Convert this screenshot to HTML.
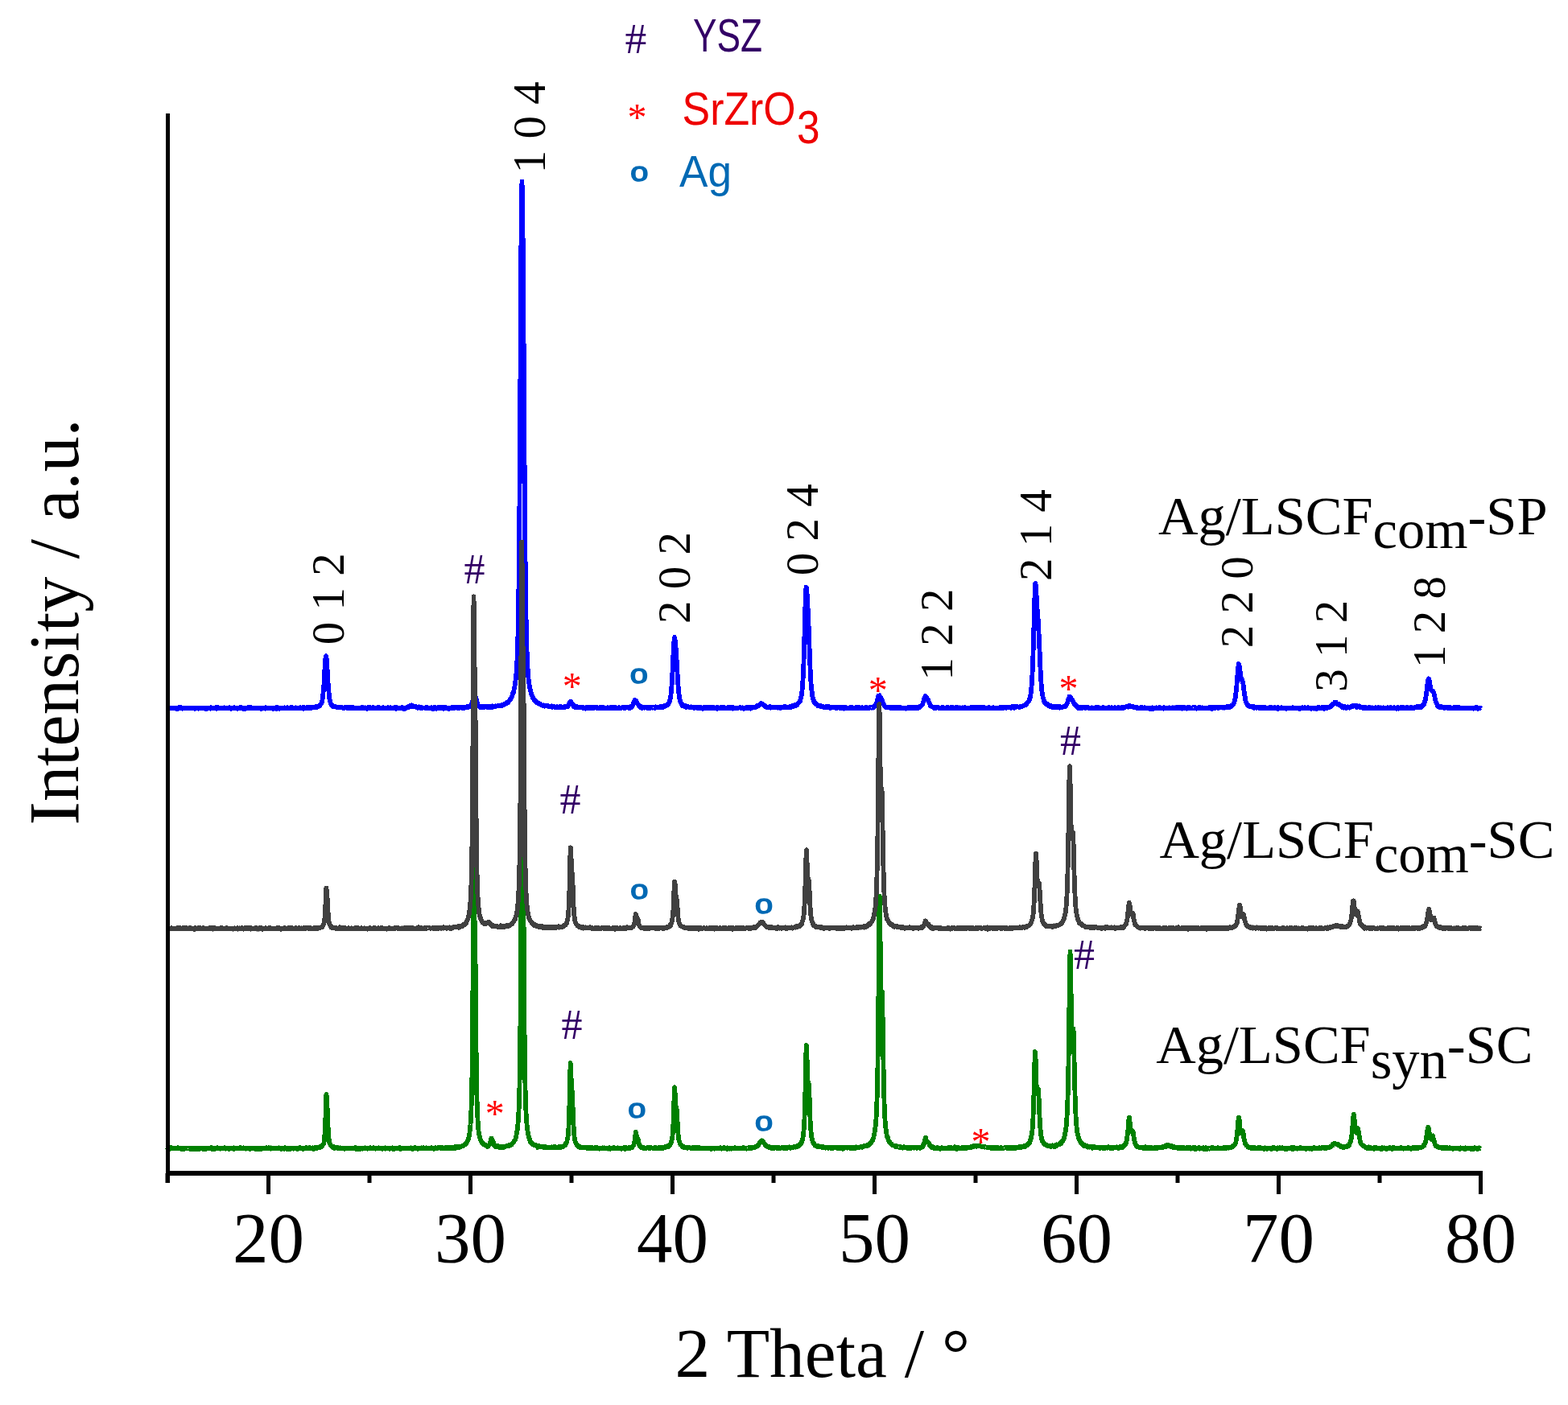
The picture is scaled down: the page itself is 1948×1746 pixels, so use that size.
<!DOCTYPE html><html><head><meta charset="utf-8"><title>XRD patterns</title>
<style>html,body{margin:0;padding:0;background:#fff;}svg{display:block;font-variant-ligatures:none;font-kerning:normal;}</style></head><body>
<svg width="1948" height="1746" viewBox="0 0 1948 1746">
<rect width="1948" height="1746" fill="#fff"/>
<g fill="none" stroke-width="5.8" stroke-linejoin="round" stroke-linecap="butt">
<polyline shape-rendering="crispEdges" stroke="#0000ff" points="208.0,879.8 208.5,879.7 209.0,879.8 209.5,880.5 210.0,879.6 210.5,879.8 211.0,880.2 211.5,879.7 212.0,879.8 212.5,879.9 213.0,880.0 213.5,879.8 214.0,880.3 214.5,880.0 215.0,880.2 215.5,879.7 216.0,879.9 216.5,880.1 217.0,880.3 217.5,880.1 218.0,880.0 218.5,880.1 219.0,879.4 219.5,879.6 220.0,881.1 220.5,880.7 221.0,880.1 221.5,880.1 222.0,879.9 222.5,879.9 223.0,879.1 223.5,880.4 224.0,880.1 224.5,879.2 225.0,879.7 225.5,879.7 226.0,880.2 226.5,880.6 227.0,879.9 227.5,879.9 228.0,880.5 228.5,880.2 229.0,880.0 229.5,880.3 230.0,880.0 230.5,879.9 231.0,880.0 231.5,880.2 232.0,879.8 232.5,879.6 233.0,879.9 233.5,880.3 234.0,879.7 234.5,880.2 235.0,879.6 235.5,880.4 236.0,879.6 236.5,880.0 237.0,880.5 237.5,880.1 238.0,880.0 238.5,879.8 239.0,880.4 239.5,880.4 240.0,879.9 240.5,880.2 241.0,879.9 241.5,879.7 242.0,880.6 242.5,879.9 243.0,879.5 243.5,880.1 244.0,880.3 244.5,879.7 245.0,879.9 245.5,879.6 246.0,880.1 246.5,880.6 247.0,880.0 247.5,880.1 248.0,879.6 248.5,879.9 249.0,880.6 249.5,880.4 250.0,879.6 250.5,879.7 251.0,880.2 251.5,880.0 252.0,879.8 252.5,879.8 253.0,879.6 253.5,879.9 254.0,880.0 254.5,880.1 255.0,879.6 255.5,880.9 256.0,880.0 256.5,879.9 257.0,880.6 257.5,879.8 258.0,880.2 258.5,879.6 259.0,880.0 259.5,879.7 260.0,879.5 260.5,879.8 261.0,880.3 261.5,880.6 262.0,879.3 262.5,880.0 263.0,880.3 263.5,879.9 264.0,880.1 264.5,879.6 265.0,880.0 265.5,880.0 266.0,880.3 266.5,879.8 267.0,880.4 267.5,879.7 268.0,879.4 268.5,880.6 269.0,881.0 269.5,879.7 270.0,878.9 270.5,880.4 271.0,880.5 271.5,879.7 272.0,880.3 272.5,880.2 273.0,880.1 273.5,879.8 274.0,880.1 274.5,879.9 275.0,880.0 275.5,880.3 276.0,880.1 276.5,880.3 277.0,880.0 277.5,880.4 278.0,880.4 278.5,879.4 279.0,880.0 279.5,880.0 280.0,879.8 280.5,880.1 281.0,880.1 281.5,879.8 282.0,879.8 282.5,880.4 283.0,879.6 283.5,880.2 284.0,880.4 284.5,880.3 285.0,880.1 285.5,879.3 286.0,880.5 286.5,879.9 287.0,880.8 287.5,880.0 288.0,879.6 288.5,880.0 289.0,880.2 289.5,879.9 290.0,879.7 290.5,879.7 291.0,879.2 291.5,879.9 292.0,880.2 292.5,880.0 293.0,880.0 293.5,879.9 294.0,880.0 294.5,879.9 295.0,880.6 295.5,879.6 296.0,880.2 296.5,880.4 297.0,879.7 297.5,879.4 298.0,879.8 298.5,879.9 299.0,880.3 299.5,878.8 300.0,879.6 300.5,880.4 301.0,880.3 301.5,879.9 302.0,880.6 302.5,879.9 303.0,880.1 303.5,879.5 304.0,879.6 304.5,881.0 305.0,879.9 305.5,880.6 306.0,879.5 306.5,879.9 307.0,879.8 307.5,880.4 308.0,879.2 308.5,879.1 309.0,880.4 309.5,879.8 310.0,880.2 310.5,880.0 311.0,880.5 311.5,879.2 312.0,880.3 312.5,880.1 313.0,879.8 313.5,880.2 314.0,880.0 314.5,880.2 315.0,880.0 315.5,880.4 316.0,880.1 316.5,880.0 317.0,880.0 317.5,879.9 318.0,880.1 318.5,879.6 319.0,880.1 319.5,880.0 320.0,880.2 320.5,880.2 321.0,880.5 321.5,879.7 322.0,880.4 322.5,880.2 323.0,879.8 323.5,879.8 324.0,880.1 324.5,880.8 325.0,879.8 325.5,879.8 326.0,880.5 326.5,879.6 327.0,880.2 327.5,880.4 328.0,879.9 328.5,880.0 329.0,879.9 329.5,880.6 330.0,879.2 330.5,880.2 331.0,880.5 331.5,879.7 332.0,880.1 332.5,879.8 333.0,880.1 333.5,879.9 334.0,879.8 334.5,880.2 335.0,879.6 335.5,880.1 336.0,880.3 336.5,879.9 337.0,879.7 337.5,880.0 338.0,880.3 338.5,879.7 339.0,880.7 339.5,880.3 340.0,879.9 340.5,880.5 341.0,879.9 341.5,879.9 342.0,879.6 342.5,880.3 343.0,880.2 343.5,879.8 344.0,880.9 344.5,878.7 345.0,880.2 345.5,880.2 346.0,879.6 346.5,879.9 347.0,880.6 347.5,879.7 348.0,879.5 348.5,880.1 349.0,880.0 349.5,879.7 350.0,880.3 350.5,879.7 351.0,879.8 351.5,880.2 352.0,880.5 352.5,880.0 353.0,880.2 353.5,879.5 354.0,879.8 354.5,879.6 355.0,879.8 355.5,879.8 356.0,880.2 356.5,879.6 357.0,879.2 357.5,880.0 358.0,880.1 358.5,880.0 359.0,880.1 359.5,880.2 360.0,879.8 360.5,880.0 361.0,879.3 361.5,879.9 362.0,879.7 362.5,879.5 363.0,880.0 363.5,879.3 364.0,880.1 364.5,880.1 365.0,880.0 365.5,879.9 366.0,880.4 366.5,879.8 367.0,880.5 367.5,879.3 368.0,879.9 368.5,880.1 369.0,880.2 369.5,879.9 370.0,879.9 370.5,880.2 371.0,880.2 371.5,879.9 372.0,879.9 372.5,879.4 373.0,879.3 373.5,879.7 374.0,879.6 374.5,880.3 375.0,879.5 375.5,879.7 376.0,879.5 376.5,879.1 377.0,880.7 377.5,879.6 378.0,880.1 378.5,879.5 379.0,880.1 379.5,879.9 380.0,879.5 380.5,879.4 381.0,879.5 381.5,879.9 382.0,879.8 382.5,879.2 383.0,879.5 383.5,880.3 384.0,879.1 384.5,879.3 385.0,879.1 385.5,879.6 386.0,879.2 386.5,879.8 387.0,879.1 387.5,879.4 388.0,879.0 388.5,878.8 389.0,879.5 389.5,879.1 390.0,879.1 390.5,878.5 391.0,878.7 391.5,879.4 392.0,878.7 392.5,878.4 393.0,877.6 393.5,878.9 394.0,878.5 394.5,877.7 395.0,878.5 395.5,878.2 396.0,877.4 396.5,876.7 397.0,877.1 397.5,876.2 398.0,876.0 398.5,874.8 399.0,874.5 399.5,873.3 400.0,872.5 400.5,869.8 401.0,867.0 401.5,861.5 402.0,856.6 402.5,849.9 403.0,840.5 403.5,830.7 404.0,823.1 404.5,817.4 404.6,816.7 405.0,815.3 405.5,816.9 406.0,820.9 406.5,829.6 407.0,839.4 407.5,847.9 408.0,854.6 408.5,860.1 409.0,864.9 409.5,869.4 410.0,870.7 410.5,872.7 411.0,874.1 411.5,874.7 412.0,876.2 412.5,877.4 413.0,876.5 413.5,877.8 414.0,877.5 414.5,878.1 415.0,877.5 415.5,877.7 416.0,878.5 416.5,878.1 417.0,878.5 417.5,878.7 418.0,878.7 418.5,878.9 419.0,878.7 419.5,878.9 420.0,879.1 420.5,878.7 421.0,879.3 421.5,879.1 422.0,879.1 422.5,878.7 423.0,879.5 423.5,878.7 424.0,879.3 424.5,879.5 425.0,879.6 425.5,879.3 426.0,879.5 426.5,879.9 427.0,880.0 427.5,879.7 428.0,879.8 428.5,879.1 429.0,879.1 429.5,879.3 430.0,879.5 430.5,879.8 431.0,879.6 431.5,879.2 432.0,878.8 432.5,879.3 433.0,879.7 433.5,879.7 434.0,879.8 434.5,880.1 435.0,879.8 435.5,879.7 436.0,879.0 436.5,879.7 437.0,879.2 437.5,879.0 438.0,879.7 438.5,879.1 439.0,879.5 439.5,879.9 440.0,879.7 440.5,879.7 441.0,879.9 441.5,879.8 442.0,879.7 442.5,879.6 443.0,880.1 443.5,879.8 444.0,880.4 444.5,879.7 445.0,879.5 445.5,879.7 446.0,879.7 446.5,879.6 447.0,880.1 447.5,879.9 448.0,879.6 448.5,879.4 449.0,879.7 449.5,878.8 450.0,879.9 450.5,879.4 451.0,879.3 451.5,879.9 452.0,880.2 452.5,880.3 453.0,879.8 453.5,879.4 454.0,879.7 454.5,879.8 455.0,880.0 455.5,879.6 456.0,880.7 456.5,879.7 457.0,879.8 457.5,880.4 458.0,879.0 458.5,880.4 459.0,880.2 459.5,880.4 460.0,879.4 460.5,880.2 461.0,879.6 461.5,879.6 462.0,879.8 462.5,880.4 463.0,880.1 463.5,879.2 464.0,880.3 464.5,880.2 465.0,879.9 465.5,879.5 466.0,879.7 466.5,879.6 467.0,880.3 467.5,879.5 468.0,879.6 468.5,880.5 469.0,879.3 469.5,878.9 470.0,880.2 470.5,879.8 471.0,879.3 471.5,880.4 472.0,880.6 472.5,880.4 473.0,880.1 473.5,880.1 474.0,879.6 474.5,879.7 475.0,880.4 475.5,879.6 476.0,879.1 476.5,879.4 477.0,879.4 477.5,879.8 478.0,879.5 478.5,880.2 479.0,879.6 479.5,879.9 480.0,879.4 480.5,879.7 481.0,880.2 481.5,879.8 482.0,879.3 482.5,880.3 483.0,880.0 483.5,880.1 484.0,880.4 484.5,879.5 485.0,879.2 485.5,879.5 486.0,879.7 486.5,879.8 487.0,879.7 487.5,880.1 488.0,879.4 488.5,879.4 489.0,879.4 489.5,880.0 490.0,879.8 490.5,879.9 491.0,879.1 491.5,879.8 492.0,880.6 492.5,879.6 493.0,879.0 493.5,879.5 494.0,879.4 494.5,879.8 495.0,880.5 495.5,880.5 496.0,880.3 496.5,879.7 497.0,879.7 497.5,879.5 498.0,879.8 498.5,879.4 499.0,879.9 499.5,880.0 500.0,879.3 500.5,880.1 501.0,880.7 501.5,880.1 502.0,879.6 502.5,880.9 503.0,879.7 503.5,879.7 504.0,880.1 504.5,880.0 505.0,879.5 505.5,879.4 506.0,878.5 506.5,878.7 507.0,879.5 507.5,879.1 508.0,878.1 508.5,877.5 509.0,878.0 509.5,877.7 510.0,877.0 510.5,877.5 511.0,877.6 511.3,877.8 511.5,877.6 512.0,876.4 512.5,877.9 513.0,877.3 513.5,878.3 514.0,877.8 514.5,877.8 515.0,878.4 515.5,878.1 516.0,878.3 516.5,878.5 517.0,878.2 517.5,878.6 518.0,879.2 518.5,879.5 519.0,879.7 519.5,879.3 520.0,879.5 520.5,878.4 521.0,878.7 521.5,879.7 522.0,879.7 522.5,878.9 523.0,880.4 523.5,879.8 524.0,879.2 524.5,880.1 525.0,879.9 525.5,879.8 526.0,879.4 526.5,879.6 527.0,879.6 527.5,879.5 528.0,879.7 528.5,879.3 529.0,880.0 529.5,880.3 530.0,880.4 530.5,880.4 531.0,880.0 531.5,879.3 532.0,879.7 532.5,879.9 533.0,880.1 533.5,880.0 534.0,880.0 534.5,880.0 535.0,880.3 535.5,879.9 536.0,879.3 536.5,880.6 537.0,879.8 537.5,880.6 538.0,879.7 538.5,880.0 539.0,880.6 539.5,879.7 540.0,879.0 540.5,879.7 541.0,879.2 541.5,879.8 542.0,880.6 542.5,879.5 543.0,879.9 543.5,880.3 544.0,879.4 544.5,879.6 545.0,879.9 545.5,879.3 546.0,880.1 546.5,879.4 547.0,880.0 547.5,879.5 548.0,880.2 548.5,879.1 549.0,879.6 549.5,879.1 550.0,880.0 550.5,879.8 551.0,879.3 551.5,880.8 552.0,880.1 552.5,879.2 553.0,879.6 553.5,879.3 554.0,879.9 554.5,879.4 555.0,880.0 555.5,880.3 556.0,880.3 556.5,879.9 557.0,879.9 557.5,879.8 558.0,881.0 558.5,880.4 559.0,879.8 559.5,879.6 560.0,879.8 560.5,879.9 561.0,880.4 561.5,878.9 562.0,880.1 562.5,878.9 563.0,878.9 563.5,879.4 564.0,879.7 564.5,879.5 565.0,880.0 565.5,879.5 566.0,879.5 566.5,879.2 567.0,879.2 567.5,878.9 568.0,879.6 568.5,879.0 569.0,879.7 569.5,879.8 570.0,879.7 570.5,879.9 571.0,879.0 571.5,879.1 572.0,878.9 572.5,879.4 573.0,879.2 573.5,879.5 574.0,879.8 574.5,879.1 575.0,879.2 575.5,879.7 576.0,879.0 576.5,880.0 577.0,879.2 577.5,879.4 578.0,879.3 578.5,879.5 579.0,878.7 579.5,878.7 580.0,878.3 580.5,878.8 581.0,879.3 581.5,878.9 582.0,878.9 582.5,878.2 583.0,877.9 583.5,877.8 584.0,878.0 584.5,877.5 585.0,876.6 585.5,876.5 586.0,874.5 586.5,873.4 587.0,872.0 587.5,869.9 588.0,867.4 588.5,865.7 589.0,864.9 589.5,863.8 590.0,864.6 590.5,864.7 591.0,867.4 591.5,868.9 592.0,869.7 592.5,872.0 593.0,874.0 593.5,875.5 594.0,876.0 594.5,877.4 595.0,877.2 595.5,878.4 596.0,877.9 596.5,878.8 597.0,878.1 597.5,877.7 598.0,878.4 598.5,878.1 599.0,878.6 599.5,878.8 600.0,879.1 600.5,878.2 601.0,878.5 601.5,877.9 602.0,879.0 602.5,878.6 603.0,878.4 603.5,877.9 604.0,878.0 604.5,878.7 605.0,879.0 605.5,879.3 606.0,877.9 606.5,878.5 607.0,878.6 607.5,878.5 608.0,879.3 608.5,879.1 609.0,877.9 609.5,878.1 610.0,878.3 610.5,878.6 611.0,877.9 611.5,877.5 612.0,878.8 612.5,878.1 613.0,878.2 613.5,877.7 614.0,878.0 614.5,877.9 615.0,878.2 615.5,877.5 616.0,878.0 616.5,877.6 617.0,877.6 617.5,877.3 618.0,877.5 618.5,877.4 619.0,876.7 619.5,877.4 620.0,877.3 620.5,876.6 621.0,876.8 621.5,876.6 622.0,876.4 622.5,877.0 623.0,876.2 623.5,875.7 624.0,875.9 624.5,876.5 625.0,875.7 625.5,875.9 626.0,875.5 626.5,875.2 627.0,875.5 627.5,874.3 628.0,874.5 628.5,873.8 629.0,873.3 629.5,873.3 630.0,873.0 630.5,873.5 631.0,872.4 631.5,872.9 632.0,871.4 632.5,871.1 633.0,870.1 633.5,869.5 634.0,869.3 634.5,868.1 635.0,867.8 635.5,865.8 636.0,865.0 636.5,864.7 637.0,861.9 637.5,861.6 638.0,860.1 638.5,857.3 639.0,855.6 639.5,852.5 640.0,849.7 640.5,845.5 641.0,841.2 641.5,835.6 642.0,828.0 642.5,819.8 643.0,805.2 643.5,788.1 644.0,761.9 644.5,726.2 645.0,679.6 645.5,619.1 646.0,543.6 646.5,457.4 647.0,371.8 647.5,292.4 648.0,241.6 648.5,225.7 649.0,243.1 649.5,283.3 650.0,340.7 650.5,409.2 651.0,490.3 651.5,561.6 652.0,630.4 652.5,687.9 653.0,730.2 653.5,764.6 654.0,787.4 654.5,807.3 655.0,819.1 655.5,830.4 656.0,835.5 656.5,842.8 657.0,847.0 657.5,850.4 658.0,853.7 658.5,855.5 659.0,857.5 659.5,860.1 660.0,861.4 660.5,863.7 661.0,864.6 661.5,865.4 662.0,867.3 662.5,867.1 663.0,868.5 663.5,869.7 664.0,869.9 664.5,870.3 665.0,871.6 665.5,871.3 666.0,872.6 666.5,871.9 667.0,873.0 667.5,873.5 668.0,873.3 668.5,874.4 669.0,874.3 669.5,873.9 670.0,874.8 670.5,874.4 671.0,875.3 671.5,875.7 672.0,875.5 672.5,875.9 673.0,876.0 673.5,876.3 674.0,876.5 674.5,876.9 675.0,876.6 675.5,876.4 676.0,876.6 676.5,877.7 677.0,876.6 677.5,877.2 678.0,877.6 678.5,877.2 679.0,876.9 679.5,877.1 680.0,877.3 680.5,877.2 681.0,877.3 681.5,877.7 682.0,878.5 682.5,878.1 683.0,877.8 683.5,878.0 684.0,877.7 684.5,877.7 685.0,878.1 685.5,877.4 686.0,878.7 686.5,877.9 687.0,878.5 687.5,878.6 688.0,878.3 688.5,878.7 689.0,878.1 689.5,879.0 690.0,878.6 690.5,878.9 691.0,878.5 691.5,878.8 692.0,879.1 692.5,878.3 693.0,879.3 693.5,879.0 694.0,878.4 694.5,878.3 695.0,878.3 695.5,878.7 696.0,877.8 696.5,879.2 697.0,879.1 697.5,879.1 698.0,878.5 698.5,878.7 699.0,878.4 699.5,878.4 700.0,878.8 700.5,879.0 701.0,879.1 701.5,877.9 702.0,878.3 702.5,878.4 703.0,878.6 703.5,878.4 704.0,878.3 704.5,878.0 705.0,878.4 705.5,876.9 706.0,876.4 706.5,875.2 707.0,874.4 707.5,873.3 708.0,873.0 708.4,872.2 708.5,873.5 709.0,872.7 709.5,872.2 710.0,873.4 710.5,873.7 711.0,874.1 711.5,875.6 712.0,875.6 712.5,877.2 713.0,878.2 713.5,878.3 714.0,878.8 714.5,878.4 715.0,878.8 715.5,878.6 716.0,879.3 716.5,878.0 717.0,879.0 717.5,879.1 718.0,879.0 718.5,879.3 719.0,879.5 719.5,879.3 720.0,878.9 720.5,879.1 721.0,879.0 721.5,879.5 722.0,879.6 722.5,878.6 723.0,879.5 723.5,879.2 724.0,879.1 724.5,878.8 725.0,880.0 725.5,879.6 726.0,879.6 726.5,879.6 727.0,880.4 727.5,879.5 728.0,880.6 728.5,879.3 729.0,879.3 729.5,879.3 730.0,880.0 730.5,879.2 731.0,879.9 731.5,880.1 732.0,879.9 732.5,879.9 733.0,879.5 733.5,879.2 734.0,880.3 734.5,879.8 735.0,879.2 735.5,879.5 736.0,879.4 736.5,880.2 737.0,879.3 737.5,880.2 738.0,879.5 738.5,879.1 739.0,878.9 739.5,879.4 740.0,879.2 740.5,879.8 741.0,879.8 741.5,879.2 742.0,879.7 742.5,879.7 743.0,880.3 743.5,879.5 744.0,879.4 744.5,880.0 745.0,879.8 745.5,879.0 746.0,879.6 746.5,879.8 747.0,880.1 747.5,879.9 748.0,879.8 748.5,879.1 749.0,879.9 749.5,878.9 750.0,880.1 750.5,879.8 751.0,879.4 751.5,879.8 752.0,880.0 752.5,879.7 753.0,879.5 753.5,880.3 754.0,879.8 754.5,879.7 755.0,879.9 755.5,879.3 756.0,879.9 756.5,879.8 757.0,879.6 757.5,879.4 758.0,879.8 758.5,879.0 759.0,880.0 759.5,879.1 760.0,880.0 760.5,879.8 761.0,879.5 761.5,878.8 762.0,879.3 762.5,879.9 763.0,879.1 763.5,879.8 764.0,880.0 764.5,879.4 765.0,879.6 765.5,879.3 766.0,879.9 766.5,879.5 767.0,879.4 767.5,879.5 768.0,879.7 768.5,880.0 769.0,879.3 769.5,879.6 770.0,879.5 770.5,879.8 771.0,879.6 771.5,880.1 772.0,879.5 772.5,879.3 773.0,879.6 773.5,879.2 774.0,879.4 774.5,879.1 775.0,879.6 775.5,880.2 776.0,879.4 776.5,879.6 777.0,879.9 777.5,879.2 778.0,879.4 778.5,879.3 779.0,879.6 779.5,879.3 780.0,879.4 780.5,878.6 781.0,879.6 781.5,879.1 782.0,879.0 782.5,879.8 783.0,879.6 783.5,877.8 784.0,879.2 784.5,877.9 785.0,878.2 785.5,877.2 786.0,877.2 786.5,875.7 787.0,873.6 787.5,873.7 788.0,871.9 788.5,871.2 788.7,869.8 789.0,870.9 789.5,870.4 790.0,870.9 790.5,871.9 791.0,873.0 791.5,872.6 792.0,874.8 792.5,875.4 793.0,875.9 793.5,876.6 794.0,877.8 794.5,877.9 795.0,878.4 795.5,878.1 796.0,877.7 796.5,879.7 797.0,878.7 797.5,880.3 798.0,879.3 798.5,879.6 799.0,878.5 799.5,879.2 800.0,879.6 800.5,879.6 801.0,879.5 801.5,879.3 802.0,879.4 802.5,879.0 803.0,878.8 803.5,879.2 804.0,879.9 804.5,880.0 805.0,879.7 805.5,879.1 806.0,879.5 806.5,879.7 807.0,879.3 807.5,880.0 808.0,879.9 808.5,879.2 809.0,879.6 809.5,879.5 810.0,879.3 810.5,879.6 811.0,879.6 811.5,879.5 812.0,879.0 812.5,879.2 813.0,879.7 813.5,879.5 814.0,879.0 814.5,878.5 815.0,879.6 815.5,879.0 816.0,879.1 816.5,878.7 817.0,878.9 817.5,878.5 818.0,878.9 818.5,879.2 819.0,879.1 819.5,878.7 820.0,878.7 820.5,877.8 821.0,878.0 821.5,879.1 822.0,878.5 822.5,879.1 823.0,879.0 823.5,877.9 824.0,878.0 824.5,878.5 825.0,877.2 825.5,878.2 826.0,877.8 826.5,877.2 827.0,877.2 827.5,877.2 828.0,876.7 828.5,876.2 829.0,876.1 829.5,875.5 830.0,875.9 830.5,875.0 831.0,873.5 831.5,873.1 832.0,871.4 832.5,869.2 833.0,867.6 833.5,863.3 834.0,858.1 834.5,852.4 835.0,844.2 835.5,834.1 836.0,824.1 836.5,811.7 837.0,801.9 837.5,795.8 837.6,794.0 838.0,791.9 838.5,793.5 839.0,798.4 839.5,804.4 840.0,808.9 840.5,818.2 841.0,827.3 841.5,836.0 842.0,845.1 842.5,851.6 843.0,859.5 843.5,862.7 844.0,866.2 844.5,868.7 845.0,871.5 845.5,871.9 846.0,874.0 846.5,875.1 847.0,874.9 847.5,876.3 848.0,877.0 848.5,876.2 849.0,876.5 849.5,876.6 850.0,877.3 850.5,877.2 851.0,878.0 851.5,877.2 852.0,877.6 852.5,877.8 853.0,879.0 853.5,877.9 854.0,877.9 854.5,878.1 855.0,878.4 855.5,878.7 856.0,878.8 856.5,878.6 857.0,878.7 857.5,878.8 858.0,879.0 858.5,878.4 859.0,879.5 859.5,879.1 860.0,879.3 860.5,878.7 861.0,878.7 861.5,878.8 862.0,879.0 862.5,879.8 863.0,878.5 863.5,879.2 864.0,879.5 864.5,879.4 865.0,879.5 865.5,879.3 866.0,879.3 866.5,879.5 867.0,880.4 867.5,879.4 868.0,879.3 868.5,879.4 869.0,879.6 869.5,879.3 870.0,879.1 870.5,879.7 871.0,879.1 871.5,880.3 872.0,880.1 872.5,880.0 873.0,880.6 873.5,880.0 874.0,879.1 874.5,879.0 875.0,879.6 875.5,878.9 876.0,879.6 876.5,879.9 877.0,879.5 877.5,879.7 878.0,879.4 878.5,880.3 879.0,879.3 879.5,879.9 880.0,879.3 880.5,880.3 881.0,879.9 881.5,879.6 882.0,879.3 882.5,880.2 883.0,879.0 883.5,879.5 884.0,879.9 884.5,879.1 885.0,879.6 885.5,879.2 886.0,878.8 886.5,879.5 887.0,880.0 887.5,879.9 888.0,879.6 888.5,879.6 889.0,880.0 889.5,880.1 890.0,879.5 890.5,878.8 891.0,880.8 891.5,879.5 892.0,879.9 892.5,879.4 893.0,879.5 893.5,879.7 894.0,880.2 894.5,880.3 895.0,880.5 895.5,879.2 896.0,879.9 896.5,880.0 897.0,879.8 897.5,880.3 898.0,879.6 898.5,879.2 899.0,879.3 899.5,880.4 900.0,879.3 900.5,880.1 901.0,880.5 901.5,880.3 902.0,880.2 902.5,879.8 903.0,880.2 903.5,880.4 904.0,879.9 904.5,879.0 905.0,880.1 905.5,879.6 906.0,879.8 906.5,878.7 907.0,880.5 907.5,879.4 908.0,880.3 908.5,880.0 909.0,879.8 909.5,878.5 910.0,880.1 910.5,880.5 911.0,879.2 911.5,880.1 912.0,879.9 912.5,879.8 913.0,879.7 913.5,879.8 914.0,879.6 914.5,879.6 915.0,879.4 915.5,880.0 916.0,880.0 916.5,880.1 917.0,879.5 917.5,879.8 918.0,879.5 918.5,879.5 919.0,879.1 919.5,879.7 920.0,879.4 920.5,880.2 921.0,880.2 921.5,879.9 922.0,880.2 922.5,879.4 923.0,880.2 923.5,879.7 924.0,880.7 924.5,880.1 925.0,879.8 925.5,879.8 926.0,880.4 926.5,879.6 927.0,879.3 927.5,879.4 928.0,879.9 928.5,879.9 929.0,880.0 929.5,879.4 930.0,878.9 930.5,879.8 931.0,880.2 931.5,879.4 932.0,879.2 932.5,880.6 933.0,879.5 933.5,878.5 934.0,879.0 934.5,879.1 935.0,879.2 935.5,878.8 936.0,879.6 936.5,879.5 937.0,878.9 937.5,879.2 938.0,878.7 938.5,879.4 939.0,878.0 939.5,877.8 940.0,878.0 940.5,877.6 941.0,876.7 941.5,877.5 942.0,876.8 942.5,876.4 943.0,876.0 943.5,875.7 944.0,875.2 944.5,875.2 944.6,875.7 945.0,875.4 945.5,874.1 946.0,874.6 946.5,875.0 947.0,875.2 947.5,875.3 948.0,875.2 948.5,875.9 949.0,876.6 949.5,877.1 950.0,877.6 950.5,878.1 951.0,877.3 951.5,878.4 952.0,879.0 952.5,878.8 953.0,878.8 953.5,878.7 954.0,879.3 954.5,878.8 955.0,878.9 955.5,878.6 956.0,878.4 956.5,878.0 957.0,878.6 957.5,879.7 958.0,879.4 958.5,879.3 959.0,878.5 959.5,879.0 960.0,878.8 960.5,879.4 961.0,879.1 961.5,879.1 962.0,879.5 962.5,879.1 963.0,878.9 963.5,879.4 964.0,879.0 964.5,878.7 965.0,879.3 965.5,879.3 966.0,879.6 966.5,879.6 967.0,879.3 967.5,879.4 968.0,879.4 968.5,879.6 969.0,879.8 969.5,879.6 970.0,879.0 970.5,879.6 971.0,879.4 971.5,878.5 972.0,878.7 972.5,879.4 973.0,878.8 973.5,879.3 974.0,878.4 974.5,879.3 975.0,879.0 975.5,878.5 976.0,879.3 976.5,878.3 977.0,879.2 977.5,878.7 978.0,878.9 978.5,878.9 979.0,878.6 979.5,878.6 980.0,879.0 980.5,878.2 981.0,878.1 981.5,877.9 982.0,877.8 982.5,878.9 983.0,877.8 983.5,877.5 984.0,878.2 984.5,877.4 985.0,877.1 985.5,877.8 986.0,878.0 986.5,877.5 987.0,876.1 987.5,876.9 988.0,877.1 988.5,876.5 989.0,876.7 989.5,876.1 990.0,875.6 990.5,876.4 991.0,874.6 991.5,873.9 992.0,873.9 992.5,873.4 993.0,872.3 993.5,872.4 994.0,871.2 994.5,869.5 995.0,867.5 995.5,865.1 996.0,862.6 996.5,858.2 997.0,852.4 997.5,844.8 998.0,836.0 998.5,822.7 999.0,806.5 999.5,788.1 1000.0,769.5 1000.5,751.4 1001.0,736.1 1001.3,732.4 1001.5,729.8 1002.0,730.6 1002.5,735.4 1003.0,745.8 1003.5,754.2 1004.0,763.7 1004.5,775.2 1005.0,788.0 1005.5,802.9 1006.0,815.8 1006.5,829.6 1007.0,839.7 1007.5,848.7 1008.0,854.3 1008.5,858.8 1009.0,862.8 1009.5,866.4 1010.0,868.1 1010.5,869.3 1011.0,871.6 1011.5,872.5 1012.0,872.9 1012.5,873.7 1013.0,873.7 1013.5,873.9 1014.0,875.3 1014.5,875.7 1015.0,875.9 1015.5,876.0 1016.0,876.9 1016.5,876.3 1017.0,876.5 1017.5,876.9 1018.0,877.4 1018.5,877.1 1019.0,877.1 1019.5,878.2 1020.0,877.1 1020.5,878.2 1021.0,877.9 1021.5,878.0 1022.0,878.2 1022.5,877.9 1023.0,878.6 1023.5,879.1 1024.0,878.6 1024.5,879.1 1025.0,878.9 1025.5,878.8 1026.0,878.9 1026.5,878.3 1027.0,879.3 1027.5,878.7 1028.0,879.3 1028.5,878.6 1029.0,878.0 1029.5,878.9 1030.0,878.3 1030.5,879.4 1031.0,879.7 1031.5,879.8 1032.0,879.7 1032.5,879.7 1033.0,879.2 1033.5,878.8 1034.0,879.1 1034.5,879.1 1035.0,879.4 1035.5,879.6 1036.0,879.4 1036.5,879.3 1037.0,879.3 1037.5,879.2 1038.0,879.4 1038.5,880.2 1039.0,879.9 1039.5,879.8 1040.0,878.8 1040.5,879.6 1041.0,879.3 1041.5,878.9 1042.0,879.4 1042.5,879.7 1043.0,879.6 1043.5,880.0 1044.0,879.5 1044.5,879.1 1045.0,879.4 1045.5,879.3 1046.0,879.3 1046.5,878.8 1047.0,879.9 1047.5,879.6 1048.0,879.4 1048.5,879.1 1049.0,880.6 1049.5,879.8 1050.0,879.8 1050.5,880.1 1051.0,879.3 1051.5,879.5 1052.0,879.8 1052.5,880.3 1053.0,880.2 1053.5,880.1 1054.0,879.5 1054.5,880.1 1055.0,880.5 1055.5,880.3 1056.0,879.9 1056.5,879.0 1057.0,878.7 1057.5,879.9 1058.0,879.3 1058.5,879.1 1059.0,879.2 1059.5,879.7 1060.0,880.2 1060.5,879.9 1061.0,880.5 1061.5,879.6 1062.0,879.4 1062.5,880.4 1063.0,879.7 1063.5,879.6 1064.0,879.2 1064.5,879.1 1065.0,879.3 1065.5,879.9 1066.0,879.8 1066.5,879.2 1067.0,879.9 1067.5,879.7 1068.0,879.1 1068.5,879.7 1069.0,880.2 1069.5,879.8 1070.0,879.4 1070.5,879.8 1071.0,879.1 1071.5,879.2 1072.0,879.9 1072.5,879.8 1073.0,879.7 1073.5,880.1 1074.0,879.5 1074.5,879.6 1075.0,879.2 1075.5,879.9 1076.0,880.0 1076.5,878.9 1077.0,879.9 1077.5,879.7 1078.0,879.9 1078.5,879.6 1079.0,879.8 1079.5,879.4 1080.0,879.7 1080.5,879.5 1081.0,879.1 1081.5,879.0 1082.0,879.0 1082.5,879.5 1083.0,879.0 1083.5,879.1 1084.0,879.0 1084.5,879.5 1085.0,878.5 1085.5,878.7 1086.0,877.7 1086.5,877.7 1087.0,877.9 1087.5,877.6 1088.0,875.8 1088.5,875.5 1089.0,873.4 1089.5,872.0 1090.0,869.4 1090.5,868.3 1091.0,866.1 1091.5,864.5 1091.8,864.9 1092.0,864.6 1092.5,864.3 1093.0,865.1 1093.5,866.6 1094.0,866.9 1094.5,866.9 1095.0,869.1 1095.5,869.3 1096.0,871.1 1096.5,872.0 1097.0,874.1 1097.5,874.7 1098.0,875.9 1098.5,876.7 1099.0,877.2 1099.5,878.2 1100.0,878.8 1100.5,878.9 1101.0,878.7 1101.5,879.3 1102.0,878.7 1102.5,878.9 1103.0,879.0 1103.5,879.3 1104.0,879.2 1104.5,879.3 1105.0,878.8 1105.5,879.7 1106.0,879.6 1106.5,879.6 1107.0,879.6 1107.5,879.8 1108.0,879.8 1108.5,879.0 1109.0,879.9 1109.5,879.2 1110.0,878.7 1110.5,879.0 1111.0,880.3 1111.5,879.4 1112.0,879.4 1112.5,879.5 1113.0,880.3 1113.5,879.3 1114.0,880.1 1114.5,879.1 1115.0,879.2 1115.5,878.6 1116.0,879.9 1116.5,880.3 1117.0,879.2 1117.5,879.3 1118.0,879.8 1118.5,879.1 1119.0,879.4 1119.5,880.2 1120.0,879.8 1120.5,879.8 1121.0,879.7 1121.5,879.6 1122.0,880.0 1122.5,879.8 1123.0,879.5 1123.5,879.8 1124.0,879.9 1124.5,879.8 1125.0,879.7 1125.5,880.5 1126.0,879.6 1126.5,880.1 1127.0,879.7 1127.5,880.3 1128.0,879.3 1128.5,879.5 1129.0,880.2 1129.5,879.5 1130.0,880.0 1130.5,878.9 1131.0,879.4 1131.5,880.0 1132.0,879.6 1132.5,879.6 1133.0,879.2 1133.5,879.5 1134.0,879.4 1134.5,880.0 1135.0,879.2 1135.5,878.7 1136.0,879.2 1136.5,879.5 1137.0,879.4 1137.5,879.8 1138.0,879.3 1138.5,879.8 1139.0,879.3 1139.5,879.4 1140.0,879.6 1140.5,879.0 1141.0,879.6 1141.5,879.0 1142.0,879.5 1142.5,878.1 1143.0,877.8 1143.5,878.0 1144.0,877.2 1144.5,877.2 1145.0,876.9 1145.5,876.2 1146.0,875.5 1146.5,873.9 1147.0,872.9 1147.5,870.7 1148.0,868.2 1148.5,867.1 1149.0,866.5 1149.3,865.5 1149.5,865.2 1150.0,865.3 1150.5,865.9 1151.0,866.3 1151.5,866.6 1152.0,869.0 1152.5,868.9 1153.0,869.6 1153.5,871.7 1154.0,872.3 1154.5,873.4 1155.0,874.7 1155.5,875.3 1156.0,877.3 1156.5,877.7 1157.0,877.6 1157.5,878.1 1158.0,878.4 1158.5,878.7 1159.0,879.0 1159.5,879.2 1160.0,878.9 1160.5,880.2 1161.0,878.5 1161.5,879.4 1162.0,879.8 1162.5,879.2 1163.0,879.9 1163.5,879.2 1164.0,879.6 1164.5,879.3 1165.0,879.3 1165.5,879.0 1166.0,879.8 1166.5,879.7 1167.0,879.6 1167.5,880.2 1168.0,879.4 1168.5,879.6 1169.0,880.2 1169.5,879.2 1170.0,879.1 1170.5,880.2 1171.0,879.4 1171.5,879.2 1172.0,879.3 1172.5,880.1 1173.0,880.3 1173.5,879.9 1174.0,879.9 1174.5,879.8 1175.0,879.8 1175.5,879.6 1176.0,880.0 1176.5,879.8 1177.0,878.6 1177.5,879.8 1178.0,879.5 1178.5,879.7 1179.0,879.7 1179.5,880.2 1180.0,879.6 1180.5,879.9 1181.0,879.4 1181.5,879.0 1182.0,879.7 1182.5,879.5 1183.0,880.2 1183.5,879.8 1184.0,879.2 1184.5,879.8 1185.0,880.1 1185.5,879.8 1186.0,879.9 1186.5,879.9 1187.0,880.0 1187.5,879.1 1188.0,880.2 1188.5,880.0 1189.0,880.0 1189.5,879.3 1190.0,879.9 1190.5,879.3 1191.0,879.7 1191.5,879.9 1192.0,880.4 1192.5,879.3 1193.0,879.6 1193.5,879.7 1194.0,879.8 1194.5,880.0 1195.0,880.3 1195.5,879.4 1196.0,879.7 1196.5,879.9 1197.0,880.0 1197.5,879.8 1198.0,879.9 1198.5,879.1 1199.0,879.6 1199.5,880.1 1200.0,880.3 1200.5,879.9 1201.0,880.1 1201.5,879.8 1202.0,879.7 1202.5,879.6 1203.0,879.7 1203.5,879.9 1204.0,879.6 1204.5,880.1 1205.0,879.9 1205.5,879.4 1206.0,879.7 1206.5,880.3 1207.0,880.2 1207.5,880.4 1208.0,879.1 1208.5,880.4 1209.0,879.9 1209.5,879.1 1210.0,879.3 1210.5,879.2 1211.0,880.0 1211.5,879.5 1212.0,878.6 1212.5,879.8 1213.0,879.7 1213.5,879.9 1214.0,879.8 1214.5,879.6 1215.0,879.2 1215.5,880.1 1216.0,880.4 1216.5,879.7 1217.0,879.7 1217.5,879.2 1218.0,879.5 1218.5,880.0 1219.0,879.5 1219.5,879.3 1220.0,879.7 1220.5,879.9 1221.0,879.4 1221.5,879.9 1222.0,880.5 1222.5,879.2 1223.0,880.3 1223.5,879.9 1224.0,879.9 1224.5,879.9 1225.0,879.8 1225.5,880.3 1226.0,879.5 1226.5,879.7 1227.0,879.8 1227.5,879.3 1228.0,879.3 1228.5,879.2 1229.0,879.0 1229.5,879.6 1230.0,880.3 1230.5,879.6 1231.0,879.7 1231.5,879.6 1232.0,880.0 1232.5,880.0 1233.0,879.3 1233.5,879.3 1234.0,880.1 1234.5,879.4 1235.0,879.7 1235.5,879.8 1236.0,879.4 1236.5,879.7 1237.0,879.9 1237.5,879.7 1238.0,880.4 1238.5,879.9 1239.0,879.8 1239.5,880.1 1240.0,879.5 1240.5,879.5 1241.0,879.8 1241.5,879.7 1242.0,879.3 1242.5,879.1 1243.0,879.9 1243.5,879.4 1244.0,879.1 1244.5,879.5 1245.0,879.9 1245.5,879.8 1246.0,879.6 1246.5,879.9 1247.0,878.6 1247.5,879.7 1248.0,879.2 1248.5,879.3 1249.0,879.1 1249.5,879.5 1250.0,879.9 1250.5,878.8 1251.0,879.4 1251.5,879.3 1252.0,879.3 1252.5,878.8 1253.0,879.0 1253.5,878.7 1254.0,878.9 1254.5,879.1 1255.0,879.1 1255.5,879.4 1256.0,880.0 1256.5,879.3 1257.0,879.5 1257.5,878.0 1258.0,878.4 1258.5,878.6 1259.0,879.3 1259.5,878.1 1260.0,879.7 1260.5,879.4 1261.0,879.2 1261.5,879.1 1262.0,878.8 1262.5,878.7 1263.0,877.9 1263.5,878.2 1264.0,878.2 1264.5,878.4 1265.0,878.5 1265.5,878.6 1266.0,878.9 1266.5,878.4 1267.0,878.2 1267.5,877.6 1268.0,878.6 1268.5,878.3 1269.0,877.5 1269.5,878.0 1270.0,877.4 1270.5,877.4 1271.0,877.5 1271.5,877.3 1272.0,876.8 1272.5,876.8 1273.0,876.5 1273.5,876.3 1274.0,875.6 1274.5,875.3 1275.0,875.6 1275.5,874.5 1276.0,873.9 1276.5,873.1 1277.0,872.9 1277.5,871.8 1278.0,871.6 1278.5,870.7 1279.0,868.7 1279.5,868.1 1280.0,865.5 1280.5,862.1 1281.0,858.8 1281.5,853.6 1282.0,847.0 1282.5,837.2 1283.0,825.8 1283.5,812.2 1284.0,795.3 1284.5,776.7 1285.0,756.2 1285.5,739.6 1286.0,729.3 1286.2,725.1 1286.5,724.8 1287.0,728.4 1287.5,737.4 1288.0,747.4 1288.5,756.0 1289.0,762.2 1289.5,767.9 1290.0,775.7 1290.5,785.4 1291.0,796.0 1291.5,807.6 1292.0,819.4 1292.5,830.8 1293.0,839.6 1293.5,848.3 1294.0,853.7 1294.5,860.1 1295.0,862.9 1295.5,865.4 1296.0,867.6 1296.5,869.3 1297.0,871.0 1297.5,872.2 1298.0,873.3 1298.5,873.2 1299.0,873.7 1299.5,874.0 1300.0,875.3 1300.5,875.4 1301.0,874.8 1301.5,875.7 1302.0,875.6 1302.5,876.1 1303.0,877.3 1303.5,876.4 1304.0,876.5 1304.5,877.4 1305.0,878.1 1305.5,877.2 1306.0,877.5 1306.5,877.7 1307.0,878.9 1307.5,877.7 1308.0,879.1 1308.5,878.4 1309.0,877.8 1309.5,878.9 1310.0,879.2 1310.5,878.4 1311.0,877.8 1311.5,877.7 1312.0,878.6 1312.5,878.2 1313.0,878.3 1313.5,878.4 1314.0,878.4 1314.5,878.9 1315.0,878.4 1315.5,878.1 1316.0,877.7 1316.5,878.4 1317.0,879.6 1317.5,879.2 1318.0,878.5 1318.5,878.7 1319.0,879.4 1319.5,878.6 1320.0,878.7 1320.5,878.5 1321.0,878.5 1321.5,878.0 1322.0,877.7 1322.5,877.9 1323.0,878.2 1323.5,877.8 1324.0,877.2 1324.5,876.5 1325.0,876.0 1325.5,874.8 1326.0,873.7 1326.5,871.9 1327.0,869.8 1327.5,868.6 1328.0,867.5 1328.5,865.6 1328.7,866.3 1329.0,866.7 1329.5,866.5 1330.0,866.8 1330.5,868.1 1331.0,869.2 1331.5,869.4 1332.0,869.7 1332.5,870.7 1333.0,871.6 1333.5,872.0 1334.0,873.5 1334.5,874.2 1335.0,875.2 1335.5,875.6 1336.0,875.9 1336.5,876.7 1337.0,877.7 1337.5,878.4 1338.0,878.5 1338.5,878.5 1339.0,878.3 1339.5,879.9 1340.0,878.8 1340.5,880.0 1341.0,879.1 1341.5,878.6 1342.0,879.7 1342.5,880.1 1343.0,878.8 1343.5,878.6 1344.0,879.3 1344.5,878.9 1345.0,879.7 1345.5,879.0 1346.0,878.8 1346.5,879.2 1347.0,879.4 1347.5,879.0 1348.0,879.1 1348.5,879.8 1349.0,879.0 1349.5,879.3 1350.0,879.6 1350.5,879.0 1351.0,879.3 1351.5,879.3 1352.0,879.9 1352.5,879.3 1353.0,880.1 1353.5,879.7 1354.0,880.3 1354.5,880.4 1355.0,879.6 1355.5,879.7 1356.0,879.7 1356.5,879.4 1357.0,879.6 1357.5,880.1 1358.0,879.7 1358.5,879.8 1359.0,879.9 1359.5,879.8 1360.0,879.9 1360.5,880.0 1361.0,879.8 1361.5,879.7 1362.0,879.0 1362.5,880.0 1363.0,879.6 1363.5,880.4 1364.0,879.1 1364.5,879.9 1365.0,879.7 1365.5,879.3 1366.0,879.4 1366.5,880.4 1367.0,879.5 1367.5,879.8 1368.0,879.5 1368.5,879.7 1369.0,879.5 1369.5,879.6 1370.0,879.8 1370.5,879.3 1371.0,880.4 1371.5,880.0 1372.0,880.2 1372.5,879.9 1373.0,880.0 1373.5,879.9 1374.0,880.0 1374.5,880.0 1375.0,880.5 1375.5,879.8 1376.0,879.7 1376.5,880.1 1377.0,880.1 1377.5,880.1 1378.0,879.1 1378.5,879.7 1379.0,879.6 1379.5,879.9 1380.0,880.1 1380.5,880.1 1381.0,879.2 1381.5,880.4 1382.0,879.7 1382.5,879.8 1383.0,879.8 1383.5,880.4 1384.0,880.3 1384.5,879.4 1385.0,880.0 1385.5,879.4 1386.0,879.5 1386.5,879.5 1387.0,879.4 1387.5,880.2 1388.0,879.9 1388.5,879.4 1389.0,880.2 1389.5,879.1 1390.0,880.0 1390.5,879.7 1391.0,880.1 1391.5,879.6 1392.0,880.0 1392.5,879.7 1393.0,880.1 1393.5,879.1 1394.0,880.2 1394.5,879.3 1395.0,879.3 1395.5,879.1 1396.0,879.7 1396.5,878.7 1397.0,878.6 1397.5,878.8 1398.0,878.6 1398.5,878.6 1399.0,878.2 1399.5,878.4 1400.0,877.8 1400.5,877.7 1401.0,878.1 1401.5,878.5 1402.0,877.7 1402.5,877.5 1403.0,876.8 1403.5,877.4 1404.0,877.9 1404.5,878.2 1405.0,877.8 1405.5,878.0 1406.0,878.3 1406.5,878.1 1407.0,877.8 1407.5,878.4 1408.0,878.8 1408.5,878.7 1409.0,879.2 1409.5,879.5 1410.0,878.8 1410.5,879.4 1411.0,878.8 1411.5,879.2 1412.0,879.8 1412.5,879.4 1413.0,879.0 1413.5,879.7 1414.0,880.1 1414.5,880.0 1415.0,880.0 1415.5,880.2 1416.0,880.2 1416.5,879.6 1417.0,879.3 1417.5,879.9 1418.0,879.5 1418.5,879.4 1419.0,879.2 1419.5,879.9 1420.0,880.0 1420.5,879.6 1421.0,879.8 1421.5,879.7 1422.0,879.3 1422.5,880.0 1423.0,879.8 1423.5,880.2 1424.0,879.9 1424.5,880.1 1425.0,880.1 1425.5,879.9 1426.0,880.1 1426.5,879.7 1427.0,879.5 1427.5,880.5 1428.0,879.5 1428.5,880.8 1429.0,879.8 1429.5,879.6 1430.0,880.1 1430.5,880.0 1431.0,880.2 1431.5,879.5 1432.0,881.1 1432.5,880.3 1433.0,880.7 1433.5,879.8 1434.0,879.4 1434.5,879.4 1435.0,879.6 1435.5,879.8 1436.0,880.2 1436.5,879.4 1437.0,879.7 1437.5,880.2 1438.0,880.4 1438.5,880.1 1439.0,879.5 1439.5,879.4 1440.0,879.2 1440.5,880.2 1441.0,880.1 1441.5,879.4 1442.0,879.8 1442.5,879.6 1443.0,880.4 1443.5,880.1 1444.0,879.9 1444.5,880.0 1445.0,880.0 1445.5,880.5 1446.0,879.2 1446.5,879.9 1447.0,880.5 1447.5,879.5 1448.0,879.9 1448.5,879.6 1449.0,880.0 1449.5,880.2 1450.0,880.2 1450.5,879.8 1451.0,879.6 1451.5,879.7 1452.0,879.7 1452.5,879.4 1453.0,879.8 1453.5,879.5 1454.0,879.4 1454.5,879.7 1455.0,879.9 1455.5,880.0 1456.0,880.4 1456.5,880.5 1457.0,879.4 1457.5,879.9 1458.0,880.1 1458.5,879.3 1459.0,879.5 1459.5,879.8 1460.0,879.5 1460.5,880.0 1461.0,879.7 1461.5,879.1 1462.0,879.4 1462.5,880.0 1463.0,879.6 1463.5,879.4 1464.0,879.9 1464.5,880.1 1465.0,879.1 1465.5,880.0 1466.0,880.4 1466.5,879.8 1467.0,878.9 1467.5,879.6 1468.0,879.5 1468.5,880.7 1469.0,880.1 1469.5,879.3 1470.0,880.0 1470.5,879.3 1471.0,879.6 1471.5,879.7 1472.0,879.2 1472.5,880.0 1473.0,880.0 1473.5,879.8 1474.0,879.7 1474.5,880.5 1475.0,879.3 1475.5,879.7 1476.0,879.9 1476.5,879.6 1477.0,880.0 1477.5,879.3 1478.0,879.8 1478.5,879.5 1479.0,880.2 1479.5,879.9 1480.0,879.7 1480.5,880.2 1481.0,880.1 1481.5,879.9 1482.0,879.3 1482.5,879.5 1483.0,879.5 1483.5,879.7 1484.0,879.5 1484.5,879.2 1485.0,879.8 1485.5,879.6 1486.0,879.6 1486.5,880.6 1487.0,879.8 1487.5,879.6 1488.0,879.5 1488.5,879.9 1489.0,879.4 1489.5,880.1 1490.0,879.9 1490.5,879.1 1491.0,880.4 1491.5,879.9 1492.0,879.9 1492.5,879.8 1493.0,880.0 1493.5,879.5 1494.0,880.1 1494.5,880.3 1495.0,879.5 1495.5,880.2 1496.0,879.7 1496.5,879.8 1497.0,880.1 1497.5,879.9 1498.0,879.8 1498.5,879.6 1499.0,880.0 1499.5,879.9 1500.0,880.3 1500.5,879.9 1501.0,880.5 1501.5,879.7 1502.0,879.9 1502.5,878.9 1503.0,879.2 1503.5,879.8 1504.0,879.3 1504.5,879.6 1505.0,880.2 1505.5,880.7 1506.0,879.2 1506.5,879.5 1507.0,880.5 1507.5,879.4 1508.0,879.3 1508.5,880.0 1509.0,879.4 1509.5,880.3 1510.0,879.7 1510.5,879.6 1511.0,879.3 1511.5,879.4 1512.0,879.4 1512.5,879.3 1513.0,879.9 1513.5,879.0 1514.0,879.6 1514.5,879.2 1515.0,879.5 1515.5,879.6 1516.0,879.2 1516.5,879.3 1517.0,878.9 1517.5,878.9 1518.0,879.5 1518.5,879.1 1519.0,879.3 1519.5,879.6 1520.0,879.6 1520.5,879.0 1521.0,879.3 1521.5,879.6 1522.0,879.1 1522.5,878.9 1523.0,878.9 1523.5,879.4 1524.0,879.0 1524.5,878.3 1525.0,879.0 1525.5,878.8 1526.0,877.6 1526.5,878.1 1527.0,878.4 1527.5,878.9 1528.0,877.9 1528.5,878.5 1529.0,877.7 1529.5,877.8 1530.0,877.8 1530.5,876.3 1531.0,876.6 1531.5,875.6 1532.0,875.3 1532.5,875.1 1533.0,873.7 1533.5,872.5 1534.0,870.4 1534.5,868.1 1535.0,866.0 1535.5,860.7 1536.0,856.7 1536.5,850.7 1537.0,844.4 1537.5,837.6 1538.0,832.4 1538.5,826.6 1538.9,826.3 1539.0,825.1 1539.5,826.5 1540.0,829.5 1540.5,833.8 1541.0,837.5 1541.5,840.5 1542.0,843.2 1542.5,844.5 1543.0,844.6 1543.5,845.2 1544.0,848.4 1544.5,850.0 1545.0,855.0 1545.5,858.3 1546.0,862.1 1546.5,865.1 1547.0,868.1 1547.5,871.1 1548.0,872.3 1548.5,873.9 1549.0,874.8 1549.5,875.6 1550.0,876.3 1550.5,876.8 1551.0,876.6 1551.5,877.7 1552.0,877.5 1552.5,877.5 1553.0,878.1 1553.5,877.9 1554.0,878.0 1554.5,878.5 1555.0,878.2 1555.5,877.7 1556.0,879.0 1556.5,879.0 1557.0,879.2 1557.5,878.1 1558.0,879.7 1558.5,879.1 1559.0,878.6 1559.5,879.5 1560.0,879.2 1560.5,879.5 1561.0,879.7 1561.5,879.3 1562.0,879.1 1562.5,879.5 1563.0,879.3 1563.5,879.0 1564.0,878.9 1564.5,880.0 1565.0,879.2 1565.5,879.8 1566.0,880.2 1566.5,879.7 1567.0,879.2 1567.5,879.5 1568.0,880.0 1568.5,878.9 1569.0,879.5 1569.5,879.6 1570.0,879.8 1570.5,879.5 1571.0,879.8 1571.5,879.2 1572.0,879.6 1572.5,879.4 1573.0,879.8 1573.5,880.2 1574.0,879.5 1574.5,880.1 1575.0,879.7 1575.5,879.7 1576.0,880.0 1576.5,879.4 1577.0,880.4 1577.5,879.1 1578.0,880.0 1578.5,879.4 1579.0,879.3 1579.5,880.1 1580.0,880.1 1580.5,879.4 1581.0,879.7 1581.5,879.7 1582.0,880.5 1582.5,880.4 1583.0,879.6 1583.5,879.2 1584.0,880.1 1584.5,880.2 1585.0,879.7 1585.5,879.6 1586.0,879.6 1586.5,880.0 1587.0,880.6 1587.5,879.2 1588.0,880.0 1588.5,879.3 1589.0,880.6 1589.5,879.7 1590.0,880.0 1590.5,880.3 1591.0,879.5 1591.5,879.3 1592.0,880.1 1592.5,879.5 1593.0,880.3 1593.5,880.1 1594.0,880.0 1594.5,880.0 1595.0,879.6 1595.5,880.3 1596.0,879.5 1596.5,879.5 1597.0,880.0 1597.5,880.3 1598.0,880.8 1598.5,879.9 1599.0,880.1 1599.5,879.9 1600.0,880.3 1600.5,879.9 1601.0,879.9 1601.5,879.9 1602.0,879.8 1602.5,879.8 1603.0,879.5 1603.5,880.2 1604.0,879.6 1604.5,879.8 1605.0,880.1 1605.5,880.3 1606.0,879.3 1606.5,879.8 1607.0,880.1 1607.5,879.9 1608.0,879.9 1608.5,880.1 1609.0,880.5 1609.5,879.8 1610.0,880.0 1610.5,880.0 1611.0,879.5 1611.5,880.4 1612.0,880.2 1612.5,879.8 1613.0,879.6 1613.5,879.6 1614.0,879.6 1614.5,880.8 1615.0,879.7 1615.5,879.7 1616.0,879.6 1616.5,880.2 1617.0,879.7 1617.5,879.5 1618.0,879.2 1618.5,879.8 1619.0,880.4 1619.5,879.8 1620.0,879.6 1620.5,879.7 1621.0,879.1 1621.5,880.0 1622.0,880.3 1622.5,880.1 1623.0,879.6 1623.5,880.2 1624.0,880.3 1624.5,880.2 1625.0,879.4 1625.5,879.8 1626.0,880.0 1626.5,879.5 1627.0,879.6 1627.5,880.3 1628.0,879.6 1628.5,879.8 1629.0,880.7 1629.5,880.3 1630.0,879.8 1630.5,879.6 1631.0,879.9 1631.5,880.2 1632.0,879.7 1632.5,880.6 1633.0,879.6 1633.5,879.9 1634.0,879.9 1634.5,880.1 1635.0,879.5 1635.5,880.8 1636.0,880.2 1636.5,879.6 1637.0,880.1 1637.5,879.2 1638.0,879.6 1638.5,880.1 1639.0,879.4 1639.5,879.8 1640.0,879.6 1640.5,880.0 1641.0,880.0 1641.5,879.4 1642.0,879.7 1642.5,880.0 1643.0,880.1 1643.5,879.4 1644.0,878.9 1644.5,879.9 1645.0,879.3 1645.5,880.8 1646.0,880.1 1646.5,879.2 1647.0,879.0 1647.5,879.5 1648.0,879.2 1648.5,879.3 1649.0,879.0 1649.5,879.7 1650.0,879.0 1650.5,879.3 1651.0,879.2 1651.5,878.9 1652.0,878.7 1652.5,878.7 1653.0,878.2 1653.5,878.1 1654.0,876.8 1654.5,876.6 1655.0,876.8 1655.5,875.3 1656.0,874.8 1656.5,874.6 1657.0,874.5 1657.5,873.7 1658.0,873.3 1658.2,872.6 1658.5,873.2 1659.0,873.7 1659.5,872.5 1660.0,873.2 1660.5,874.0 1661.0,874.8 1661.5,874.4 1662.0,874.4 1662.5,874.8 1663.0,874.8 1663.5,875.5 1664.0,875.2 1664.5,876.6 1665.0,876.8 1665.5,877.4 1666.0,877.6 1666.5,877.0 1667.0,878.6 1667.5,878.0 1668.0,878.8 1668.5,879.1 1669.0,878.8 1669.5,879.6 1670.0,879.0 1670.5,878.2 1671.0,879.2 1671.5,879.1 1672.0,879.6 1672.5,879.1 1673.0,879.8 1673.5,879.4 1674.0,879.5 1674.5,878.4 1675.0,879.3 1675.5,879.4 1676.0,879.5 1676.5,879.7 1677.0,878.7 1677.5,878.3 1678.0,878.9 1678.5,878.2 1679.0,878.3 1679.5,877.9 1680.0,877.6 1680.5,878.0 1681.0,877.5 1681.5,876.5 1682.0,877.5 1682.5,876.8 1683.0,877.1 1683.5,877.5 1684.0,877.2 1684.5,877.5 1685.0,877.5 1685.5,878.9 1686.0,877.2 1686.5,878.0 1687.0,877.6 1687.5,878.0 1688.0,878.4 1688.5,878.5 1689.0,877.4 1689.5,878.0 1690.0,879.0 1690.5,878.9 1691.0,878.8 1691.5,879.1 1692.0,879.3 1692.5,879.6 1693.0,880.0 1693.5,879.3 1694.0,879.2 1694.5,878.8 1695.0,879.9 1695.5,879.5 1696.0,879.7 1696.5,879.2 1697.0,879.8 1697.5,880.1 1698.0,880.5 1698.5,879.5 1699.0,879.8 1699.5,879.4 1700.0,880.1 1700.5,878.8 1701.0,880.1 1701.5,879.6 1702.0,879.7 1702.5,879.4 1703.0,879.9 1703.5,880.2 1704.0,880.2 1704.5,879.5 1705.0,879.8 1705.5,879.7 1706.0,880.2 1706.5,879.8 1707.0,879.8 1707.5,879.6 1708.0,880.5 1708.5,880.2 1709.0,879.2 1709.5,880.0 1710.0,879.9 1710.5,880.1 1711.0,880.4 1711.5,880.3 1712.0,879.7 1712.5,880.1 1713.0,879.1 1713.5,880.5 1714.0,880.6 1714.5,880.1 1715.0,880.4 1715.5,879.3 1716.0,880.1 1716.5,879.6 1717.0,880.5 1717.5,879.6 1718.0,879.6 1718.5,879.4 1719.0,879.8 1719.5,879.7 1720.0,879.8 1720.5,879.5 1721.0,880.1 1721.5,879.7 1722.0,880.1 1722.5,879.6 1723.0,880.0 1723.5,880.1 1724.0,880.1 1724.5,879.3 1725.0,880.5 1725.5,880.5 1726.0,879.6 1726.5,880.3 1727.0,880.1 1727.5,880.1 1728.0,879.0 1728.5,880.2 1729.0,880.2 1729.5,880.0 1730.0,879.8 1730.5,879.7 1731.0,880.5 1731.5,879.7 1732.0,879.1 1732.5,880.5 1733.0,879.6 1733.5,879.6 1734.0,879.8 1734.5,879.9 1735.0,880.8 1735.5,879.4 1736.0,880.0 1736.5,879.9 1737.0,879.3 1737.5,880.7 1738.0,879.8 1738.5,879.6 1739.0,879.5 1739.5,879.5 1740.0,879.0 1740.5,879.7 1741.0,879.4 1741.5,879.5 1742.0,880.4 1742.5,880.1 1743.0,878.9 1743.5,879.8 1744.0,879.8 1744.5,880.2 1745.0,879.9 1745.5,880.3 1746.0,880.0 1746.5,879.5 1747.0,880.0 1747.5,879.9 1748.0,879.2 1748.5,879.5 1749.0,879.5 1749.5,879.3 1750.0,879.8 1750.5,879.8 1751.0,880.4 1751.5,879.3 1752.0,879.7 1752.5,879.6 1753.0,880.1 1753.5,879.2 1754.0,879.3 1754.5,879.5 1755.0,880.1 1755.5,879.8 1756.0,879.4 1756.5,879.8 1757.0,879.2 1757.5,878.9 1758.0,879.5 1758.5,879.3 1759.0,879.5 1759.5,878.8 1760.0,878.8 1760.5,878.1 1761.0,879.1 1761.5,879.3 1762.0,878.8 1762.5,878.8 1763.0,878.7 1763.5,878.2 1764.0,878.7 1764.5,878.2 1765.0,879.1 1765.5,877.6 1766.0,877.9 1766.5,877.8 1767.0,877.6 1767.5,876.4 1768.0,876.7 1768.5,875.4 1769.0,875.6 1769.5,874.3 1770.0,872.9 1770.5,870.1 1771.0,869.1 1771.5,865.3 1772.0,862.4 1772.5,858.5 1773.0,854.1 1773.5,849.0 1774.0,845.6 1774.5,844.1 1774.7,843.4 1775.0,844.4 1775.5,844.4 1776.0,848.3 1776.5,850.9 1777.0,854.3 1777.5,856.3 1778.0,857.3 1778.5,858.2 1779.0,858.7 1779.5,858.7 1780.0,858.5 1780.5,859.1 1781.0,860.5 1781.5,861.3 1782.0,864.2 1782.5,866.4 1783.0,869.3 1783.5,871.4 1784.0,872.4 1784.5,874.0 1785.0,874.8 1785.5,875.8 1786.0,877.2 1786.5,878.2 1787.0,877.3 1787.5,878.2 1788.0,878.6 1788.5,878.8 1789.0,878.6 1789.5,878.6 1790.0,878.6 1790.5,877.9 1791.0,879.4 1791.5,878.9 1792.0,879.4 1792.5,879.4 1793.0,879.0 1793.5,879.1 1794.0,879.8 1794.5,878.8 1795.0,879.7 1795.5,878.9 1796.0,879.4 1796.5,879.0 1797.0,879.1 1797.5,879.6 1798.0,879.3 1798.5,880.0 1799.0,880.1 1799.5,879.7 1800.0,879.1 1800.5,879.9 1801.0,879.9 1801.5,878.9 1802.0,879.6 1802.5,879.6 1803.0,880.1 1803.5,879.6 1804.0,879.4 1804.5,879.8 1805.0,879.4 1805.5,879.6 1806.0,879.3 1806.5,879.4 1807.0,879.8 1807.5,879.4 1808.0,879.0 1808.5,879.6 1809.0,880.3 1809.5,879.7 1810.0,879.9 1810.5,878.7 1811.0,879.5 1811.5,880.2 1812.0,879.9 1812.5,879.2 1813.0,880.3 1813.5,880.0 1814.0,879.8 1814.5,879.9 1815.0,880.1 1815.5,879.8 1816.0,880.4 1816.5,880.1 1817.0,880.1 1817.5,880.0 1818.0,880.0 1818.5,879.8 1819.0,880.0 1819.5,880.0 1820.0,879.8 1820.5,879.6 1821.0,879.5 1821.5,880.3 1822.0,879.8 1822.5,879.6 1823.0,880.0 1823.5,879.8 1824.0,879.9 1824.5,879.8 1825.0,880.5 1825.5,879.7 1826.0,880.1 1826.5,880.2 1827.0,880.0 1827.5,879.5 1828.0,879.5 1828.5,879.8 1829.0,879.6 1829.5,880.1 1830.0,880.4 1830.5,880.7 1831.0,879.9 1831.5,880.0 1832.0,879.9 1832.5,879.9 1833.0,879.4 1833.5,880.3 1834.0,880.2 1834.5,879.1 1835.0,879.6 1835.5,880.0 1836.0,880.7 1836.5,880.3 1837.0,880.1 1837.5,880.0 1838.0,879.9 1838.5,880.0 1839.0,879.5 1839.5,880.4"/>
<polyline shape-rendering="crispEdges" stroke="#008000" points="208.0,1426.4 208.5,1428.2 209.0,1427.0 209.5,1427.4 210.0,1427.4 210.5,1427.3 211.0,1428.0 211.5,1427.3 212.0,1427.5 212.5,1425.8 213.0,1427.1 213.5,1427.3 214.0,1427.3 214.5,1427.4 215.0,1427.6 215.5,1427.3 216.0,1427.0 216.5,1427.3 217.0,1426.8 217.5,1427.3 218.0,1427.2 218.5,1426.6 219.0,1427.0 219.5,1427.4 220.0,1427.3 220.5,1427.0 221.0,1426.4 221.5,1427.3 222.0,1427.3 222.5,1426.8 223.0,1427.5 223.5,1427.3 224.0,1426.8 224.5,1426.9 225.0,1427.2 225.5,1426.9 226.0,1428.3 226.5,1426.8 227.0,1427.6 227.5,1427.9 228.0,1427.1 228.5,1426.9 229.0,1427.3 229.5,1427.6 230.0,1427.2 230.5,1427.2 231.0,1426.6 231.5,1426.9 232.0,1427.1 232.5,1426.7 233.0,1427.3 233.5,1427.5 234.0,1427.0 234.5,1426.9 235.0,1427.3 235.5,1427.5 236.0,1427.1 236.5,1428.2 237.0,1426.9 237.5,1427.0 238.0,1427.8 238.5,1427.2 239.0,1427.6 239.5,1426.9 240.0,1428.0 240.5,1427.6 241.0,1426.9 241.5,1426.7 242.0,1428.1 242.5,1427.4 243.0,1427.0 243.5,1427.4 244.0,1426.5 244.5,1427.7 245.0,1427.0 245.5,1427.6 246.0,1426.6 246.5,1427.2 247.0,1427.3 247.5,1427.9 248.0,1426.5 248.5,1426.9 249.0,1426.9 249.5,1426.7 250.0,1427.0 250.5,1427.4 251.0,1427.5 251.5,1427.5 252.0,1426.6 252.5,1427.8 253.0,1427.4 253.5,1427.3 254.0,1427.1 254.5,1427.0 255.0,1427.7 255.5,1427.9 256.0,1427.2 256.5,1426.7 257.0,1426.9 257.5,1427.1 258.0,1427.3 258.5,1427.1 259.0,1427.3 259.5,1426.8 260.0,1427.5 260.5,1427.1 261.0,1427.2 261.5,1426.9 262.0,1427.1 262.5,1426.2 263.0,1426.6 263.5,1426.6 264.0,1428.0 264.5,1427.3 265.0,1427.4 265.5,1427.0 266.0,1428.1 266.5,1426.7 267.0,1426.7 267.5,1427.7 268.0,1427.6 268.5,1427.5 269.0,1427.1 269.5,1426.9 270.0,1426.4 270.5,1427.3 271.0,1426.9 271.5,1427.1 272.0,1426.5 272.5,1426.9 273.0,1426.6 273.5,1427.6 274.0,1427.3 274.5,1427.5 275.0,1426.6 275.5,1426.9 276.0,1427.3 276.5,1427.4 277.0,1427.0 277.5,1427.5 278.0,1427.5 278.5,1427.0 279.0,1426.2 279.5,1427.3 280.0,1427.4 280.5,1427.7 281.0,1427.7 281.5,1427.0 282.0,1426.8 282.5,1427.2 283.0,1427.0 283.5,1427.1 284.0,1427.1 284.5,1427.8 285.0,1427.4 285.5,1427.1 286.0,1427.5 286.5,1427.4 287.0,1427.5 287.5,1427.3 288.0,1426.8 288.5,1427.3 289.0,1427.2 289.5,1426.8 290.0,1426.9 290.5,1426.5 291.0,1428.0 291.5,1426.8 292.0,1427.4 292.5,1427.1 293.0,1426.8 293.5,1426.7 294.0,1426.8 294.5,1427.1 295.0,1426.5 295.5,1427.3 296.0,1427.2 296.5,1426.8 297.0,1427.4 297.5,1426.3 298.0,1426.7 298.5,1426.3 299.0,1427.2 299.5,1427.3 300.0,1427.1 300.5,1426.9 301.0,1427.4 301.5,1427.0 302.0,1427.2 302.5,1426.5 303.0,1427.4 303.5,1426.8 304.0,1427.4 304.5,1427.6 305.0,1427.4 305.5,1427.6 306.0,1427.1 306.5,1426.7 307.0,1427.1 307.5,1426.9 308.0,1426.5 308.5,1427.0 309.0,1427.1 309.5,1427.3 310.0,1427.8 310.5,1426.8 311.0,1427.9 311.5,1426.9 312.0,1427.2 312.5,1426.7 313.0,1427.2 313.5,1427.5 314.0,1427.0 314.5,1427.4 315.0,1427.2 315.5,1427.1 316.0,1427.2 316.5,1427.3 317.0,1427.5 317.5,1427.2 318.0,1428.0 318.5,1427.2 319.0,1427.6 319.5,1426.7 320.0,1426.7 320.5,1427.9 321.0,1427.1 321.5,1427.2 322.0,1427.6 322.5,1426.9 323.0,1427.3 323.5,1427.9 324.0,1427.3 324.5,1427.2 325.0,1427.1 325.5,1427.6 326.0,1426.9 326.5,1426.9 327.0,1427.6 327.5,1427.4 328.0,1427.2 328.5,1427.4 329.0,1426.5 329.5,1427.1 330.0,1427.6 330.5,1427.5 331.0,1427.2 331.5,1426.3 332.0,1427.2 332.5,1427.1 333.0,1426.9 333.5,1427.2 334.0,1426.2 334.5,1427.4 335.0,1426.8 335.5,1427.1 336.0,1426.9 336.5,1427.6 337.0,1426.4 337.5,1427.2 338.0,1427.2 338.5,1427.5 339.0,1427.4 339.5,1426.9 340.0,1426.8 340.5,1426.8 341.0,1426.7 341.5,1426.8 342.0,1427.2 342.5,1426.8 343.0,1426.9 343.5,1427.2 344.0,1426.8 344.5,1426.6 345.0,1427.1 345.5,1427.3 346.0,1426.8 346.5,1426.4 347.0,1427.2 347.5,1427.2 348.0,1427.2 348.5,1426.6 349.0,1427.9 349.5,1427.0 350.0,1426.7 350.5,1427.5 351.0,1426.5 351.5,1426.9 352.0,1427.4 352.5,1427.1 353.0,1427.8 353.5,1427.4 354.0,1426.4 354.5,1427.5 355.0,1426.4 355.5,1427.2 356.0,1426.7 356.5,1427.1 357.0,1428.0 357.5,1427.4 358.0,1427.1 358.5,1427.6 359.0,1427.6 359.5,1427.0 360.0,1427.4 360.5,1427.8 361.0,1427.4 361.5,1426.8 362.0,1427.3 362.5,1426.8 363.0,1426.5 363.5,1427.1 364.0,1427.6 364.5,1427.6 365.0,1427.1 365.5,1426.8 366.0,1427.0 366.5,1426.9 367.0,1427.3 367.5,1427.0 368.0,1427.3 368.5,1427.2 369.0,1427.6 369.5,1427.8 370.0,1427.3 370.5,1427.5 371.0,1427.4 371.5,1426.8 372.0,1427.1 372.5,1425.9 373.0,1426.7 373.5,1427.4 374.0,1426.8 374.5,1426.9 375.0,1427.4 375.5,1426.6 376.0,1427.4 376.5,1428.3 377.0,1426.7 377.5,1427.3 378.0,1426.5 378.5,1427.3 379.0,1427.5 379.5,1426.4 380.0,1427.5 380.5,1427.0 381.0,1426.4 381.5,1427.0 382.0,1427.0 382.5,1427.0 383.0,1426.7 383.5,1427.3 384.0,1426.7 384.5,1426.8 385.0,1426.0 385.5,1427.1 386.0,1427.3 386.5,1426.6 387.0,1427.1 387.5,1426.8 388.0,1426.9 388.5,1426.4 389.0,1427.1 389.5,1426.9 390.0,1427.9 390.5,1427.2 391.0,1426.2 391.5,1427.0 392.0,1427.0 392.5,1427.1 393.0,1426.3 393.5,1426.6 394.0,1427.0 394.5,1426.1 395.0,1426.3 395.5,1426.0 396.0,1426.4 396.5,1425.5 397.0,1425.9 397.5,1426.0 398.0,1425.9 398.5,1425.6 399.0,1424.9 399.5,1425.3 400.0,1424.0 400.5,1423.7 401.0,1422.9 401.5,1421.9 402.0,1421.4 402.5,1419.8 403.0,1416.1 403.5,1409.5 404.0,1401.8 404.5,1385.8 405.0,1367.3 405.3,1360.1 405.5,1360.0 406.0,1367.1 406.5,1375.1 407.0,1384.0 407.5,1398.7 408.0,1408.3 408.5,1413.7 409.0,1418.4 409.5,1421.1 410.0,1421.4 410.5,1422.5 411.0,1423.7 411.5,1424.1 412.0,1424.2 412.5,1425.0 413.0,1425.1 413.5,1426.0 414.0,1425.3 414.5,1425.8 415.0,1425.3 415.5,1427.0 416.0,1426.0 416.5,1426.0 417.0,1426.6 417.5,1426.3 418.0,1426.3 418.5,1426.4 419.0,1426.8 419.5,1426.8 420.0,1426.3 420.5,1426.3 421.0,1426.8 421.5,1426.8 422.0,1426.8 422.5,1426.4 423.0,1427.3 423.5,1427.4 424.0,1426.8 424.5,1427.4 425.0,1427.1 425.5,1426.9 426.0,1426.8 426.5,1427.4 427.0,1426.6 427.5,1427.6 428.0,1426.7 428.5,1427.6 429.0,1427.5 429.5,1426.8 430.0,1427.2 430.5,1427.4 431.0,1427.2 431.5,1426.8 432.0,1427.0 432.5,1427.0 433.0,1426.6 433.5,1427.3 434.0,1427.2 434.5,1427.2 435.0,1426.6 435.5,1426.6 436.0,1426.5 436.5,1427.1 437.0,1427.2 437.5,1426.7 438.0,1427.2 438.5,1426.7 439.0,1426.7 439.5,1427.3 440.0,1427.1 440.5,1427.1 441.0,1426.4 441.5,1426.1 442.0,1427.1 442.5,1427.1 443.0,1428.0 443.5,1427.0 444.0,1427.1 444.5,1427.5 445.0,1426.8 445.5,1427.8 446.0,1427.2 446.5,1427.1 447.0,1427.6 447.5,1426.7 448.0,1426.6 448.5,1427.7 449.0,1427.7 449.5,1426.8 450.0,1427.1 450.5,1427.6 451.0,1427.2 451.5,1427.1 452.0,1427.2 452.5,1426.8 453.0,1426.9 453.5,1426.4 454.0,1426.6 454.5,1426.8 455.0,1426.7 455.5,1426.6 456.0,1426.8 456.5,1427.6 457.0,1426.8 457.5,1427.1 458.0,1426.5 458.5,1427.1 459.0,1426.9 459.5,1427.0 460.0,1426.4 460.5,1427.0 461.0,1427.2 461.5,1427.0 462.0,1427.3 462.5,1427.0 463.0,1427.1 463.5,1427.0 464.0,1426.3 464.5,1427.3 465.0,1427.1 465.5,1427.2 466.0,1426.8 466.5,1427.6 467.0,1427.4 467.5,1427.1 468.0,1426.9 468.5,1427.1 469.0,1427.3 469.5,1427.4 470.0,1426.9 470.5,1426.5 471.0,1427.0 471.5,1427.0 472.0,1426.9 472.5,1427.5 473.0,1427.2 473.5,1427.2 474.0,1427.0 474.5,1427.1 475.0,1427.6 475.5,1426.6 476.0,1426.4 476.5,1427.2 477.0,1426.9 477.5,1427.0 478.0,1426.8 478.5,1427.7 479.0,1426.4 479.5,1427.3 480.0,1426.6 480.5,1427.1 481.0,1427.3 481.5,1427.1 482.0,1426.7 482.5,1427.4 483.0,1427.2 483.5,1427.3 484.0,1427.7 484.5,1426.5 485.0,1426.9 485.5,1427.1 486.0,1426.6 486.5,1427.5 487.0,1427.1 487.5,1426.4 488.0,1426.7 488.5,1428.0 489.0,1428.4 489.5,1427.5 490.0,1426.6 490.5,1427.3 491.0,1427.1 491.5,1426.8 492.0,1427.4 492.5,1427.0 493.0,1426.8 493.5,1426.9 494.0,1426.9 494.5,1427.3 495.0,1426.8 495.5,1427.3 496.0,1426.5 496.5,1426.0 497.0,1427.3 497.5,1427.9 498.0,1427.2 498.5,1426.9 499.0,1426.6 499.5,1426.6 500.0,1427.3 500.5,1427.4 501.0,1426.5 501.5,1427.5 502.0,1426.6 502.5,1427.1 503.0,1426.7 503.5,1426.8 504.0,1426.8 504.5,1426.7 505.0,1427.5 505.5,1426.9 506.0,1427.0 506.5,1426.9 507.0,1426.6 507.5,1427.1 508.0,1427.3 508.5,1427.3 509.0,1427.1 509.5,1426.7 510.0,1427.3 510.5,1426.5 511.0,1426.9 511.5,1427.1 512.0,1427.6 512.5,1426.9 513.0,1426.7 513.5,1427.7 514.0,1426.6 514.5,1426.4 515.0,1426.9 515.5,1426.8 516.0,1426.0 516.5,1426.6 517.0,1427.4 517.5,1427.0 518.0,1427.1 518.5,1427.1 519.0,1427.9 519.5,1426.7 520.0,1427.2 520.5,1426.9 521.0,1427.0 521.5,1426.6 522.0,1427.1 522.5,1427.3 523.0,1426.8 523.5,1426.4 524.0,1427.1 524.5,1426.5 525.0,1426.8 525.5,1427.2 526.0,1426.3 526.5,1427.3 527.0,1426.6 527.5,1427.2 528.0,1426.8 528.5,1427.5 529.0,1427.3 529.5,1426.5 530.0,1426.8 530.5,1426.9 531.0,1427.1 531.5,1426.8 532.0,1427.5 532.5,1427.3 533.0,1427.0 533.5,1427.3 534.0,1427.2 534.5,1426.9 535.0,1427.0 535.5,1427.0 536.0,1426.2 536.5,1426.4 537.0,1426.4 537.5,1426.9 538.0,1427.0 538.5,1427.4 539.0,1427.0 539.5,1427.7 540.0,1427.1 540.5,1426.5 541.0,1426.2 541.5,1426.4 542.0,1427.1 542.5,1426.6 543.0,1427.2 543.5,1426.5 544.0,1426.7 544.5,1426.5 545.0,1425.8 545.5,1426.4 546.0,1425.8 546.5,1426.7 547.0,1426.9 547.5,1426.2 548.0,1426.0 548.5,1426.9 549.0,1426.6 549.5,1427.2 550.0,1426.7 550.5,1426.3 551.0,1426.7 551.5,1426.9 552.0,1427.2 552.5,1426.4 553.0,1426.2 553.5,1426.3 554.0,1426.4 554.5,1427.1 555.0,1425.8 555.5,1426.5 556.0,1426.6 556.5,1426.2 557.0,1427.3 557.5,1426.5 558.0,1426.5 558.5,1426.2 559.0,1425.8 559.5,1426.1 560.0,1427.1 560.5,1426.4 561.0,1426.2 561.5,1426.2 562.0,1426.7 562.5,1426.9 563.0,1426.0 563.5,1426.0 564.0,1426.0 564.5,1426.8 565.0,1425.2 565.5,1427.1 566.0,1425.9 566.5,1425.0 567.0,1425.8 567.5,1425.5 568.0,1426.2 568.5,1425.0 569.0,1426.1 569.5,1425.4 570.0,1425.2 570.5,1425.7 571.0,1424.7 571.5,1425.6 572.0,1425.2 572.5,1424.8 573.0,1424.9 573.5,1424.4 574.0,1424.1 574.5,1424.2 575.0,1424.0 575.5,1424.0 576.0,1423.6 576.5,1423.0 577.0,1423.0 577.5,1422.2 578.0,1422.2 578.5,1421.7 579.0,1420.6 579.5,1420.6 580.0,1419.6 580.5,1418.2 581.0,1417.9 581.5,1416.1 582.0,1415.4 582.5,1412.8 583.0,1411.0 583.5,1407.3 584.0,1402.9 584.5,1397.5 585.0,1389.6 585.5,1378.5 586.0,1361.4 586.5,1334.3 587.0,1288.0 587.5,1219.8 588.0,1125.7 588.5,1064.0 589.0,1088.3 589.5,1139.3 590.0,1161.3 590.5,1184.9 591.0,1241.0 591.5,1298.9 592.0,1339.8 592.5,1365.5 593.0,1381.5 593.5,1390.8 594.0,1399.1 594.5,1405.3 595.0,1408.4 595.5,1411.1 596.0,1413.5 596.5,1415.1 597.0,1416.5 597.5,1417.6 598.0,1418.4 598.5,1420.3 599.0,1420.7 599.5,1420.3 600.0,1420.8 600.5,1422.3 601.0,1422.0 601.5,1422.3 602.0,1422.3 602.5,1423.0 603.0,1423.4 603.5,1423.2 604.0,1423.5 604.5,1423.7 605.0,1424.5 605.5,1425.1 606.0,1424.1 606.5,1424.7 607.0,1423.5 607.5,1422.8 608.0,1422.6 608.5,1422.1 609.0,1420.6 609.5,1418.2 610.0,1416.2 610.4,1414.5 610.5,1414.6 611.0,1415.7 611.5,1416.7 612.0,1418.1 612.5,1418.1 613.0,1420.4 613.5,1422.1 614.0,1423.3 614.5,1423.5 615.0,1424.8 615.5,1424.7 616.0,1425.2 616.5,1424.5 617.0,1424.2 617.5,1425.1 618.0,1424.5 618.5,1425.0 619.0,1424.4 619.5,1425.2 620.0,1425.9 620.5,1424.6 621.0,1425.3 621.5,1425.6 622.0,1425.4 622.5,1425.9 623.0,1425.3 623.5,1425.6 624.0,1424.6 624.5,1424.9 625.0,1425.7 625.5,1425.4 626.0,1425.1 626.5,1425.7 627.0,1424.8 627.5,1424.7 628.0,1424.9 628.5,1424.7 629.0,1424.4 629.5,1423.6 630.0,1423.8 630.5,1424.1 631.0,1423.8 631.5,1424.3 632.0,1423.7 632.5,1423.7 633.0,1422.9 633.5,1423.7 634.0,1423.4 634.5,1422.4 635.0,1422.2 635.5,1422.5 636.0,1421.5 636.5,1421.0 637.0,1420.3 637.5,1420.4 638.0,1419.7 638.5,1419.0 639.0,1417.7 639.5,1416.6 640.0,1416.5 640.5,1415.2 641.0,1412.8 641.5,1410.4 642.0,1408.1 642.5,1405.0 643.0,1401.8 643.5,1396.5 644.0,1389.4 644.5,1381.1 645.0,1366.8 645.5,1349.3 646.0,1316.8 646.5,1266.8 647.0,1188.1 647.5,1079.9 648.0,979.2 648.2,961.9 648.5,970.1 649.0,1030.9 649.5,1081.1 650.0,1100.8 650.5,1136.3 651.0,1207.3 651.5,1275.6 652.0,1321.0 652.5,1350.6 653.0,1369.7 653.5,1382.1 654.0,1391.5 654.5,1397.2 655.0,1402.0 655.5,1405.9 656.0,1408.6 656.5,1411.5 657.0,1412.8 657.5,1415.3 658.0,1415.7 658.5,1417.6 659.0,1419.2 659.5,1418.7 660.0,1420.1 660.5,1420.2 661.0,1421.5 661.5,1420.7 662.0,1422.1 662.5,1422.5 663.0,1422.6 663.5,1422.5 664.0,1423.4 664.5,1423.1 665.0,1422.9 665.5,1423.3 666.0,1423.9 666.5,1424.2 667.0,1424.0 667.5,1425.0 668.0,1425.9 668.5,1425.0 669.0,1425.0 669.5,1424.2 670.0,1424.9 670.5,1425.4 671.0,1425.5 671.5,1425.1 672.0,1425.5 672.5,1425.5 673.0,1425.4 673.5,1425.4 674.0,1425.3 674.5,1425.5 675.0,1425.0 675.5,1425.0 676.0,1426.4 676.5,1424.7 677.0,1425.7 677.5,1425.3 678.0,1426.1 678.5,1425.7 679.0,1425.8 679.5,1425.9 680.0,1425.6 680.5,1425.7 681.0,1426.3 681.5,1426.0 682.0,1425.6 682.5,1425.7 683.0,1426.2 683.5,1426.1 684.0,1426.2 684.5,1426.5 685.0,1426.6 685.5,1425.3 686.0,1426.3 686.5,1426.0 687.0,1426.4 687.5,1425.5 688.0,1425.3 688.5,1426.2 689.0,1425.7 689.5,1426.3 690.0,1425.4 690.5,1425.7 691.0,1426.4 691.5,1425.6 692.0,1425.8 692.5,1425.9 693.0,1425.7 693.5,1426.2 694.0,1426.0 694.5,1425.3 695.0,1425.7 695.5,1426.0 696.0,1424.6 696.5,1425.5 697.0,1425.5 697.5,1425.6 698.0,1424.8 698.5,1424.5 699.0,1424.7 699.5,1424.3 700.0,1424.9 700.5,1424.2 701.0,1423.9 701.5,1423.4 702.0,1422.8 702.5,1423.0 703.0,1420.2 703.5,1421.1 704.0,1419.7 704.5,1417.6 705.0,1415.1 705.5,1412.3 706.0,1409.4 706.5,1400.6 707.0,1389.0 707.5,1371.0 708.0,1347.5 708.5,1325.7 708.7,1321.0 709.0,1323.6 709.5,1337.8 710.0,1349.9 710.5,1353.9 711.0,1359.2 711.5,1372.2 712.0,1386.6 712.5,1398.5 713.0,1406.5 713.5,1412.4 714.0,1415.7 714.5,1417.7 715.0,1419.7 715.5,1421.3 716.0,1421.3 716.5,1422.5 717.0,1423.1 717.5,1423.3 718.0,1424.6 718.5,1424.1 719.0,1424.4 719.5,1424.9 720.0,1424.8 720.5,1425.5 721.0,1426.2 721.5,1425.6 722.0,1426.0 722.5,1425.5 723.0,1425.7 723.5,1426.0 724.0,1426.0 724.5,1425.5 725.0,1425.7 725.5,1426.0 726.0,1426.1 726.5,1426.3 727.0,1426.3 727.5,1426.1 728.0,1426.5 728.5,1426.4 729.0,1426.9 729.5,1427.2 730.0,1427.1 730.5,1426.7 731.0,1425.9 731.5,1426.1 732.0,1427.0 732.5,1427.3 733.0,1426.3 733.5,1426.4 734.0,1427.2 734.5,1426.2 735.0,1426.6 735.5,1426.2 736.0,1426.5 736.5,1426.4 737.0,1426.6 737.5,1427.1 738.0,1426.9 738.5,1427.0 739.0,1426.4 739.5,1427.1 740.0,1427.4 740.5,1426.5 741.0,1426.3 741.5,1426.2 742.0,1426.4 742.5,1427.4 743.0,1427.2 743.5,1427.1 744.0,1426.9 744.5,1427.7 745.0,1426.9 745.5,1426.7 746.0,1427.3 746.5,1426.8 747.0,1426.4 747.5,1426.8 748.0,1426.5 748.5,1426.4 749.0,1426.8 749.5,1426.7 750.0,1427.0 750.5,1426.4 751.0,1427.1 751.5,1427.1 752.0,1426.5 752.5,1427.2 753.0,1426.8 753.5,1426.5 754.0,1426.9 754.5,1426.8 755.0,1426.5 755.5,1426.6 756.0,1427.6 756.5,1427.4 757.0,1426.4 757.5,1426.7 758.0,1427.8 758.5,1427.4 759.0,1426.9 759.5,1427.2 760.0,1426.7 760.5,1426.9 761.0,1426.8 761.5,1427.4 762.0,1426.7 762.5,1426.2 763.0,1427.2 763.5,1426.4 764.0,1426.5 764.5,1426.7 765.0,1426.9 765.5,1427.4 766.0,1427.3 766.5,1426.5 767.0,1426.6 767.5,1426.4 768.0,1426.6 768.5,1426.5 769.0,1427.1 769.5,1427.4 770.0,1426.9 770.5,1426.7 771.0,1426.8 771.5,1427.5 772.0,1427.1 772.5,1427.5 773.0,1426.7 773.5,1427.3 774.0,1427.0 774.5,1426.7 775.0,1426.7 775.5,1426.2 776.0,1427.2 776.5,1427.7 777.0,1426.4 777.5,1426.2 778.0,1426.1 778.5,1426.6 779.0,1426.4 779.5,1426.6 780.0,1427.2 780.5,1426.8 781.0,1426.3 781.5,1426.8 782.0,1425.7 782.5,1427.0 783.0,1426.5 783.5,1425.6 784.0,1426.2 784.5,1426.2 785.0,1426.2 785.5,1425.6 786.0,1424.4 786.5,1424.2 787.0,1423.5 787.5,1422.5 788.0,1420.4 788.5,1417.5 789.0,1414.0 789.5,1409.7 789.9,1407.1 790.0,1406.9 790.5,1409.5 791.0,1412.1 791.5,1412.6 792.0,1414.4 792.5,1415.2 793.0,1417.0 793.5,1419.7 794.0,1422.1 794.5,1423.2 795.0,1424.2 795.5,1424.5 796.0,1425.4 796.5,1425.3 797.0,1426.4 797.5,1426.3 798.0,1426.0 798.5,1426.5 799.0,1426.1 799.5,1426.4 800.0,1426.7 800.5,1426.4 801.0,1426.7 801.5,1427.2 802.0,1427.0 802.5,1426.9 803.0,1426.8 803.5,1426.6 804.0,1426.3 804.5,1426.5 805.0,1425.9 805.5,1426.3 806.0,1426.8 806.5,1426.1 807.0,1426.3 807.5,1427.0 808.0,1426.6 808.5,1426.3 809.0,1426.6 809.5,1426.4 810.0,1426.6 810.5,1426.5 811.0,1426.9 811.5,1426.6 812.0,1426.9 812.5,1426.5 813.0,1427.4 813.5,1426.5 814.0,1426.2 814.5,1426.5 815.0,1426.8 815.5,1426.4 816.0,1427.0 816.5,1427.0 817.0,1426.8 817.5,1426.7 818.0,1426.3 818.5,1427.0 819.0,1426.2 819.5,1427.2 820.0,1426.9 820.5,1426.5 821.0,1425.9 821.5,1426.6 822.0,1427.3 822.5,1426.3 823.0,1426.3 823.5,1426.8 824.0,1426.6 824.5,1426.4 825.0,1426.1 825.5,1425.7 826.0,1426.5 826.5,1424.9 827.0,1425.8 827.5,1425.8 828.0,1425.2 828.5,1425.4 829.0,1424.3 829.5,1424.6 830.0,1425.0 830.5,1424.8 831.0,1424.3 831.5,1424.0 832.0,1423.0 832.5,1423.2 833.0,1421.2 833.5,1420.9 834.0,1419.5 834.5,1417.0 835.0,1415.6 835.5,1411.1 836.0,1404.4 836.5,1395.3 837.0,1381.6 837.5,1364.6 838.0,1352.7 838.1,1351.3 838.5,1355.0 839.0,1366.0 839.5,1373.0 840.0,1377.2 840.5,1377.7 841.0,1382.1 841.5,1391.8 842.0,1402.1 842.5,1409.5 843.0,1413.9 843.5,1417.5 844.0,1418.6 844.5,1420.4 845.0,1421.8 845.5,1422.4 846.0,1423.0 846.5,1423.2 847.0,1423.5 847.5,1425.2 848.0,1424.5 848.5,1425.4 849.0,1425.7 849.5,1425.1 850.0,1425.8 850.5,1426.0 851.0,1425.5 851.5,1426.2 852.0,1426.5 852.5,1425.9 853.0,1425.5 853.5,1426.1 854.0,1426.9 854.5,1426.5 855.0,1426.5 855.5,1425.7 856.0,1426.1 856.5,1426.1 857.0,1426.1 857.5,1426.6 858.0,1426.4 858.5,1426.4 859.0,1427.1 859.5,1426.7 860.0,1426.4 860.5,1427.2 861.0,1426.4 861.5,1426.5 862.0,1426.3 862.5,1427.1 863.0,1426.7 863.5,1426.2 864.0,1426.5 864.5,1427.1 865.0,1426.7 865.5,1426.3 866.0,1426.9 866.5,1426.8 867.0,1425.8 867.5,1426.8 868.0,1426.9 868.5,1427.3 869.0,1427.1 869.5,1426.3 870.0,1426.9 870.5,1427.4 871.0,1427.3 871.5,1426.9 872.0,1426.6 872.5,1427.2 873.0,1426.6 873.5,1427.1 874.0,1426.8 874.5,1426.7 875.0,1426.7 875.5,1427.1 876.0,1427.0 876.5,1426.7 877.0,1427.5 877.5,1426.9 878.0,1426.8 878.5,1426.5 879.0,1427.0 879.5,1427.1 880.0,1426.9 880.5,1427.3 881.0,1427.0 881.5,1426.8 882.0,1426.9 882.5,1427.4 883.0,1427.0 883.5,1427.8 884.0,1426.7 884.5,1427.2 885.0,1426.9 885.5,1427.4 886.0,1427.0 886.5,1426.8 887.0,1426.6 887.5,1427.6 888.0,1426.7 888.5,1427.1 889.0,1427.3 889.5,1426.8 890.0,1427.1 890.5,1427.2 891.0,1427.3 891.5,1426.9 892.0,1427.0 892.5,1427.1 893.0,1427.4 893.5,1427.2 894.0,1426.9 894.5,1426.5 895.0,1427.0 895.5,1426.4 896.0,1427.0 896.5,1427.5 897.0,1426.7 897.5,1427.4 898.0,1426.8 898.5,1426.6 899.0,1427.1 899.5,1427.0 900.0,1426.0 900.5,1426.9 901.0,1426.9 901.5,1426.6 902.0,1427.0 902.5,1427.0 903.0,1426.8 903.5,1427.9 904.0,1426.4 904.5,1427.4 905.0,1427.4 905.5,1426.7 906.0,1426.9 906.5,1427.5 907.0,1426.9 907.5,1427.5 908.0,1427.2 908.5,1427.6 909.0,1427.3 909.5,1426.9 910.0,1426.9 910.5,1426.9 911.0,1426.7 911.5,1427.0 912.0,1427.2 912.5,1427.0 913.0,1426.4 913.5,1427.0 914.0,1426.8 914.5,1427.0 915.0,1426.9 915.5,1426.8 916.0,1426.9 916.5,1427.0 917.0,1427.3 917.5,1427.3 918.0,1426.8 918.5,1426.6 919.0,1426.5 919.5,1426.9 920.0,1427.2 920.5,1426.7 921.0,1426.6 921.5,1427.5 922.0,1426.5 922.5,1426.7 923.0,1426.2 923.5,1427.3 924.0,1427.3 924.5,1426.5 925.0,1427.5 925.5,1427.1 926.0,1427.2 926.5,1427.3 927.0,1427.6 927.5,1426.9 928.0,1426.4 928.5,1426.5 929.0,1426.5 929.5,1426.7 930.0,1426.1 930.5,1426.4 931.0,1426.1 931.5,1427.2 932.0,1426.3 932.5,1426.9 933.0,1426.3 933.5,1426.3 934.0,1426.8 934.5,1426.2 935.0,1425.8 935.5,1426.0 936.0,1425.8 936.5,1426.2 937.0,1426.0 937.5,1426.3 938.0,1425.6 938.5,1424.9 939.0,1424.9 939.5,1425.0 940.0,1424.9 940.5,1423.9 941.0,1424.3 941.5,1424.1 942.0,1423.5 942.5,1422.4 943.0,1422.1 943.5,1420.0 944.0,1420.0 944.5,1419.4 945.0,1418.7 945.5,1417.7 946.0,1418.0 946.5,1417.4 947.0,1417.8 947.5,1418.0 948.0,1418.7 948.5,1419.8 949.0,1420.1 949.5,1421.2 950.0,1421.2 950.5,1422.5 951.0,1422.0 951.5,1423.6 952.0,1423.7 952.5,1424.5 953.0,1424.7 953.5,1425.0 954.0,1425.1 954.5,1424.8 955.0,1425.7 955.5,1426.0 956.0,1425.3 956.5,1426.1 957.0,1426.3 957.5,1425.6 958.0,1425.7 958.5,1427.2 959.0,1426.4 959.5,1425.9 960.0,1426.0 960.5,1426.5 961.0,1425.7 961.5,1426.8 962.0,1426.6 962.5,1426.4 963.0,1426.5 963.5,1426.2 964.0,1426.0 964.5,1426.5 965.0,1425.9 965.5,1426.8 966.0,1426.7 966.5,1425.9 967.0,1426.4 967.5,1426.2 968.0,1426.7 968.5,1426.6 969.0,1426.6 969.5,1426.5 970.0,1426.8 970.5,1426.4 971.0,1426.3 971.5,1426.0 972.0,1426.5 972.5,1426.2 973.0,1426.2 973.5,1426.8 974.0,1427.1 974.5,1425.9 975.0,1425.9 975.5,1426.5 976.0,1426.3 976.5,1426.7 977.0,1427.0 977.5,1426.2 978.0,1427.0 978.5,1426.0 979.0,1426.5 979.5,1426.2 980.0,1425.5 980.5,1425.4 981.0,1426.3 981.5,1425.8 982.0,1426.6 982.5,1426.2 983.0,1425.8 983.5,1425.6 984.0,1426.1 984.5,1425.6 985.0,1425.8 985.5,1426.2 986.0,1425.8 986.5,1425.0 987.0,1425.5 987.5,1425.2 988.0,1425.0 988.5,1425.5 989.0,1424.7 989.5,1424.4 990.0,1424.2 990.5,1424.1 991.0,1424.6 991.5,1424.1 992.0,1424.4 992.5,1424.0 993.0,1423.5 993.5,1422.2 994.0,1421.8 994.5,1421.8 995.0,1420.7 995.5,1420.6 996.0,1418.9 996.5,1417.7 997.0,1416.1 997.5,1413.5 998.0,1409.7 998.5,1405.4 999.0,1399.0 999.5,1389.2 1000.0,1374.4 1000.5,1353.9 1001.0,1327.1 1001.5,1304.1 1001.8,1298.9 1002.0,1299.0 1002.5,1312.4 1003.0,1332.3 1003.5,1342.4 1004.0,1346.4 1004.5,1345.1 1005.0,1348.9 1005.5,1361.1 1006.0,1376.1 1006.5,1390.8 1007.0,1400.1 1007.5,1406.0 1008.0,1411.1 1008.5,1414.1 1009.0,1416.1 1009.5,1418.2 1010.0,1419.3 1010.5,1421.0 1011.0,1421.7 1011.5,1422.4 1012.0,1422.1 1012.5,1423.6 1013.0,1423.4 1013.5,1423.4 1014.0,1423.9 1014.5,1423.8 1015.0,1424.8 1015.5,1424.5 1016.0,1424.3 1016.5,1424.1 1017.0,1424.9 1017.5,1424.7 1018.0,1425.4 1018.5,1425.4 1019.0,1424.9 1019.5,1425.4 1020.0,1425.2 1020.5,1425.5 1021.0,1425.0 1021.5,1425.0 1022.0,1426.3 1022.5,1425.1 1023.0,1425.9 1023.5,1425.9 1024.0,1426.1 1024.5,1425.9 1025.0,1426.6 1025.5,1426.6 1026.0,1426.5 1026.5,1426.3 1027.0,1425.9 1027.5,1426.0 1028.0,1426.2 1028.5,1426.5 1029.0,1427.0 1029.5,1426.2 1030.0,1426.3 1030.5,1426.2 1031.0,1425.8 1031.5,1426.5 1032.0,1426.4 1032.5,1427.3 1033.0,1426.3 1033.5,1426.5 1034.0,1426.8 1034.5,1426.4 1035.0,1426.9 1035.5,1426.7 1036.0,1425.7 1036.5,1426.3 1037.0,1426.2 1037.5,1426.2 1038.0,1426.4 1038.5,1426.5 1039.0,1425.7 1039.5,1426.6 1040.0,1426.1 1040.5,1426.7 1041.0,1426.6 1041.5,1427.4 1042.0,1427.3 1042.5,1426.0 1043.0,1425.9 1043.5,1426.7 1044.0,1426.6 1044.5,1426.3 1045.0,1426.8 1045.5,1425.9 1046.0,1426.9 1046.5,1426.7 1047.0,1427.6 1047.5,1425.9 1048.0,1426.5 1048.5,1425.9 1049.0,1426.9 1049.5,1426.4 1050.0,1426.5 1050.5,1426.4 1051.0,1425.6 1051.5,1425.6 1052.0,1425.9 1052.5,1426.5 1053.0,1426.1 1053.5,1425.9 1054.0,1426.2 1054.5,1426.1 1055.0,1426.2 1055.5,1426.7 1056.0,1426.3 1056.5,1425.7 1057.0,1426.7 1057.5,1426.3 1058.0,1425.8 1058.5,1426.9 1059.0,1426.2 1059.5,1426.9 1060.0,1426.4 1060.5,1426.6 1061.0,1426.6 1061.5,1426.2 1062.0,1426.2 1062.5,1426.2 1063.0,1427.0 1063.5,1425.3 1064.0,1426.2 1064.5,1426.2 1065.0,1426.1 1065.5,1425.7 1066.0,1426.2 1066.5,1425.9 1067.0,1425.9 1067.5,1425.5 1068.0,1425.8 1068.5,1425.4 1069.0,1425.3 1069.5,1425.4 1070.0,1424.8 1070.5,1425.2 1071.0,1425.6 1071.5,1425.0 1072.0,1425.1 1072.5,1424.9 1073.0,1424.7 1073.5,1423.8 1074.0,1424.4 1074.5,1424.2 1075.0,1424.3 1075.5,1423.7 1076.0,1424.0 1076.5,1424.1 1077.0,1424.0 1077.5,1423.2 1078.0,1422.9 1078.5,1423.5 1079.0,1423.0 1079.5,1422.1 1080.0,1421.5 1080.5,1422.0 1081.0,1421.1 1081.5,1420.2 1082.0,1420.4 1082.5,1419.3 1083.0,1418.5 1083.5,1418.4 1084.0,1416.8 1084.5,1415.2 1085.0,1414.6 1085.5,1412.7 1086.0,1409.7 1086.5,1407.8 1087.0,1404.4 1087.5,1400.9 1088.0,1395.7 1088.5,1390.1 1089.0,1379.5 1089.5,1367.6 1090.0,1349.5 1090.5,1321.8 1091.0,1282.9 1091.5,1229.2 1092.0,1169.4 1092.5,1122.1 1092.7,1113.6 1093.0,1121.1 1093.5,1159.8 1094.0,1201.9 1094.5,1230.7 1095.0,1238.9 1095.5,1234.8 1096.0,1232.4 1096.5,1255.6 1097.0,1289.4 1097.5,1323.6 1098.0,1349.1 1098.5,1368.2 1099.0,1382.3 1099.5,1391.6 1100.0,1396.8 1100.5,1402.5 1101.0,1406.7 1101.5,1409.4 1102.0,1411.7 1102.5,1414.1 1103.0,1413.6 1103.5,1416.0 1104.0,1417.9 1104.5,1418.9 1105.0,1418.6 1105.5,1420.1 1106.0,1420.2 1106.5,1421.3 1107.0,1421.4 1107.5,1421.6 1108.0,1422.7 1108.5,1423.2 1109.0,1423.1 1109.5,1423.3 1110.0,1423.4 1110.5,1423.7 1111.0,1423.6 1111.5,1423.7 1112.0,1424.6 1112.5,1423.8 1113.0,1423.9 1113.5,1424.4 1114.0,1424.7 1114.5,1424.3 1115.0,1424.5 1115.5,1425.1 1116.0,1425.1 1116.5,1425.5 1117.0,1425.8 1117.5,1425.0 1118.0,1424.9 1118.5,1426.0 1119.0,1425.5 1119.5,1425.6 1120.0,1425.9 1120.5,1426.0 1121.0,1425.8 1121.5,1426.7 1122.0,1426.0 1122.5,1425.9 1123.0,1425.2 1123.5,1425.6 1124.0,1426.1 1124.5,1426.1 1125.0,1425.4 1125.5,1425.4 1126.0,1426.0 1126.5,1426.1 1127.0,1426.7 1127.5,1426.3 1128.0,1426.3 1128.5,1426.5 1129.0,1425.5 1129.5,1427.0 1130.0,1426.3 1130.5,1426.1 1131.0,1426.1 1131.5,1425.6 1132.0,1427.0 1132.5,1426.6 1133.0,1426.3 1133.5,1426.3 1134.0,1426.5 1134.5,1426.6 1135.0,1426.0 1135.5,1426.7 1136.0,1426.7 1136.5,1425.8 1137.0,1425.6 1137.5,1426.0 1138.0,1426.7 1138.5,1426.7 1139.0,1426.8 1139.5,1426.7 1140.0,1426.4 1140.5,1425.7 1141.0,1426.0 1141.5,1426.5 1142.0,1426.4 1142.5,1426.7 1143.0,1425.6 1143.5,1426.7 1144.0,1425.6 1144.5,1426.1 1145.0,1425.8 1145.5,1425.8 1146.0,1424.5 1146.5,1424.5 1147.0,1422.6 1147.5,1423.1 1148.0,1421.5 1148.5,1419.0 1149.0,1417.0 1149.5,1415.3 1149.8,1414.6 1150.0,1413.6 1150.5,1415.6 1151.0,1417.4 1151.5,1419.0 1152.0,1419.1 1152.5,1419.5 1153.0,1419.4 1153.5,1419.8 1154.0,1420.0 1154.5,1422.0 1155.0,1423.3 1155.5,1423.5 1156.0,1424.6 1156.5,1425.2 1157.0,1425.6 1157.5,1425.3 1158.0,1426.2 1158.5,1425.7 1159.0,1425.4 1159.5,1426.0 1160.0,1426.6 1160.5,1426.8 1161.0,1426.4 1161.5,1427.0 1162.0,1427.2 1162.5,1426.8 1163.0,1427.0 1163.5,1426.4 1164.0,1427.2 1164.5,1426.0 1165.0,1427.0 1165.5,1426.6 1166.0,1426.4 1166.5,1426.6 1167.0,1426.5 1167.5,1427.1 1168.0,1427.8 1168.5,1426.8 1169.0,1427.5 1169.5,1427.0 1170.0,1426.4 1170.5,1426.8 1171.0,1427.0 1171.5,1427.2 1172.0,1426.9 1172.5,1426.8 1173.0,1427.5 1173.5,1426.7 1174.0,1427.2 1174.5,1426.7 1175.0,1427.0 1175.5,1426.5 1176.0,1426.5 1176.5,1426.8 1177.0,1426.9 1177.5,1426.7 1178.0,1426.3 1178.5,1426.4 1179.0,1426.7 1179.5,1426.7 1180.0,1426.2 1180.5,1427.4 1181.0,1426.7 1181.5,1427.2 1182.0,1426.3 1182.5,1427.1 1183.0,1426.9 1183.5,1427.2 1184.0,1426.7 1184.5,1426.5 1185.0,1426.1 1185.5,1427.3 1186.0,1427.0 1186.5,1425.2 1187.0,1426.4 1187.5,1426.9 1188.0,1426.6 1188.5,1427.8 1189.0,1426.2 1189.5,1426.7 1190.0,1427.3 1190.5,1426.2 1191.0,1426.9 1191.5,1427.2 1192.0,1426.5 1192.5,1426.5 1193.0,1426.8 1193.5,1426.6 1194.0,1427.2 1194.5,1427.2 1195.0,1426.4 1195.5,1426.1 1196.0,1426.5 1196.5,1426.5 1197.0,1426.8 1197.5,1426.5 1198.0,1426.8 1198.5,1425.8 1199.0,1426.7 1199.5,1426.2 1200.0,1426.4 1200.5,1426.9 1201.0,1425.5 1201.5,1426.4 1202.0,1426.6 1202.5,1426.3 1203.0,1426.5 1203.5,1426.0 1204.0,1426.4 1204.5,1425.8 1205.0,1425.9 1205.5,1426.3 1206.0,1425.3 1206.5,1425.5 1207.0,1425.9 1207.5,1425.1 1208.0,1425.1 1208.5,1424.4 1209.0,1425.4 1209.5,1424.6 1210.0,1424.8 1210.5,1424.2 1211.0,1424.5 1211.5,1424.4 1212.0,1424.0 1212.5,1424.5 1213.0,1424.9 1213.5,1423.9 1214.0,1424.3 1214.5,1423.9 1215.0,1423.5 1215.5,1424.0 1216.0,1423.5 1216.5,1424.0 1217.0,1424.1 1217.5,1424.0 1218.0,1424.2 1218.5,1424.6 1219.0,1424.5 1219.5,1425.0 1220.0,1424.9 1220.5,1425.0 1221.0,1424.9 1221.5,1425.4 1222.0,1425.0 1222.5,1424.6 1223.0,1424.7 1223.5,1425.6 1224.0,1425.3 1224.5,1425.5 1225.0,1425.5 1225.5,1425.6 1226.0,1425.8 1226.5,1425.8 1227.0,1426.0 1227.5,1426.3 1228.0,1426.1 1228.5,1426.1 1229.0,1425.8 1229.5,1426.2 1230.0,1426.1 1230.5,1425.7 1231.0,1426.7 1231.5,1426.5 1232.0,1426.2 1232.5,1426.4 1233.0,1426.8 1233.5,1426.1 1234.0,1426.5 1234.5,1426.9 1235.0,1425.7 1235.5,1427.0 1236.0,1426.5 1236.5,1426.8 1237.0,1426.6 1237.5,1426.3 1238.0,1426.8 1238.5,1426.6 1239.0,1426.7 1239.5,1427.0 1240.0,1426.1 1240.5,1426.5 1241.0,1426.8 1241.5,1426.9 1242.0,1426.9 1242.5,1426.5 1243.0,1426.8 1243.5,1426.1 1244.0,1427.6 1244.5,1427.5 1245.0,1426.6 1245.5,1427.4 1246.0,1426.6 1246.5,1426.9 1247.0,1426.4 1247.5,1426.5 1248.0,1426.0 1248.5,1426.2 1249.0,1426.1 1249.5,1426.3 1250.0,1426.2 1250.5,1426.3 1251.0,1426.8 1251.5,1427.1 1252.0,1427.0 1252.5,1426.3 1253.0,1427.4 1253.5,1426.5 1254.0,1426.8 1254.5,1426.1 1255.0,1426.3 1255.5,1426.7 1256.0,1426.4 1256.5,1427.4 1257.0,1426.3 1257.5,1426.3 1258.0,1427.1 1258.5,1426.0 1259.0,1426.4 1259.5,1426.2 1260.0,1426.8 1260.5,1425.9 1261.0,1425.9 1261.5,1426.3 1262.0,1426.6 1262.5,1425.7 1263.0,1425.6 1263.5,1425.9 1264.0,1425.7 1264.5,1426.1 1265.0,1425.8 1265.5,1425.7 1266.0,1425.8 1266.5,1424.7 1267.0,1425.5 1267.5,1425.9 1268.0,1425.4 1268.5,1425.9 1269.0,1425.2 1269.5,1425.2 1270.0,1425.5 1270.5,1425.3 1271.0,1425.4 1271.5,1424.8 1272.0,1425.0 1272.5,1424.1 1273.0,1424.3 1273.5,1424.4 1274.0,1424.6 1274.5,1423.2 1275.0,1423.1 1275.5,1423.3 1276.0,1422.9 1276.5,1422.9 1277.0,1422.4 1277.5,1420.8 1278.0,1421.0 1278.5,1421.3 1279.0,1420.5 1279.5,1419.8 1280.0,1417.1 1280.5,1415.8 1281.0,1413.5 1281.5,1411.2 1282.0,1408.9 1282.5,1404.1 1283.0,1397.5 1283.5,1388.3 1284.0,1375.2 1284.5,1357.7 1285.0,1337.2 1285.5,1316.0 1286.0,1306.9 1286.5,1313.1 1287.0,1329.0 1287.5,1345.8 1288.0,1355.3 1288.5,1359.4 1289.0,1356.6 1289.5,1354.2 1290.0,1353.9 1290.5,1362.4 1291.0,1374.1 1291.5,1387.5 1292.0,1395.7 1292.5,1402.6 1293.0,1408.8 1293.5,1412.0 1294.0,1414.5 1294.5,1416.6 1295.0,1417.9 1295.5,1419.2 1296.0,1419.6 1296.5,1420.7 1297.0,1421.0 1297.5,1421.6 1298.0,1422.3 1298.5,1421.7 1299.0,1422.7 1299.5,1422.7 1300.0,1423.3 1300.5,1423.1 1301.0,1423.2 1301.5,1423.7 1302.0,1424.5 1302.5,1423.5 1303.0,1423.6 1303.5,1424.1 1304.0,1424.0 1304.5,1424.1 1305.0,1424.2 1305.5,1424.7 1306.0,1424.2 1306.5,1424.0 1307.0,1424.5 1307.5,1424.5 1308.0,1423.4 1308.5,1423.8 1309.0,1424.1 1309.5,1424.2 1310.0,1425.1 1310.5,1424.6 1311.0,1423.8 1311.5,1423.3 1312.0,1424.4 1312.5,1423.8 1313.0,1422.4 1313.5,1423.0 1314.0,1422.9 1314.5,1422.6 1315.0,1422.6 1315.5,1422.5 1316.0,1421.9 1316.5,1421.6 1317.0,1421.8 1317.5,1420.5 1318.0,1421.3 1318.5,1420.5 1319.0,1418.4 1319.5,1419.0 1320.0,1418.0 1320.5,1417.6 1321.0,1416.6 1321.5,1415.1 1322.0,1414.1 1322.5,1412.0 1323.0,1409.4 1323.5,1407.4 1324.0,1403.9 1324.5,1400.8 1325.0,1394.5 1325.5,1388.5 1326.0,1378.1 1326.5,1365.6 1327.0,1347.0 1327.5,1320.3 1328.0,1284.0 1328.5,1244.9 1329.0,1202.9 1329.5,1182.6 1330.0,1194.4 1330.5,1227.4 1331.0,1259.8 1331.5,1282.1 1332.0,1290.6 1332.5,1290.4 1333.0,1281.3 1333.5,1278.3 1334.0,1291.5 1334.5,1314.4 1335.0,1339.4 1335.5,1358.8 1336.0,1374.8 1336.5,1385.9 1337.0,1394.2 1337.5,1399.9 1338.0,1404.8 1338.5,1408.6 1339.0,1409.7 1339.5,1412.1 1340.0,1413.9 1340.5,1415.8 1341.0,1416.5 1341.5,1417.4 1342.0,1418.8 1342.5,1419.0 1343.0,1420.2 1343.5,1419.8 1344.0,1421.9 1344.5,1422.1 1345.0,1421.7 1345.5,1422.2 1346.0,1422.7 1346.5,1423.8 1347.0,1422.8 1347.5,1424.2 1348.0,1423.6 1348.5,1424.1 1349.0,1423.6 1349.5,1423.7 1350.0,1424.7 1350.5,1424.9 1351.0,1424.8 1351.5,1425.5 1352.0,1424.4 1352.5,1425.1 1353.0,1424.9 1353.5,1425.6 1354.0,1425.1 1354.5,1425.5 1355.0,1425.5 1355.5,1425.7 1356.0,1424.9 1356.5,1425.8 1357.0,1426.7 1357.5,1425.3 1358.0,1425.8 1358.5,1426.2 1359.0,1424.8 1359.5,1425.8 1360.0,1426.5 1360.5,1426.2 1361.0,1425.9 1361.5,1426.0 1362.0,1425.6 1362.5,1425.6 1363.0,1426.4 1363.5,1426.0 1364.0,1425.9 1364.5,1426.3 1365.0,1426.3 1365.5,1425.8 1366.0,1426.1 1366.5,1426.8 1367.0,1426.4 1367.5,1426.4 1368.0,1426.3 1368.5,1426.5 1369.0,1425.7 1369.5,1426.7 1370.0,1426.8 1370.5,1426.3 1371.0,1427.2 1371.5,1426.7 1372.0,1426.2 1372.5,1427.0 1373.0,1426.8 1373.5,1426.0 1374.0,1426.2 1374.5,1426.3 1375.0,1426.3 1375.5,1426.7 1376.0,1426.3 1376.5,1426.4 1377.0,1425.4 1377.5,1426.2 1378.0,1426.6 1378.5,1426.5 1379.0,1426.4 1379.5,1426.9 1380.0,1426.8 1380.5,1425.8 1381.0,1427.0 1381.5,1426.7 1382.0,1425.9 1382.5,1425.8 1383.0,1426.8 1383.5,1425.8 1384.0,1426.5 1384.5,1425.7 1385.0,1426.2 1385.5,1426.5 1386.0,1426.0 1386.5,1426.0 1387.0,1426.5 1387.5,1425.3 1388.0,1426.4 1388.5,1425.8 1389.0,1426.4 1389.5,1426.8 1390.0,1426.4 1390.5,1426.0 1391.0,1425.6 1391.5,1425.2 1392.0,1425.7 1392.5,1425.8 1393.0,1426.1 1393.5,1425.6 1394.0,1425.2 1394.5,1425.9 1395.0,1424.5 1395.5,1424.1 1396.0,1423.4 1396.5,1424.4 1397.0,1423.5 1397.5,1423.0 1398.0,1422.8 1398.5,1421.5 1399.0,1420.3 1399.5,1417.9 1400.0,1415.6 1400.5,1411.9 1401.0,1407.9 1401.5,1402.8 1402.0,1395.4 1402.5,1390.0 1402.8,1389.3 1403.0,1388.6 1403.5,1392.9 1404.0,1397.7 1404.5,1403.0 1405.0,1405.6 1405.5,1405.7 1406.0,1406.6 1406.5,1404.9 1407.0,1405.3 1407.5,1405.8 1408.0,1408.6 1408.5,1412.6 1409.0,1416.3 1409.5,1417.2 1410.0,1420.2 1410.5,1421.8 1411.0,1422.8 1411.5,1422.9 1412.0,1424.9 1412.5,1424.4 1413.0,1424.3 1413.5,1425.0 1414.0,1425.0 1414.5,1425.7 1415.0,1425.6 1415.5,1425.8 1416.0,1425.8 1416.5,1425.8 1417.0,1426.0 1417.5,1425.6 1418.0,1426.1 1418.5,1426.4 1419.0,1426.2 1419.5,1426.3 1420.0,1426.9 1420.5,1426.9 1421.0,1426.9 1421.5,1426.3 1422.0,1426.7 1422.5,1426.6 1423.0,1425.3 1423.5,1426.0 1424.0,1426.6 1424.5,1426.8 1425.0,1426.0 1425.5,1426.9 1426.0,1426.1 1426.5,1426.4 1427.0,1426.1 1427.5,1426.9 1428.0,1426.3 1428.5,1427.3 1429.0,1426.7 1429.5,1426.1 1430.0,1426.4 1430.5,1427.3 1431.0,1426.3 1431.5,1426.4 1432.0,1426.6 1432.5,1426.8 1433.0,1426.7 1433.5,1426.8 1434.0,1426.1 1434.5,1426.3 1435.0,1426.1 1435.5,1426.2 1436.0,1427.1 1436.5,1426.4 1437.0,1425.6 1437.5,1426.9 1438.0,1426.2 1438.5,1426.6 1439.0,1426.6 1439.5,1426.2 1440.0,1425.8 1440.5,1425.8 1441.0,1425.9 1441.5,1425.6 1442.0,1426.5 1442.5,1425.6 1443.0,1425.6 1443.5,1425.7 1444.0,1425.5 1444.5,1425.8 1445.0,1424.9 1445.5,1425.5 1446.0,1425.6 1446.5,1424.9 1447.0,1425.1 1447.5,1424.7 1448.0,1424.0 1448.5,1424.4 1449.0,1424.4 1449.5,1423.2 1450.0,1424.6 1450.5,1424.0 1450.6,1423.4 1451.0,1423.5 1451.5,1423.2 1452.0,1424.2 1452.5,1423.9 1453.0,1424.1 1453.5,1424.5 1454.0,1424.6 1454.5,1424.9 1455.0,1424.4 1455.5,1424.2 1456.0,1425.0 1456.5,1424.5 1457.0,1425.0 1457.5,1425.3 1458.0,1426.2 1458.5,1424.8 1459.0,1425.1 1459.5,1425.7 1460.0,1425.7 1460.5,1426.3 1461.0,1425.8 1461.5,1425.9 1462.0,1425.7 1462.5,1425.9 1463.0,1426.7 1463.5,1426.8 1464.0,1426.1 1464.5,1427.0 1465.0,1426.3 1465.5,1426.0 1466.0,1427.0 1466.5,1426.1 1467.0,1426.4 1467.5,1426.4 1468.0,1426.9 1468.5,1426.5 1469.0,1426.4 1469.5,1426.0 1470.0,1426.4 1470.5,1426.4 1471.0,1427.3 1471.5,1426.5 1472.0,1427.1 1472.5,1426.8 1473.0,1426.7 1473.5,1426.4 1474.0,1426.5 1474.5,1426.7 1475.0,1426.8 1475.5,1426.2 1476.0,1427.1 1476.5,1426.8 1477.0,1426.4 1477.5,1427.0 1478.0,1426.5 1478.5,1426.5 1479.0,1426.0 1479.5,1426.4 1480.0,1427.6 1480.5,1427.0 1481.0,1426.8 1481.5,1426.6 1482.0,1426.8 1482.5,1426.2 1483.0,1426.4 1483.5,1427.4 1484.0,1427.2 1484.5,1427.8 1485.0,1426.2 1485.5,1427.0 1486.0,1427.0 1486.5,1427.6 1487.0,1427.2 1487.5,1426.8 1488.0,1427.1 1488.5,1427.1 1489.0,1427.3 1489.5,1426.1 1490.0,1427.2 1490.5,1427.6 1491.0,1427.2 1491.5,1427.2 1492.0,1427.1 1492.5,1427.1 1493.0,1427.4 1493.5,1427.1 1494.0,1426.9 1494.5,1427.6 1495.0,1426.2 1495.5,1426.4 1496.0,1427.7 1496.5,1427.2 1497.0,1426.6 1497.5,1426.4 1498.0,1426.3 1498.5,1427.8 1499.0,1427.5 1499.5,1427.2 1500.0,1426.8 1500.5,1427.5 1501.0,1426.8 1501.5,1426.8 1502.0,1426.7 1502.5,1427.5 1503.0,1427.0 1503.5,1427.0 1504.0,1427.2 1504.5,1426.5 1505.0,1427.1 1505.5,1426.4 1506.0,1427.2 1506.5,1426.2 1507.0,1426.3 1507.5,1427.3 1508.0,1426.8 1508.5,1426.8 1509.0,1427.4 1509.5,1426.6 1510.0,1426.7 1510.5,1427.3 1511.0,1426.9 1511.5,1426.5 1512.0,1426.9 1512.5,1427.2 1513.0,1426.2 1513.5,1427.3 1514.0,1426.8 1514.5,1426.5 1515.0,1426.6 1515.5,1427.5 1516.0,1426.9 1516.5,1426.8 1517.0,1426.8 1517.5,1426.6 1518.0,1426.6 1518.5,1426.7 1519.0,1426.6 1519.5,1426.3 1520.0,1426.3 1520.5,1427.5 1521.0,1425.7 1521.5,1426.8 1522.0,1426.3 1522.5,1427.3 1523.0,1426.7 1523.5,1427.1 1524.0,1426.0 1524.5,1426.1 1525.0,1426.4 1525.5,1426.3 1526.0,1426.1 1526.5,1426.6 1527.0,1426.4 1527.5,1426.5 1528.0,1425.5 1528.5,1425.8 1529.0,1426.2 1529.5,1425.4 1530.0,1425.2 1530.5,1424.8 1531.0,1425.3 1531.5,1424.6 1532.0,1423.5 1532.5,1424.2 1533.0,1423.7 1533.5,1422.8 1534.0,1422.9 1534.5,1421.6 1535.0,1420.3 1535.5,1418.9 1536.0,1415.9 1536.5,1413.0 1537.0,1409.5 1537.5,1403.4 1538.0,1396.6 1538.5,1391.2 1539.0,1388.6 1539.5,1389.8 1540.0,1395.9 1540.5,1401.0 1541.0,1405.1 1541.5,1406.8 1542.0,1408.0 1542.5,1407.0 1543.0,1406.3 1543.5,1404.9 1544.0,1405.5 1544.5,1407.3 1545.0,1410.5 1545.5,1415.3 1546.0,1416.6 1546.5,1419.2 1547.0,1421.6 1547.5,1421.8 1548.0,1422.4 1548.5,1423.5 1549.0,1423.7 1549.5,1423.7 1550.0,1425.0 1550.5,1424.8 1551.0,1425.0 1551.5,1425.7 1552.0,1426.5 1552.5,1426.4 1553.0,1426.1 1553.5,1425.8 1554.0,1426.7 1554.5,1426.5 1555.0,1425.5 1555.5,1427.1 1556.0,1426.1 1556.5,1426.3 1557.0,1426.2 1557.5,1427.1 1558.0,1426.5 1558.5,1427.2 1559.0,1426.1 1559.5,1426.9 1560.0,1426.5 1560.5,1427.1 1561.0,1426.7 1561.5,1427.4 1562.0,1426.7 1562.5,1426.5 1563.0,1426.9 1563.5,1426.2 1564.0,1426.7 1564.5,1426.6 1565.0,1426.6 1565.5,1426.1 1566.0,1427.2 1566.5,1427.0 1567.0,1427.0 1567.5,1426.6 1568.0,1426.8 1568.5,1426.6 1569.0,1426.8 1569.5,1427.2 1570.0,1426.9 1570.5,1426.8 1571.0,1427.9 1571.5,1426.4 1572.0,1427.3 1572.5,1427.1 1573.0,1426.8 1573.5,1427.1 1574.0,1427.6 1574.5,1427.1 1575.0,1426.4 1575.5,1426.6 1576.0,1426.6 1576.5,1427.2 1577.0,1427.1 1577.5,1426.6 1578.0,1426.5 1578.5,1427.0 1579.0,1427.5 1579.5,1427.8 1580.0,1426.5 1580.5,1427.7 1581.0,1426.9 1581.5,1426.6 1582.0,1425.7 1582.5,1427.0 1583.0,1427.1 1583.5,1426.9 1584.0,1426.8 1584.5,1426.5 1585.0,1426.7 1585.5,1427.3 1586.0,1427.9 1586.5,1426.9 1587.0,1427.3 1587.5,1426.5 1588.0,1427.6 1588.5,1426.9 1589.0,1427.3 1589.5,1427.4 1590.0,1426.4 1590.5,1427.0 1591.0,1427.1 1591.5,1426.7 1592.0,1427.4 1592.5,1427.2 1593.0,1427.3 1593.5,1426.3 1594.0,1426.9 1594.5,1426.8 1595.0,1426.6 1595.5,1427.1 1596.0,1427.1 1596.5,1427.8 1597.0,1426.8 1597.5,1426.9 1598.0,1427.2 1598.5,1426.6 1599.0,1427.8 1599.5,1426.9 1600.0,1427.6 1600.5,1427.5 1601.0,1427.1 1601.5,1426.6 1602.0,1427.6 1602.5,1427.5 1603.0,1427.6 1603.5,1426.3 1604.0,1426.8 1604.5,1426.9 1605.0,1426.2 1605.5,1427.0 1606.0,1427.9 1606.5,1427.3 1607.0,1427.6 1607.5,1426.2 1608.0,1427.6 1608.5,1427.0 1609.0,1427.3 1609.5,1427.2 1610.0,1427.0 1610.5,1427.1 1611.0,1427.3 1611.5,1427.6 1612.0,1427.3 1612.5,1427.5 1613.0,1427.4 1613.5,1427.0 1614.0,1427.1 1614.5,1426.9 1615.0,1427.2 1615.5,1426.2 1616.0,1427.4 1616.5,1427.5 1617.0,1426.6 1617.5,1427.3 1618.0,1427.0 1618.5,1426.7 1619.0,1427.1 1619.5,1427.1 1620.0,1426.7 1620.5,1426.9 1621.0,1427.3 1621.5,1427.5 1622.0,1427.2 1622.5,1427.8 1623.0,1427.4 1623.5,1427.5 1624.0,1426.9 1624.5,1426.7 1625.0,1427.3 1625.5,1427.2 1626.0,1427.4 1626.5,1427.6 1627.0,1427.2 1627.5,1426.8 1628.0,1426.9 1628.5,1426.8 1629.0,1427.1 1629.5,1428.1 1630.0,1426.6 1630.5,1426.5 1631.0,1426.6 1631.5,1426.6 1632.0,1426.6 1632.5,1425.8 1633.0,1426.8 1633.5,1426.3 1634.0,1426.6 1634.5,1426.7 1635.0,1427.0 1635.5,1427.0 1636.0,1427.4 1636.5,1426.7 1637.0,1427.0 1637.5,1427.4 1638.0,1427.2 1638.5,1427.4 1639.0,1426.2 1639.5,1427.0 1640.0,1426.9 1640.5,1427.2 1641.0,1427.3 1641.5,1426.4 1642.0,1426.9 1642.5,1426.7 1643.0,1425.9 1643.5,1425.9 1644.0,1426.4 1644.5,1426.5 1645.0,1426.5 1645.5,1426.8 1646.0,1425.8 1646.5,1427.0 1647.0,1426.6 1647.5,1427.3 1648.0,1427.0 1648.5,1426.3 1649.0,1426.1 1649.5,1426.1 1650.0,1426.2 1650.5,1426.3 1651.0,1426.2 1651.5,1426.0 1652.0,1425.1 1652.5,1424.9 1653.0,1425.0 1653.5,1425.1 1654.0,1424.9 1654.5,1423.8 1655.0,1423.7 1655.5,1423.6 1656.0,1421.4 1656.5,1421.3 1657.0,1421.4 1657.5,1421.4 1658.0,1421.4 1658.5,1420.9 1659.0,1421.7 1659.5,1421.7 1660.0,1421.8 1660.5,1421.7 1661.0,1422.1 1661.5,1422.5 1662.0,1422.7 1662.5,1422.2 1663.0,1422.2 1663.5,1423.3 1664.0,1423.2 1664.5,1423.9 1665.0,1424.6 1665.5,1424.8 1666.0,1424.6 1666.5,1424.3 1667.0,1424.7 1667.5,1425.4 1668.0,1425.7 1668.5,1425.0 1669.0,1425.2 1669.5,1426.1 1670.0,1425.0 1670.5,1425.5 1671.0,1425.0 1671.5,1425.0 1672.0,1424.7 1672.5,1424.4 1673.0,1424.2 1673.5,1424.8 1674.0,1424.6 1674.5,1423.6 1675.0,1423.5 1675.5,1424.1 1676.0,1423.4 1676.5,1421.5 1677.0,1420.1 1677.5,1419.3 1678.0,1418.0 1678.5,1416.2 1679.0,1414.0 1679.5,1409.3 1680.0,1403.7 1680.5,1397.6 1681.0,1391.6 1681.5,1385.9 1681.8,1384.6 1682.0,1385.8 1682.5,1389.6 1683.0,1394.6 1683.5,1400.0 1684.0,1403.3 1684.5,1405.5 1685.0,1407.9 1685.5,1407.2 1686.0,1405.5 1686.5,1403.1 1687.0,1402.4 1687.5,1404.6 1688.0,1407.0 1688.5,1410.5 1689.0,1413.6 1689.5,1416.6 1690.0,1418.8 1690.5,1420.7 1691.0,1421.3 1691.5,1421.8 1692.0,1422.7 1692.5,1423.0 1693.0,1423.5 1693.5,1424.0 1694.0,1424.6 1694.5,1424.7 1695.0,1424.3 1695.5,1424.8 1696.0,1425.4 1696.5,1426.0 1697.0,1426.1 1697.5,1425.8 1698.0,1425.8 1698.5,1426.8 1699.0,1426.0 1699.5,1426.1 1700.0,1426.2 1700.5,1426.6 1701.0,1425.4 1701.5,1426.0 1702.0,1427.1 1702.5,1426.7 1703.0,1426.2 1703.5,1426.4 1704.0,1426.6 1704.5,1426.6 1705.0,1426.7 1705.5,1426.8 1706.0,1427.0 1706.5,1426.5 1707.0,1427.9 1707.5,1427.1 1708.0,1426.2 1708.5,1427.1 1709.0,1427.3 1709.5,1426.0 1710.0,1426.3 1710.5,1426.9 1711.0,1427.1 1711.5,1427.0 1712.0,1427.0 1712.5,1427.0 1713.0,1427.2 1713.5,1426.7 1714.0,1427.1 1714.5,1427.6 1715.0,1427.4 1715.5,1426.9 1716.0,1427.4 1716.5,1428.0 1717.0,1426.3 1717.5,1426.8 1718.0,1427.2 1718.5,1427.2 1719.0,1426.8 1719.5,1426.4 1720.0,1427.3 1720.5,1426.8 1721.0,1427.2 1721.5,1426.8 1722.0,1427.5 1722.5,1427.8 1723.0,1427.0 1723.5,1427.0 1724.0,1426.7 1724.5,1427.3 1725.0,1426.5 1725.5,1427.0 1726.0,1426.4 1726.5,1427.2 1727.0,1426.4 1727.5,1427.0 1728.0,1427.0 1728.5,1426.6 1729.0,1427.7 1729.5,1427.5 1730.0,1426.3 1730.5,1427.7 1731.0,1427.3 1731.5,1426.8 1732.0,1426.4 1732.5,1427.2 1733.0,1427.0 1733.5,1427.5 1734.0,1427.2 1734.5,1426.6 1735.0,1426.9 1735.5,1427.0 1736.0,1426.9 1736.5,1427.0 1737.0,1427.0 1737.5,1427.2 1738.0,1427.4 1738.5,1426.8 1739.0,1427.5 1739.5,1426.6 1740.0,1426.1 1740.5,1426.4 1741.0,1426.0 1741.5,1427.4 1742.0,1426.9 1742.5,1427.3 1743.0,1427.3 1743.5,1427.7 1744.0,1427.5 1744.5,1426.6 1745.0,1426.7 1745.5,1426.5 1746.0,1426.5 1746.5,1426.6 1747.0,1427.3 1747.5,1427.0 1748.0,1426.6 1748.5,1426.4 1749.0,1427.1 1749.5,1427.1 1750.0,1427.1 1750.5,1426.3 1751.0,1426.6 1751.5,1427.0 1752.0,1427.2 1752.5,1426.7 1753.0,1427.6 1753.5,1427.0 1754.0,1427.1 1754.5,1427.0 1755.0,1426.6 1755.5,1426.6 1756.0,1425.5 1756.5,1426.7 1757.0,1426.4 1757.5,1427.0 1758.0,1427.3 1758.5,1426.2 1759.0,1425.9 1759.5,1426.9 1760.0,1426.6 1760.5,1426.0 1761.0,1426.4 1761.5,1427.4 1762.0,1425.9 1762.5,1426.3 1763.0,1425.8 1763.5,1426.4 1764.0,1425.6 1764.5,1425.5 1765.0,1426.1 1765.5,1425.5 1766.0,1425.7 1766.5,1425.5 1767.0,1425.6 1767.5,1425.1 1768.0,1424.8 1768.5,1423.5 1769.0,1423.7 1769.5,1423.5 1770.0,1421.5 1770.5,1420.6 1771.0,1419.1 1771.5,1417.4 1772.0,1414.3 1772.5,1411.1 1773.0,1408.0 1773.5,1403.6 1774.0,1401.0 1774.2,1400.8 1774.5,1400.6 1775.0,1404.0 1775.5,1407.0 1776.0,1409.9 1776.5,1412.7 1777.0,1413.8 1777.5,1414.9 1778.0,1415.6 1778.5,1414.1 1779.0,1413.0 1779.5,1411.6 1780.0,1411.4 1780.5,1413.8 1781.0,1415.8 1781.5,1417.3 1782.0,1418.8 1782.5,1420.7 1783.0,1422.8 1783.5,1423.8 1784.0,1424.2 1784.5,1424.7 1785.0,1424.3 1785.5,1424.9 1786.0,1424.8 1786.5,1425.6 1787.0,1425.1 1787.5,1425.9 1788.0,1425.7 1788.5,1426.2 1789.0,1426.0 1789.5,1425.8 1790.0,1426.0 1790.5,1425.8 1791.0,1426.6 1791.5,1426.3 1792.0,1425.9 1792.5,1426.4 1793.0,1426.7 1793.5,1426.7 1794.0,1426.9 1794.5,1426.7 1795.0,1426.1 1795.5,1426.6 1796.0,1426.8 1796.5,1427.1 1797.0,1427.3 1797.5,1425.8 1798.0,1427.0 1798.5,1426.7 1799.0,1427.1 1799.5,1426.8 1800.0,1427.1 1800.5,1426.8 1801.0,1426.3 1801.5,1427.2 1802.0,1426.7 1802.5,1426.9 1803.0,1426.6 1803.5,1427.2 1804.0,1426.8 1804.5,1427.4 1805.0,1427.7 1805.5,1427.5 1806.0,1427.3 1806.5,1427.4 1807.0,1427.2 1807.5,1426.6 1808.0,1427.5 1808.5,1426.8 1809.0,1426.9 1809.5,1427.3 1810.0,1427.4 1810.5,1426.9 1811.0,1426.8 1811.5,1427.2 1812.0,1427.1 1812.5,1427.1 1813.0,1427.6 1813.5,1427.0 1814.0,1426.9 1814.5,1426.4 1815.0,1427.6 1815.5,1427.4 1816.0,1427.0 1816.5,1427.3 1817.0,1427.3 1817.5,1427.1 1818.0,1427.2 1818.5,1427.1 1819.0,1426.9 1819.5,1427.8 1820.0,1426.8 1820.5,1428.0 1821.0,1426.4 1821.5,1426.8 1822.0,1427.4 1822.5,1426.7 1823.0,1427.2 1823.5,1426.9 1824.0,1426.8 1824.5,1427.0 1825.0,1427.1 1825.5,1426.8 1826.0,1427.2 1826.5,1427.3 1827.0,1427.5 1827.5,1427.8 1828.0,1426.5 1828.5,1426.8 1829.0,1427.6 1829.5,1427.0 1830.0,1427.0 1830.5,1428.0 1831.0,1427.5 1831.5,1427.2 1832.0,1426.4 1832.5,1426.7 1833.0,1426.6 1833.5,1427.0 1834.0,1426.7 1834.5,1427.6 1835.0,1426.9 1835.5,1426.8 1836.0,1427.6 1836.5,1427.0 1837.0,1426.5 1837.5,1426.3 1838.0,1426.6 1838.5,1427.4 1839.0,1427.1 1839.5,1427.4"/>
<polyline shape-rendering="crispEdges" stroke="#404040" points="208.0,1153.7 208.5,1154.0 209.0,1153.9 209.5,1154.8 210.0,1153.1 210.5,1153.3 211.0,1153.9 211.5,1153.5 212.0,1153.7 212.5,1154.0 213.0,1153.4 213.5,1153.9 214.0,1153.9 214.5,1154.1 215.0,1153.6 215.5,1153.8 216.0,1153.6 216.5,1154.0 217.0,1153.7 217.5,1154.1 218.0,1153.5 218.5,1153.7 219.0,1153.7 219.5,1153.6 220.0,1154.2 220.5,1153.5 221.0,1152.9 221.5,1154.4 222.0,1154.5 222.5,1154.4 223.0,1153.5 223.5,1153.7 224.0,1153.3 224.5,1153.5 225.0,1153.7 225.5,1153.7 226.0,1153.8 226.5,1153.4 227.0,1154.2 227.5,1154.0 228.0,1153.7 228.5,1153.1 229.0,1154.1 229.5,1154.2 230.0,1154.0 230.5,1153.4 231.0,1153.9 231.5,1153.3 232.0,1154.5 232.5,1153.3 233.0,1153.4 233.5,1154.3 234.0,1153.7 234.5,1153.3 235.0,1153.8 235.5,1153.4 236.0,1152.8 236.5,1153.7 237.0,1153.9 237.5,1154.1 238.0,1153.5 238.5,1153.9 239.0,1153.8 239.5,1153.8 240.0,1153.5 240.5,1154.2 241.0,1154.4 241.5,1154.8 242.0,1153.3 242.5,1153.7 243.0,1153.2 243.5,1153.8 244.0,1154.1 244.5,1153.6 245.0,1153.8 245.5,1154.3 246.0,1154.1 246.5,1153.1 247.0,1153.6 247.5,1153.6 248.0,1153.9 248.5,1154.0 249.0,1153.4 249.5,1153.8 250.0,1154.1 250.5,1153.8 251.0,1154.1 251.5,1153.7 252.0,1153.3 252.5,1154.1 253.0,1153.2 253.5,1154.0 254.0,1153.7 254.5,1154.1 255.0,1153.9 255.5,1153.8 256.0,1154.0 256.5,1154.1 257.0,1154.0 257.5,1154.1 258.0,1154.4 258.5,1153.9 259.0,1153.6 259.5,1153.4 260.0,1153.5 260.5,1152.8 261.0,1153.7 261.5,1153.9 262.0,1153.0 262.5,1154.2 263.0,1153.4 263.5,1154.1 264.0,1153.6 264.5,1154.6 265.0,1153.4 265.5,1153.8 266.0,1154.2 266.5,1153.1 267.0,1153.5 267.5,1153.8 268.0,1154.1 268.5,1153.8 269.0,1153.8 269.5,1153.5 270.0,1153.5 270.5,1154.0 271.0,1154.0 271.5,1154.0 272.0,1154.3 272.5,1154.0 273.0,1153.8 273.5,1153.5 274.0,1153.2 274.5,1154.1 275.0,1153.5 275.5,1153.9 276.0,1153.0 276.5,1153.8 277.0,1153.6 277.5,1154.1 278.0,1154.1 278.5,1153.7 279.0,1153.9 279.5,1153.7 280.0,1154.4 280.5,1153.5 281.0,1154.1 281.5,1153.1 282.0,1153.9 282.5,1153.3 283.0,1154.3 283.5,1153.6 284.0,1154.1 284.5,1154.0 285.0,1153.8 285.5,1153.9 286.0,1153.7 286.5,1153.5 287.0,1153.5 287.5,1153.8 288.0,1154.3 288.5,1154.1 289.0,1153.9 289.5,1154.6 290.0,1153.5 290.5,1153.9 291.0,1153.9 291.5,1153.4 292.0,1153.5 292.5,1153.7 293.0,1154.2 293.5,1153.6 294.0,1153.6 294.5,1154.1 295.0,1153.3 295.5,1153.6 296.0,1154.6 296.5,1153.7 297.0,1154.3 297.5,1153.3 298.0,1153.4 298.5,1154.2 299.0,1154.1 299.5,1153.7 300.0,1153.9 300.5,1153.2 301.0,1153.5 301.5,1153.9 302.0,1153.5 302.5,1154.6 303.0,1153.7 303.5,1153.4 304.0,1153.8 304.5,1154.1 305.0,1153.6 305.5,1153.0 306.0,1153.7 306.5,1154.2 307.0,1153.2 307.5,1154.5 308.0,1153.6 308.5,1154.0 309.0,1153.4 309.5,1154.1 310.0,1153.2 310.5,1153.6 311.0,1154.4 311.5,1154.6 312.0,1153.9 312.5,1153.3 313.0,1153.7 313.5,1153.7 314.0,1153.9 314.5,1153.5 315.0,1153.6 315.5,1153.7 316.0,1154.2 316.5,1153.3 317.0,1153.2 317.5,1154.3 318.0,1152.8 318.5,1153.5 319.0,1154.0 319.5,1154.5 320.0,1153.5 320.5,1153.6 321.0,1154.0 321.5,1154.5 322.0,1153.3 322.5,1154.0 323.0,1154.0 323.5,1152.6 324.0,1152.9 324.5,1153.4 325.0,1153.9 325.5,1153.5 326.0,1154.7 326.5,1153.7 327.0,1154.1 327.5,1154.3 328.0,1154.4 328.5,1153.5 329.0,1153.7 329.5,1153.7 330.0,1153.4 330.5,1154.1 331.0,1154.2 331.5,1154.5 332.0,1153.9 332.5,1153.5 333.0,1153.8 333.5,1153.5 334.0,1154.2 334.5,1153.9 335.0,1154.1 335.5,1154.3 336.0,1153.0 336.5,1153.4 337.0,1154.1 337.5,1154.1 338.0,1153.8 338.5,1154.3 339.0,1153.6 339.5,1154.3 340.0,1153.9 340.5,1154.2 341.0,1153.9 341.5,1154.3 342.0,1154.4 342.5,1154.1 343.0,1154.0 343.5,1153.9 344.0,1153.7 344.5,1153.2 345.0,1153.4 345.5,1153.8 346.0,1153.4 346.5,1154.0 347.0,1153.2 347.5,1153.5 348.0,1154.3 348.5,1153.5 349.0,1153.4 349.5,1154.8 350.0,1154.0 350.5,1153.9 351.0,1154.5 351.5,1154.2 352.0,1154.1 352.5,1153.5 353.0,1153.6 353.5,1152.7 354.0,1153.9 354.5,1153.3 355.0,1153.7 355.5,1153.6 356.0,1154.2 356.5,1154.5 357.0,1154.0 357.5,1153.4 358.0,1153.1 358.5,1153.5 359.0,1153.5 359.5,1154.1 360.0,1153.1 360.5,1153.2 361.0,1154.0 361.5,1153.7 362.0,1154.1 362.5,1153.1 363.0,1153.6 363.5,1153.7 364.0,1153.5 364.5,1153.6 365.0,1153.9 365.5,1154.2 366.0,1154.2 366.5,1154.4 367.0,1153.5 367.5,1152.8 368.0,1154.4 368.5,1153.7 369.0,1153.5 369.5,1154.1 370.0,1153.6 370.5,1154.1 371.0,1153.2 371.5,1153.9 372.0,1153.7 372.5,1153.4 373.0,1153.9 373.5,1154.4 374.0,1153.9 374.5,1153.4 375.0,1153.7 375.5,1153.6 376.0,1154.2 376.5,1153.6 377.0,1153.4 377.5,1153.7 378.0,1152.9 378.5,1153.8 379.0,1154.1 379.5,1154.3 380.0,1153.2 380.5,1153.7 381.0,1153.3 381.5,1153.4 382.0,1153.0 382.5,1153.1 383.0,1153.8 383.5,1153.5 384.0,1153.2 384.5,1154.1 385.0,1153.0 385.5,1153.1 386.0,1153.2 386.5,1153.7 387.0,1153.5 387.5,1154.0 388.0,1153.6 388.5,1153.8 389.0,1153.5 389.5,1153.7 390.0,1153.4 390.5,1153.0 391.0,1154.0 391.5,1153.1 392.0,1154.2 392.5,1154.3 393.0,1153.4 393.5,1153.3 394.0,1153.1 394.5,1153.9 395.0,1153.3 395.5,1153.1 396.0,1152.6 396.5,1153.0 397.0,1152.7 397.5,1153.2 398.0,1152.7 398.5,1152.6 399.0,1152.1 399.5,1152.3 400.0,1152.1 400.5,1151.2 401.0,1150.0 401.5,1150.0 402.0,1148.7 402.5,1147.8 403.0,1144.8 403.5,1140.8 404.0,1133.3 404.5,1122.4 405.0,1108.6 405.3,1103.6 405.5,1103.6 406.0,1109.5 406.5,1114.5 407.0,1121.1 407.5,1132.4 408.0,1138.9 408.5,1144.4 409.0,1147.6 409.5,1148.6 410.0,1149.8 410.5,1151.0 411.0,1152.1 411.5,1151.7 412.0,1151.9 412.5,1153.3 413.0,1152.3 413.5,1152.5 414.0,1153.0 414.5,1152.9 415.0,1153.0 415.5,1153.4 416.0,1153.3 416.5,1152.6 417.0,1153.8 417.5,1153.2 418.0,1153.2 418.5,1153.6 419.0,1153.6 419.5,1154.0 420.0,1153.8 420.5,1153.4 421.0,1153.3 421.5,1153.8 422.0,1152.3 422.5,1153.7 423.0,1153.4 423.5,1153.7 424.0,1153.7 424.5,1153.1 425.0,1153.8 425.5,1153.1 426.0,1153.2 426.5,1154.0 427.0,1153.2 427.5,1153.8 428.0,1152.5 428.5,1153.8 429.0,1154.0 429.5,1154.4 430.0,1154.1 430.5,1153.9 431.0,1154.0 431.5,1154.1 432.0,1154.0 432.5,1153.7 433.0,1153.1 433.5,1154.4 434.0,1153.9 434.5,1154.0 435.0,1154.3 435.5,1154.2 436.0,1154.0 436.5,1153.4 437.0,1153.7 437.5,1153.9 438.0,1153.4 438.5,1153.6 439.0,1153.8 439.5,1153.5 440.0,1154.0 440.5,1153.4 441.0,1153.5 441.5,1153.8 442.0,1154.2 442.5,1153.1 443.0,1153.6 443.5,1152.5 444.0,1154.0 444.5,1153.3 445.0,1153.9 445.5,1153.6 446.0,1153.4 446.5,1154.0 447.0,1153.8 447.5,1153.6 448.0,1153.7 448.5,1153.4 449.0,1153.3 449.5,1153.3 450.0,1153.6 450.5,1153.8 451.0,1154.1 451.5,1154.0 452.0,1153.9 452.5,1153.4 453.0,1153.8 453.5,1154.2 454.0,1153.5 454.5,1154.0 455.0,1154.0 455.5,1153.8 456.0,1153.5 456.5,1154.7 457.0,1154.2 457.5,1153.7 458.0,1153.8 458.5,1154.1 459.0,1153.9 459.5,1153.1 460.0,1153.9 460.5,1153.4 461.0,1153.4 461.5,1153.9 462.0,1153.5 462.5,1153.9 463.0,1153.9 463.5,1154.1 464.0,1153.4 464.5,1153.9 465.0,1153.9 465.5,1154.1 466.0,1153.0 466.5,1153.4 467.0,1153.7 467.5,1154.0 468.0,1154.3 468.5,1153.6 469.0,1153.6 469.5,1154.2 470.0,1153.2 470.5,1153.4 471.0,1154.1 471.5,1153.9 472.0,1153.8 472.5,1153.6 473.0,1153.7 473.5,1154.4 474.0,1153.1 474.5,1153.6 475.0,1153.2 475.5,1153.2 476.0,1153.8 476.5,1153.5 477.0,1153.4 477.5,1153.4 478.0,1153.8 478.5,1153.9 479.0,1153.7 479.5,1154.0 480.0,1153.9 480.5,1154.5 481.0,1153.6 481.5,1154.1 482.0,1153.9 482.5,1153.7 483.0,1153.6 483.5,1152.9 484.0,1153.6 484.5,1154.2 485.0,1153.7 485.5,1153.9 486.0,1153.5 486.5,1153.9 487.0,1154.0 487.5,1153.8 488.0,1153.9 488.5,1154.4 489.0,1153.9 489.5,1153.7 490.0,1153.2 490.5,1153.8 491.0,1153.8 491.5,1153.5 492.0,1153.5 492.5,1153.0 493.0,1153.4 493.5,1153.7 494.0,1153.2 494.5,1153.0 495.0,1153.9 495.5,1153.6 496.0,1154.3 496.5,1153.8 497.0,1154.0 497.5,1153.8 498.0,1153.8 498.5,1153.8 499.0,1153.7 499.5,1153.4 500.0,1153.6 500.5,1153.9 501.0,1154.2 501.5,1153.2 502.0,1153.1 502.5,1153.8 503.0,1153.4 503.5,1154.2 504.0,1154.3 504.5,1153.8 505.0,1153.1 505.5,1154.0 506.0,1153.9 506.5,1153.0 507.0,1154.4 507.5,1153.4 508.0,1153.4 508.5,1153.7 509.0,1153.6 509.5,1152.6 510.0,1154.1 510.5,1153.7 511.0,1153.7 511.5,1153.9 512.0,1154.2 512.5,1153.0 513.0,1153.5 513.5,1154.3 514.0,1153.8 514.5,1153.5 515.0,1153.5 515.5,1154.2 516.0,1153.7 516.5,1153.5 517.0,1153.5 517.5,1153.4 518.0,1154.3 518.5,1152.9 519.0,1153.6 519.5,1152.9 520.0,1152.4 520.5,1153.6 521.0,1154.1 521.5,1153.1 522.0,1153.6 522.5,1153.7 523.0,1154.0 523.5,1152.8 524.0,1153.8 524.5,1154.1 525.0,1153.7 525.5,1154.0 526.0,1153.5 526.5,1153.7 527.0,1153.9 527.5,1153.2 528.0,1153.8 528.5,1153.2 529.0,1153.0 529.5,1153.6 530.0,1153.7 530.5,1153.4 531.0,1153.1 531.5,1153.5 532.0,1153.5 532.5,1153.5 533.0,1153.4 533.5,1153.2 534.0,1153.7 534.5,1153.7 535.0,1153.4 535.5,1153.7 536.0,1153.4 536.5,1153.3 537.0,1153.5 537.5,1153.7 538.0,1153.7 538.5,1152.8 539.0,1153.1 539.5,1153.9 540.0,1153.8 540.5,1152.6 541.0,1152.8 541.5,1153.3 542.0,1152.9 542.5,1154.0 543.0,1153.3 543.5,1153.1 544.0,1154.1 544.5,1153.7 545.0,1153.0 545.5,1152.9 546.0,1153.5 546.5,1153.2 547.0,1152.7 547.5,1153.4 548.0,1153.8 548.5,1153.2 549.0,1153.4 549.5,1152.7 550.0,1153.2 550.5,1153.6 551.0,1152.2 551.5,1153.3 552.0,1153.0 552.5,1152.8 553.0,1152.8 553.5,1153.0 554.0,1152.8 554.5,1153.1 555.0,1153.6 555.5,1153.2 556.0,1153.0 556.5,1153.1 557.0,1153.0 557.5,1153.2 558.0,1152.4 558.5,1152.3 559.0,1153.7 559.5,1152.9 560.0,1153.2 560.5,1153.9 561.0,1152.6 561.5,1152.9 562.0,1152.9 562.5,1152.9 563.0,1152.1 563.5,1152.1 564.0,1152.3 564.5,1152.2 565.0,1152.5 565.5,1152.3 566.0,1152.5 566.5,1152.1 567.0,1152.4 567.5,1152.0 568.0,1151.8 568.5,1151.8 569.0,1151.4 569.5,1150.7 570.0,1152.7 570.5,1151.4 571.0,1151.6 571.5,1151.3 572.0,1151.8 572.5,1151.0 573.0,1151.1 573.5,1150.8 574.0,1150.6 574.5,1150.3 575.0,1150.9 575.5,1149.2 576.0,1149.5 576.5,1149.7 577.0,1148.5 577.5,1148.8 578.0,1148.6 578.5,1146.8 579.0,1147.4 579.5,1146.0 580.0,1144.9 580.5,1143.3 581.0,1142.2 581.5,1141.1 582.0,1139.9 582.5,1137.3 583.0,1133.3 583.5,1130.3 584.0,1125.4 584.5,1120.5 585.0,1111.0 585.5,1098.0 586.0,1078.6 586.5,1046.3 587.0,994.4 587.5,914.1 588.0,808.6 588.5,741.3 589.0,766.2 589.5,823.2 590.0,850.6 590.5,880.8 591.0,941.6 591.5,1005.6 592.0,1053.1 592.5,1082.8 593.0,1100.5 593.5,1113.0 594.0,1121.3 594.5,1127.2 595.0,1132.7 595.5,1135.8 596.0,1137.2 596.5,1140.0 597.0,1140.9 597.5,1142.7 598.0,1143.4 598.5,1144.3 599.0,1145.1 599.5,1146.7 600.0,1146.9 600.5,1147.3 601.0,1147.0 601.5,1147.9 602.0,1147.9 602.5,1147.7 603.0,1147.1 603.5,1148.1 604.0,1147.7 604.5,1146.5 605.0,1147.4 605.5,1146.3 606.0,1146.3 606.3,1146.2 606.5,1146.3 607.0,1146.5 607.5,1146.1 608.0,1146.7 608.5,1146.6 609.0,1147.5 609.5,1148.0 610.0,1149.2 610.5,1149.2 611.0,1149.3 611.5,1150.9 612.0,1149.9 612.5,1150.8 613.0,1150.7 613.5,1150.9 614.0,1150.7 614.5,1151.0 615.0,1151.4 615.5,1151.0 616.0,1151.4 616.5,1151.6 617.0,1151.4 617.5,1151.2 618.0,1151.5 618.5,1151.8 619.0,1152.1 619.5,1151.6 620.0,1152.4 620.5,1151.5 621.0,1151.9 621.5,1151.1 622.0,1150.3 622.5,1151.7 623.0,1151.1 623.5,1151.6 624.0,1151.8 624.5,1151.8 625.0,1151.3 625.5,1151.0 626.0,1151.2 626.5,1152.0 627.0,1151.5 627.5,1151.3 628.0,1150.5 628.5,1150.9 629.0,1150.8 629.5,1150.3 630.0,1151.0 630.5,1150.7 631.0,1150.6 631.5,1151.1 632.0,1150.0 632.5,1149.7 633.0,1149.5 633.5,1149.9 634.0,1149.6 634.5,1148.7 635.0,1148.8 635.5,1147.9 636.0,1148.5 636.5,1147.4 637.0,1147.0 637.5,1146.2 638.0,1145.9 638.5,1145.0 639.0,1143.6 639.5,1143.1 640.0,1142.9 640.5,1140.1 641.0,1138.9 641.5,1137.1 642.0,1134.6 642.5,1131.3 643.0,1127.1 643.5,1122.2 644.0,1115.8 644.5,1105.7 645.0,1091.9 645.5,1071.8 646.0,1042.1 646.5,989.3 647.0,908.7 647.5,797.1 648.0,692.9 648.2,673.4 648.5,684.7 649.0,749.5 649.5,798.1 650.0,819.1 650.5,857.6 651.0,927.5 651.5,995.5 652.0,1044.5 652.5,1074.9 653.0,1094.8 653.5,1108.1 654.0,1117.2 654.5,1124.2 655.0,1128.5 655.5,1132.5 656.0,1135.2 656.5,1138.3 657.0,1140.5 657.5,1141.2 658.0,1142.7 658.5,1143.0 659.0,1144.3 659.5,1145.1 660.0,1146.0 660.5,1146.3 661.0,1147.3 661.5,1147.4 662.0,1148.1 662.5,1147.6 663.0,1149.1 663.5,1149.9 664.0,1148.9 664.5,1150.1 665.0,1150.1 665.5,1150.3 666.0,1150.9 666.5,1150.0 667.0,1150.7 667.5,1151.1 668.0,1151.1 668.5,1151.5 669.0,1150.9 669.5,1151.6 670.0,1151.8 670.5,1151.9 671.0,1151.9 671.5,1151.5 672.0,1152.2 672.5,1151.9 673.0,1151.8 673.5,1151.0 674.0,1151.7 674.5,1153.3 675.0,1152.3 675.5,1152.4 676.0,1152.1 676.5,1151.6 677.0,1152.2 677.5,1153.2 678.0,1152.3 678.5,1152.4 679.0,1152.3 679.5,1152.0 680.0,1152.9 680.5,1152.2 681.0,1153.3 681.5,1152.6 682.0,1152.3 682.5,1151.7 683.0,1152.9 683.5,1153.4 684.0,1152.4 684.5,1152.9 685.0,1152.1 685.5,1153.0 686.0,1153.0 686.5,1152.1 687.0,1152.6 687.5,1152.2 688.0,1153.2 688.5,1152.0 689.0,1152.9 689.5,1152.3 690.0,1153.0 690.5,1153.2 691.0,1152.7 691.5,1152.5 692.0,1151.9 692.5,1152.4 693.0,1152.2 693.5,1152.2 694.0,1151.2 694.5,1152.7 695.0,1151.7 695.5,1152.4 696.0,1152.1 696.5,1152.3 697.0,1151.5 697.5,1152.5 698.0,1152.3 698.5,1151.8 699.0,1151.9 699.5,1151.0 700.0,1150.7 700.5,1151.1 701.0,1150.0 701.5,1150.4 702.0,1150.0 702.5,1149.4 703.0,1148.0 703.5,1147.8 704.0,1147.2 704.5,1145.5 705.0,1143.0 705.5,1141.1 706.0,1136.7 706.5,1130.0 707.0,1120.7 707.5,1104.5 708.0,1080.3 708.5,1059.7 708.8,1053.3 709.0,1053.5 709.5,1064.3 710.0,1076.4 710.5,1083.1 711.0,1087.8 711.5,1097.2 712.0,1111.9 712.5,1125.0 713.0,1133.1 713.5,1138.7 714.0,1142.8 714.5,1145.0 715.0,1146.8 715.5,1148.0 716.0,1148.5 716.5,1149.2 717.0,1149.3 717.5,1150.6 718.0,1150.7 718.5,1150.7 719.0,1151.2 719.5,1152.0 720.0,1152.4 720.5,1151.3 721.0,1151.6 721.5,1152.1 722.0,1152.7 722.5,1151.8 723.0,1152.1 723.5,1152.5 724.0,1152.7 724.5,1153.5 725.0,1152.3 725.5,1153.5 726.0,1152.6 726.5,1152.5 727.0,1152.8 727.5,1152.4 728.0,1153.2 728.5,1152.8 729.0,1152.7 729.5,1153.0 730.0,1153.2 730.5,1152.7 731.0,1153.0 731.5,1153.2 732.0,1153.4 732.5,1153.1 733.0,1152.4 733.5,1153.2 734.0,1153.4 734.5,1153.7 735.0,1153.8 735.5,1154.1 736.0,1153.2 736.5,1153.4 737.0,1153.7 737.5,1154.0 738.0,1153.5 738.5,1153.6 739.0,1153.9 739.5,1153.2 740.0,1153.3 740.5,1153.5 741.0,1153.1 741.5,1153.7 742.0,1152.9 742.5,1153.8 743.0,1153.2 743.5,1153.2 744.0,1153.5 744.5,1153.3 745.0,1154.0 745.5,1154.0 746.0,1153.6 746.5,1153.8 747.0,1153.2 747.5,1153.5 748.0,1153.2 748.5,1153.4 749.0,1153.4 749.5,1153.5 750.0,1153.7 750.5,1153.7 751.0,1152.7 751.5,1154.2 752.0,1153.6 752.5,1153.1 753.0,1153.4 753.5,1153.0 754.0,1153.3 754.5,1154.0 755.0,1153.7 755.5,1154.1 756.0,1153.1 756.5,1153.0 757.0,1153.7 757.5,1153.4 758.0,1153.8 758.5,1154.1 759.0,1153.8 759.5,1154.2 760.0,1153.8 760.5,1153.4 761.0,1153.2 761.5,1153.0 762.0,1153.7 762.5,1153.5 763.0,1153.4 763.5,1153.3 764.0,1154.7 764.5,1153.8 765.0,1153.2 765.5,1154.0 766.0,1153.5 766.5,1153.2 767.0,1154.4 767.5,1153.6 768.0,1153.5 768.5,1153.5 769.0,1154.2 769.5,1153.4 770.0,1153.7 770.5,1153.3 771.0,1153.3 771.5,1153.8 772.0,1153.4 772.5,1153.8 773.0,1153.8 773.5,1154.3 774.0,1153.6 774.5,1153.2 775.0,1153.5 775.5,1153.5 776.0,1153.7 776.5,1153.6 777.0,1153.1 777.5,1154.0 778.0,1152.6 778.5,1153.4 779.0,1152.4 779.5,1152.8 780.0,1153.5 780.5,1152.9 781.0,1153.2 781.5,1153.0 782.0,1152.9 782.5,1153.4 783.0,1153.3 783.5,1153.0 784.0,1153.4 784.5,1152.7 785.0,1152.3 785.5,1152.1 786.0,1151.9 786.5,1151.6 787.0,1150.4 787.5,1150.3 788.0,1148.2 788.5,1145.6 789.0,1141.3 789.5,1137.7 789.9,1136.0 790.0,1136.2 790.5,1137.1 791.0,1140.8 791.5,1141.7 792.0,1142.4 792.5,1142.3 793.0,1144.6 793.5,1147.4 794.0,1149.5 794.5,1151.2 795.0,1151.8 795.5,1151.8 796.0,1152.2 796.5,1153.1 797.0,1152.8 797.5,1153.0 798.0,1152.8 798.5,1152.7 799.0,1153.2 799.5,1153.0 800.0,1153.2 800.5,1154.2 801.0,1153.3 801.5,1153.3 802.0,1153.1 802.5,1154.1 803.0,1153.1 803.5,1153.7 804.0,1153.4 804.5,1152.9 805.0,1154.0 805.5,1154.0 806.0,1153.0 806.5,1154.0 807.0,1153.8 807.5,1153.3 808.0,1153.6 808.5,1153.2 809.0,1153.4 809.5,1153.4 810.0,1153.2 810.5,1152.7 811.0,1153.5 811.5,1152.9 812.0,1153.0 812.5,1153.5 813.0,1153.2 813.5,1153.8 814.0,1153.8 814.5,1153.3 815.0,1153.5 815.5,1152.9 816.0,1154.0 816.5,1153.5 817.0,1153.7 817.5,1153.5 818.0,1152.9 818.5,1153.9 819.0,1153.0 819.5,1153.6 820.0,1153.5 820.5,1153.0 821.0,1153.4 821.5,1153.0 822.0,1153.2 822.5,1153.3 823.0,1153.2 823.5,1153.9 824.0,1153.4 824.5,1153.0 825.0,1152.8 825.5,1153.5 826.0,1152.5 826.5,1152.6 827.0,1153.3 827.5,1153.1 828.0,1152.3 828.5,1153.1 829.0,1152.7 829.5,1152.2 830.0,1152.1 830.5,1151.9 831.0,1151.3 831.5,1151.5 832.0,1151.0 832.5,1149.5 833.0,1150.4 833.5,1149.1 834.0,1147.8 834.5,1146.7 835.0,1143.3 835.5,1141.1 836.0,1135.8 836.5,1129.9 837.0,1117.4 837.5,1104.3 838.0,1095.5 838.1,1095.7 838.5,1096.6 839.0,1104.9 839.5,1111.3 840.0,1114.7 840.5,1116.0 841.0,1119.4 841.5,1126.8 842.0,1134.1 842.5,1139.9 843.0,1143.5 843.5,1145.5 844.0,1147.4 844.5,1148.9 845.0,1149.0 845.5,1150.8 846.0,1150.9 846.5,1151.2 847.0,1151.2 847.5,1151.5 848.0,1151.7 848.5,1151.7 849.0,1152.0 849.5,1151.9 850.0,1152.9 850.5,1153.3 851.0,1152.9 851.5,1152.6 852.0,1152.7 852.5,1152.7 853.0,1152.7 853.5,1152.8 854.0,1152.8 854.5,1153.5 855.0,1152.7 855.5,1153.6 856.0,1153.2 856.5,1153.8 857.0,1153.1 857.5,1153.9 858.0,1152.7 858.5,1153.9 859.0,1153.4 859.5,1153.4 860.0,1153.8 860.5,1153.0 861.0,1153.6 861.5,1152.9 862.0,1153.9 862.5,1153.8 863.0,1154.3 863.5,1153.3 864.0,1153.1 864.5,1153.4 865.0,1153.6 865.5,1153.9 866.0,1152.6 866.5,1153.2 867.0,1154.3 867.5,1153.7 868.0,1154.6 868.5,1152.9 869.0,1152.7 869.5,1153.0 870.0,1153.6 870.5,1153.8 871.0,1154.1 871.5,1153.4 872.0,1153.9 872.5,1153.7 873.0,1153.8 873.5,1153.7 874.0,1153.2 874.5,1153.0 875.0,1153.6 875.5,1153.6 876.0,1154.0 876.5,1154.1 877.0,1154.0 877.5,1153.3 878.0,1153.5 878.5,1153.3 879.0,1153.4 879.5,1153.8 880.0,1154.2 880.5,1153.8 881.0,1154.2 881.5,1152.8 882.0,1153.5 882.5,1153.8 883.0,1152.8 883.5,1153.8 884.0,1153.4 884.5,1153.7 885.0,1153.5 885.5,1153.8 886.0,1153.5 886.5,1153.1 887.0,1154.1 887.5,1154.5 888.0,1153.1 888.5,1153.6 889.0,1153.3 889.5,1153.7 890.0,1153.0 890.5,1152.9 891.0,1154.1 891.5,1153.4 892.0,1153.9 892.5,1154.3 893.0,1153.8 893.5,1153.4 894.0,1154.2 894.5,1154.2 895.0,1153.2 895.5,1153.6 896.0,1153.5 896.5,1154.1 897.0,1153.9 897.5,1153.6 898.0,1153.6 898.5,1153.6 899.0,1153.0 899.5,1153.6 900.0,1154.3 900.5,1154.0 901.0,1153.7 901.5,1153.1 902.0,1153.9 902.5,1153.8 903.0,1153.7 903.5,1153.9 904.0,1154.0 904.5,1153.7 905.0,1153.3 905.5,1153.5 906.0,1153.8 906.5,1153.5 907.0,1154.2 907.5,1153.2 908.0,1153.3 908.5,1153.5 909.0,1154.3 909.5,1152.8 910.0,1154.9 910.5,1154.1 911.0,1154.0 911.5,1153.3 912.0,1154.3 912.5,1153.6 913.0,1153.7 913.5,1153.7 914.0,1153.3 914.5,1153.1 915.0,1153.4 915.5,1153.7 916.0,1154.5 916.5,1153.0 917.0,1153.7 917.5,1154.4 918.0,1153.6 918.5,1153.0 919.0,1153.6 919.5,1154.0 920.0,1152.7 920.5,1153.3 921.0,1153.4 921.5,1153.1 922.0,1154.4 922.5,1153.6 923.0,1153.6 923.5,1152.6 924.0,1153.7 924.5,1153.7 925.0,1154.1 925.5,1153.8 926.0,1153.5 926.5,1153.4 927.0,1153.5 927.5,1152.6 928.0,1153.2 928.5,1153.2 929.0,1152.8 929.5,1153.0 930.0,1153.5 930.5,1153.9 931.0,1153.2 931.5,1153.6 932.0,1152.7 932.5,1153.5 933.0,1154.0 933.5,1153.0 934.0,1152.7 934.5,1153.1 935.0,1152.9 935.5,1152.8 936.0,1152.1 936.5,1152.6 937.0,1152.5 937.5,1152.8 938.0,1153.0 938.5,1151.5 939.0,1151.6 939.5,1152.1 940.0,1151.2 940.5,1150.9 941.0,1150.9 941.5,1150.4 942.0,1149.4 942.5,1149.4 943.0,1148.8 943.5,1148.0 944.0,1147.2 944.5,1146.4 945.0,1146.2 945.3,1145.8 945.5,1146.2 946.0,1145.8 946.5,1146.0 947.0,1145.5 947.5,1147.3 948.0,1146.6 948.5,1146.9 949.0,1148.1 949.5,1148.7 950.0,1149.4 950.5,1149.8 951.0,1150.8 951.5,1150.7 952.0,1151.0 952.5,1151.8 953.0,1151.5 953.5,1152.1 954.0,1151.9 954.5,1151.9 955.0,1152.3 955.5,1153.0 956.0,1152.4 956.5,1153.4 957.0,1153.1 957.5,1152.2 958.0,1152.8 958.5,1152.2 959.0,1153.2 959.5,1153.1 960.0,1153.5 960.5,1152.7 961.0,1153.2 961.5,1153.0 962.0,1153.1 962.5,1153.0 963.0,1153.0 963.5,1153.2 964.0,1153.1 964.5,1153.6 965.0,1154.1 965.5,1153.1 966.0,1152.3 966.5,1152.9 967.0,1152.3 967.5,1153.2 968.0,1153.6 968.5,1153.7 969.0,1153.0 969.5,1153.1 970.0,1153.4 970.5,1153.0 971.0,1153.6 971.5,1153.1 972.0,1153.3 972.5,1153.2 973.0,1152.8 973.5,1153.3 974.0,1152.8 974.5,1152.8 975.0,1153.5 975.5,1152.3 976.0,1153.7 976.5,1153.2 977.0,1152.9 977.5,1154.1 978.0,1152.7 978.5,1152.7 979.0,1153.1 979.5,1153.0 980.0,1153.0 980.5,1153.1 981.0,1152.6 981.5,1153.2 982.0,1152.9 982.5,1152.7 983.0,1152.6 983.5,1152.4 984.0,1153.4 984.5,1153.6 985.0,1152.8 985.5,1152.6 986.0,1153.0 986.5,1152.4 987.0,1152.3 987.5,1152.3 988.0,1151.7 988.5,1152.7 989.0,1152.1 989.5,1151.3 990.0,1151.6 990.5,1152.3 991.0,1151.6 991.5,1150.9 992.0,1150.5 992.5,1150.6 993.0,1150.4 993.5,1150.8 994.0,1150.1 994.5,1149.0 995.0,1149.4 995.5,1148.4 996.0,1148.3 996.5,1145.6 997.0,1145.0 997.5,1142.7 998.0,1141.3 998.5,1137.9 999.0,1131.7 999.5,1125.3 1000.0,1113.9 1000.5,1098.6 1001.0,1079.2 1001.5,1063.3 1001.8,1057.7 1002.0,1056.3 1002.5,1068.9 1003.0,1083.2 1003.5,1091.6 1004.0,1093.0 1004.5,1092.5 1005.0,1095.6 1005.5,1104.4 1006.0,1116.2 1006.5,1126.1 1007.0,1133.0 1007.5,1138.5 1008.0,1141.6 1008.5,1143.5 1009.0,1145.8 1009.5,1146.5 1010.0,1148.6 1010.5,1148.2 1011.0,1150.2 1011.5,1149.6 1012.0,1150.6 1012.5,1150.4 1013.0,1150.5 1013.5,1151.8 1014.0,1151.0 1014.5,1151.6 1015.0,1152.1 1015.5,1151.7 1016.0,1152.3 1016.5,1151.9 1017.0,1152.5 1017.5,1152.0 1018.0,1152.3 1018.5,1152.2 1019.0,1152.7 1019.5,1151.9 1020.0,1151.8 1020.5,1152.7 1021.0,1152.9 1021.5,1153.0 1022.0,1152.6 1022.5,1152.5 1023.0,1153.2 1023.5,1153.8 1024.0,1152.7 1024.5,1153.1 1025.0,1152.9 1025.5,1152.8 1026.0,1153.5 1026.5,1153.1 1027.0,1153.3 1027.5,1153.0 1028.0,1152.6 1028.5,1153.2 1029.0,1153.5 1029.5,1152.7 1030.0,1152.9 1030.5,1153.3 1031.0,1154.0 1031.5,1153.6 1032.0,1153.2 1032.5,1153.0 1033.0,1153.4 1033.5,1153.1 1034.0,1153.5 1034.5,1153.3 1035.0,1153.2 1035.5,1153.3 1036.0,1153.2 1036.5,1152.9 1037.0,1152.9 1037.5,1153.5 1038.0,1153.3 1038.5,1153.8 1039.0,1153.8 1039.5,1153.1 1040.0,1153.5 1040.5,1154.0 1041.0,1153.1 1041.5,1153.6 1042.0,1153.3 1042.5,1153.1 1043.0,1153.1 1043.5,1153.3 1044.0,1154.1 1044.5,1153.0 1045.0,1153.5 1045.5,1153.8 1046.0,1154.2 1046.5,1152.7 1047.0,1153.2 1047.5,1153.1 1048.0,1152.9 1048.5,1153.2 1049.0,1153.8 1049.5,1152.9 1050.0,1152.8 1050.5,1153.0 1051.0,1152.5 1051.5,1152.4 1052.0,1153.4 1052.5,1153.3 1053.0,1152.8 1053.5,1153.0 1054.0,1153.0 1054.5,1152.7 1055.0,1152.8 1055.5,1153.2 1056.0,1153.1 1056.5,1153.3 1057.0,1153.1 1057.5,1153.4 1058.0,1153.8 1058.5,1153.3 1059.0,1153.3 1059.5,1152.5 1060.0,1152.3 1060.5,1152.9 1061.0,1152.7 1061.5,1153.0 1062.0,1153.1 1062.5,1153.0 1063.0,1152.9 1063.5,1152.5 1064.0,1152.7 1064.5,1152.0 1065.0,1152.7 1065.5,1153.2 1066.0,1152.5 1066.5,1152.7 1067.0,1152.4 1067.5,1151.9 1068.0,1152.6 1068.5,1152.3 1069.0,1152.1 1069.5,1152.6 1070.0,1152.0 1070.5,1151.9 1071.0,1151.7 1071.5,1151.5 1072.0,1151.8 1072.5,1151.5 1073.0,1152.3 1073.5,1152.7 1074.0,1151.9 1074.5,1150.8 1075.0,1151.1 1075.5,1151.9 1076.0,1151.1 1076.5,1150.6 1077.0,1151.2 1077.5,1150.1 1078.0,1150.6 1078.5,1149.3 1079.0,1149.4 1079.5,1147.9 1080.0,1149.6 1080.5,1148.3 1081.0,1148.6 1081.5,1146.8 1082.0,1146.9 1082.5,1146.0 1083.0,1145.3 1083.5,1145.3 1084.0,1143.7 1084.5,1142.7 1085.0,1141.4 1085.5,1139.1 1086.0,1136.6 1086.5,1133.6 1087.0,1131.0 1087.5,1127.4 1088.0,1121.1 1088.5,1114.4 1089.0,1103.8 1089.5,1087.9 1090.0,1065.7 1090.5,1032.7 1091.0,988.2 1091.5,933.3 1092.0,888.0 1092.3,875.2 1092.5,878.0 1093.0,907.6 1093.5,946.5 1094.0,975.3 1094.5,985.3 1095.0,981.1 1095.5,979.7 1096.0,995.4 1096.5,1025.0 1097.0,1056.2 1097.5,1080.2 1098.0,1097.7 1098.5,1111.3 1099.0,1119.4 1099.5,1126.2 1100.0,1129.7 1100.5,1134.5 1101.0,1137.5 1101.5,1139.7 1102.0,1142.0 1102.5,1143.2 1103.0,1143.2 1103.5,1145.1 1104.0,1145.1 1104.5,1147.1 1105.0,1147.1 1105.5,1148.1 1106.0,1147.9 1106.5,1148.7 1107.0,1149.1 1107.5,1149.3 1108.0,1148.7 1108.5,1149.6 1109.0,1149.8 1109.5,1150.9 1110.0,1150.9 1110.5,1150.5 1111.0,1151.7 1111.5,1150.6 1112.0,1151.0 1112.5,1151.3 1113.0,1151.5 1113.5,1151.6 1114.0,1151.7 1114.5,1151.1 1115.0,1151.6 1115.5,1151.5 1116.0,1152.2 1116.5,1152.5 1117.0,1151.6 1117.5,1152.6 1118.0,1152.5 1118.5,1152.0 1119.0,1151.7 1119.5,1153.0 1120.0,1152.5 1120.5,1152.5 1121.0,1152.7 1121.5,1153.0 1122.0,1152.4 1122.5,1152.8 1123.0,1152.8 1123.5,1153.6 1124.0,1152.9 1124.5,1153.5 1125.0,1152.5 1125.5,1152.6 1126.0,1153.1 1126.5,1152.8 1127.0,1152.9 1127.5,1153.0 1128.0,1152.8 1128.5,1153.0 1129.0,1153.2 1129.5,1153.4 1130.0,1152.3 1130.5,1153.0 1131.0,1153.1 1131.5,1152.9 1132.0,1153.4 1132.5,1153.2 1133.0,1152.7 1133.5,1152.7 1134.0,1152.9 1134.5,1153.8 1135.0,1153.1 1135.5,1153.1 1136.0,1153.0 1136.5,1153.5 1137.0,1153.6 1137.5,1153.2 1138.0,1153.4 1138.5,1153.5 1139.0,1153.1 1139.5,1152.8 1140.0,1153.0 1140.5,1152.7 1141.0,1153.6 1141.5,1152.8 1142.0,1153.1 1142.5,1153.3 1143.0,1153.1 1143.5,1153.1 1144.0,1152.8 1144.5,1153.0 1145.0,1152.1 1145.5,1152.5 1146.0,1152.8 1146.5,1152.0 1147.0,1151.1 1147.5,1150.9 1148.0,1149.3 1148.5,1148.4 1149.0,1147.1 1149.5,1144.4 1149.8,1145.3 1150.0,1145.1 1150.5,1145.6 1151.0,1146.9 1151.5,1148.1 1152.0,1148.6 1152.5,1147.9 1153.0,1148.2 1153.5,1148.6 1154.0,1149.0 1154.5,1150.2 1155.0,1151.6 1155.5,1151.4 1156.0,1151.7 1156.5,1152.2 1157.0,1153.2 1157.5,1152.5 1158.0,1152.1 1158.5,1153.5 1159.0,1154.2 1159.5,1153.2 1160.0,1153.2 1160.5,1152.9 1161.0,1152.9 1161.5,1153.2 1162.0,1153.1 1162.5,1153.2 1163.0,1153.3 1163.5,1153.3 1164.0,1153.5 1164.5,1153.1 1165.0,1153.2 1165.5,1153.6 1166.0,1153.0 1166.5,1153.7 1167.0,1153.5 1167.5,1153.4 1168.0,1154.2 1168.5,1153.7 1169.0,1153.2 1169.5,1153.2 1170.0,1154.0 1170.5,1153.9 1171.0,1153.9 1171.5,1153.6 1172.0,1153.6 1172.5,1154.2 1173.0,1153.4 1173.5,1153.5 1174.0,1153.6 1174.5,1153.8 1175.0,1153.7 1175.5,1154.2 1176.0,1153.5 1176.5,1153.4 1177.0,1153.6 1177.5,1154.0 1178.0,1153.1 1178.5,1153.2 1179.0,1154.2 1179.5,1153.4 1180.0,1153.5 1180.5,1154.6 1181.0,1153.4 1181.5,1153.3 1182.0,1153.3 1182.5,1153.5 1183.0,1153.8 1183.5,1153.8 1184.0,1153.3 1184.5,1153.1 1185.0,1153.7 1185.5,1153.7 1186.0,1153.3 1186.5,1154.4 1187.0,1153.4 1187.5,1153.6 1188.0,1154.4 1188.5,1153.3 1189.0,1153.9 1189.5,1153.3 1190.0,1153.0 1190.5,1154.1 1191.0,1154.0 1191.5,1153.6 1192.0,1154.3 1192.5,1153.3 1193.0,1153.5 1193.5,1153.2 1194.0,1154.3 1194.5,1153.5 1195.0,1153.3 1195.5,1154.3 1196.0,1153.2 1196.5,1154.1 1197.0,1153.5 1197.5,1154.1 1198.0,1153.4 1198.5,1152.9 1199.0,1153.6 1199.5,1153.6 1200.0,1153.1 1200.5,1153.8 1201.0,1153.6 1201.5,1153.3 1202.0,1153.4 1202.5,1153.0 1203.0,1153.2 1203.5,1152.8 1204.0,1153.6 1204.5,1153.1 1205.0,1153.9 1205.5,1153.3 1206.0,1152.9 1206.5,1152.7 1207.0,1154.1 1207.5,1153.6 1208.0,1153.3 1208.5,1153.9 1209.0,1153.3 1209.5,1153.4 1210.0,1153.8 1210.5,1153.8 1211.0,1153.9 1211.5,1153.4 1212.0,1153.1 1212.5,1153.4 1213.0,1152.5 1213.5,1154.2 1214.0,1153.8 1214.5,1153.3 1215.0,1154.0 1215.5,1153.5 1216.0,1153.3 1216.5,1153.5 1217.0,1153.6 1217.5,1153.2 1218.0,1153.4 1218.5,1153.3 1219.0,1153.3 1219.5,1153.8 1220.0,1154.0 1220.5,1153.7 1221.0,1153.5 1221.5,1153.6 1222.0,1153.2 1222.5,1153.5 1223.0,1153.2 1223.5,1153.5 1224.0,1153.8 1224.5,1153.2 1225.0,1153.4 1225.5,1153.9 1226.0,1153.7 1226.5,1152.4 1227.0,1154.8 1227.5,1153.1 1228.0,1153.5 1228.5,1153.5 1229.0,1153.6 1229.5,1153.7 1230.0,1152.6 1230.5,1153.7 1231.0,1153.6 1231.5,1153.2 1232.0,1153.3 1232.5,1153.6 1233.0,1153.7 1233.5,1154.1 1234.0,1153.1 1234.5,1153.9 1235.0,1154.4 1235.5,1153.1 1236.0,1153.2 1236.5,1153.3 1237.0,1153.7 1237.5,1153.1 1238.0,1153.9 1238.5,1154.3 1239.0,1153.4 1239.5,1153.1 1240.0,1153.2 1240.5,1152.7 1241.0,1153.1 1241.5,1153.6 1242.0,1153.5 1242.5,1153.1 1243.0,1153.5 1243.5,1153.4 1244.0,1154.1 1244.5,1153.5 1245.0,1154.0 1245.5,1153.3 1246.0,1153.4 1246.5,1153.2 1247.0,1152.8 1247.5,1153.5 1248.0,1152.8 1248.5,1153.9 1249.0,1153.2 1249.5,1153.0 1250.0,1152.6 1250.5,1153.8 1251.0,1153.5 1251.5,1153.3 1252.0,1153.4 1252.5,1153.8 1253.0,1153.9 1253.5,1153.8 1254.0,1153.3 1254.5,1153.8 1255.0,1152.6 1255.5,1152.8 1256.0,1154.1 1256.5,1153.4 1257.0,1152.7 1257.5,1152.7 1258.0,1152.8 1258.5,1153.7 1259.0,1153.3 1259.5,1152.6 1260.0,1153.1 1260.5,1153.4 1261.0,1152.9 1261.5,1152.7 1262.0,1153.1 1262.5,1152.9 1263.0,1152.5 1263.5,1153.1 1264.0,1153.3 1264.5,1152.6 1265.0,1153.3 1265.5,1152.7 1266.0,1153.1 1266.5,1152.5 1267.0,1153.4 1267.5,1152.3 1268.0,1152.5 1268.5,1152.8 1269.0,1152.9 1269.5,1152.7 1270.0,1152.8 1270.5,1152.8 1271.0,1152.0 1271.5,1152.0 1272.0,1151.7 1272.5,1152.7 1273.0,1152.9 1273.5,1152.6 1274.0,1151.5 1274.5,1151.5 1275.0,1152.2 1275.5,1150.7 1276.0,1151.2 1276.5,1151.4 1277.0,1150.8 1277.5,1150.4 1278.0,1150.1 1278.5,1149.7 1279.0,1149.6 1279.5,1149.4 1280.0,1148.3 1280.5,1148.1 1281.0,1146.1 1281.5,1145.7 1282.0,1143.2 1282.5,1142.8 1283.0,1139.2 1283.5,1136.9 1284.0,1131.3 1284.5,1124.3 1285.0,1113.3 1285.5,1100.9 1286.0,1084.7 1286.5,1069.0 1287.0,1060.4 1287.5,1066.0 1288.0,1077.7 1288.5,1090.1 1289.0,1098.3 1289.5,1100.9 1290.0,1099.0 1290.5,1097.4 1291.0,1097.7 1291.5,1104.1 1292.0,1113.0 1292.5,1121.6 1293.0,1129.8 1293.5,1134.8 1294.0,1138.9 1294.5,1141.3 1295.0,1143.8 1295.5,1145.8 1296.0,1146.3 1296.5,1147.7 1297.0,1147.9 1297.5,1148.3 1298.0,1149.3 1298.5,1149.4 1299.0,1150.1 1299.5,1151.1 1300.0,1150.8 1300.5,1151.3 1301.0,1150.5 1301.5,1151.2 1302.0,1151.0 1302.5,1151.1 1303.0,1150.6 1303.5,1151.1 1304.0,1151.3 1304.5,1150.9 1305.0,1150.6 1305.5,1151.4 1306.0,1151.0 1306.5,1151.3 1307.0,1151.7 1307.5,1151.8 1308.0,1151.3 1308.5,1151.2 1309.0,1151.2 1309.5,1150.4 1310.0,1151.3 1310.5,1150.8 1311.0,1150.9 1311.5,1150.4 1312.0,1151.0 1312.5,1149.9 1313.0,1150.6 1313.5,1150.3 1314.0,1149.9 1314.5,1150.2 1315.0,1149.5 1315.5,1149.3 1316.0,1149.6 1316.5,1149.1 1317.0,1148.6 1317.5,1147.7 1318.0,1148.2 1318.5,1147.3 1319.0,1147.1 1319.5,1146.1 1320.0,1146.0 1320.5,1144.9 1321.0,1144.0 1321.5,1143.0 1322.0,1141.5 1322.5,1139.1 1323.0,1137.1 1323.5,1135.1 1324.0,1131.9 1324.5,1127.1 1325.0,1120.7 1325.5,1112.4 1326.0,1100.4 1326.5,1083.1 1327.0,1060.5 1327.5,1029.7 1328.0,994.1 1328.5,964.2 1328.9,953.4 1329.0,952.2 1329.5,967.3 1330.0,995.1 1330.5,1020.7 1331.0,1037.4 1331.5,1042.6 1332.0,1039.7 1332.5,1033.9 1333.0,1034.1 1333.5,1044.9 1334.0,1064.5 1334.5,1083.9 1335.0,1100.8 1335.5,1111.4 1336.0,1121.1 1336.5,1128.1 1337.0,1132.5 1337.5,1135.7 1338.0,1138.3 1338.5,1140.5 1339.0,1142.1 1339.5,1143.6 1340.0,1144.2 1340.5,1146.0 1341.0,1147.3 1341.5,1146.8 1342.0,1147.9 1342.5,1147.9 1343.0,1147.8 1343.5,1148.8 1344.0,1148.8 1344.5,1150.3 1345.0,1149.9 1345.5,1150.0 1346.0,1150.0 1346.5,1150.7 1347.0,1150.8 1347.5,1151.2 1348.0,1151.2 1348.5,1151.8 1349.0,1152.0 1349.5,1151.4 1350.0,1151.4 1350.5,1151.7 1351.0,1151.4 1351.5,1151.7 1352.0,1152.4 1352.5,1151.7 1353.0,1151.5 1353.5,1151.8 1354.0,1152.1 1354.5,1152.0 1355.0,1153.0 1355.5,1152.8 1356.0,1152.0 1356.5,1151.9 1357.0,1152.4 1357.5,1152.7 1358.0,1152.7 1358.5,1152.3 1359.0,1151.8 1359.5,1152.4 1360.0,1152.9 1360.5,1152.6 1361.0,1152.6 1361.5,1151.9 1362.0,1152.5 1362.5,1152.8 1363.0,1152.8 1363.5,1153.4 1364.0,1153.4 1364.5,1153.1 1365.0,1153.2 1365.5,1152.9 1366.0,1152.9 1366.5,1152.6 1367.0,1152.4 1367.5,1153.0 1368.0,1153.1 1368.5,1153.8 1369.0,1152.9 1369.5,1152.8 1370.0,1153.4 1370.5,1153.3 1371.0,1153.4 1371.5,1152.6 1372.0,1152.8 1372.5,1152.6 1373.0,1153.7 1373.5,1152.1 1374.0,1153.5 1374.5,1153.5 1375.0,1153.1 1375.5,1153.4 1376.0,1152.4 1376.5,1153.4 1377.0,1153.4 1377.5,1152.8 1378.0,1152.7 1378.5,1153.5 1379.0,1153.4 1379.5,1153.3 1380.0,1153.3 1380.5,1152.4 1381.0,1152.7 1381.5,1152.8 1382.0,1152.6 1382.5,1153.2 1383.0,1152.8 1383.5,1153.2 1384.0,1153.4 1384.5,1152.4 1385.0,1153.8 1385.5,1153.2 1386.0,1153.3 1386.5,1153.7 1387.0,1153.2 1387.5,1153.0 1388.0,1152.8 1388.5,1153.3 1389.0,1152.6 1389.5,1152.7 1390.0,1152.5 1390.5,1153.5 1391.0,1152.9 1391.5,1153.0 1392.0,1152.4 1392.5,1152.8 1393.0,1152.6 1393.5,1152.7 1394.0,1152.8 1394.5,1152.4 1395.0,1151.7 1395.5,1152.1 1396.0,1152.6 1396.5,1151.0 1397.0,1150.8 1397.5,1150.2 1398.0,1149.5 1398.5,1149.2 1399.0,1148.0 1399.5,1146.4 1400.0,1144.5 1400.5,1141.9 1401.0,1137.8 1401.5,1131.9 1402.0,1127.2 1402.5,1123.1 1402.8,1121.8 1403.0,1122.2 1403.5,1124.5 1404.0,1128.8 1404.5,1133.3 1405.0,1136.0 1405.5,1136.6 1406.0,1136.5 1406.5,1134.5 1407.0,1134.4 1407.5,1134.6 1408.0,1137.9 1408.5,1142.1 1409.0,1144.3 1409.5,1146.0 1410.0,1148.9 1410.5,1149.5 1411.0,1149.7 1411.5,1150.2 1412.0,1150.9 1412.5,1151.0 1413.0,1151.8 1413.5,1151.7 1414.0,1152.1 1414.5,1152.6 1415.0,1152.4 1415.5,1152.8 1416.0,1152.6 1416.5,1153.7 1417.0,1152.8 1417.5,1153.2 1418.0,1153.1 1418.5,1152.9 1419.0,1153.2 1419.5,1152.6 1420.0,1152.5 1420.5,1152.8 1421.0,1152.8 1421.5,1153.0 1422.0,1153.1 1422.5,1153.8 1423.0,1153.4 1423.5,1152.8 1424.0,1152.9 1424.5,1153.5 1425.0,1153.3 1425.5,1152.9 1426.0,1153.5 1426.5,1152.8 1427.0,1153.7 1427.5,1153.0 1428.0,1153.2 1428.5,1153.3 1429.0,1153.4 1429.5,1153.3 1430.0,1154.4 1430.5,1153.3 1431.0,1153.0 1431.5,1153.3 1432.0,1153.1 1432.5,1153.9 1433.0,1153.6 1433.5,1153.4 1434.0,1153.6 1434.5,1153.1 1435.0,1153.4 1435.5,1153.7 1436.0,1153.3 1436.5,1153.2 1437.0,1153.8 1437.5,1153.3 1438.0,1153.4 1438.5,1153.4 1439.0,1154.1 1439.5,1153.1 1440.0,1153.3 1440.5,1153.6 1441.0,1153.5 1441.5,1153.4 1442.0,1153.7 1442.5,1153.8 1443.0,1153.5 1443.5,1153.9 1444.0,1153.8 1444.5,1154.1 1445.0,1153.7 1445.5,1153.2 1446.0,1153.5 1446.5,1153.6 1447.0,1153.8 1447.5,1153.8 1448.0,1154.2 1448.5,1153.0 1449.0,1153.9 1449.5,1154.2 1450.0,1153.5 1450.5,1153.5 1451.0,1153.9 1451.5,1154.2 1452.0,1154.2 1452.5,1153.0 1453.0,1153.7 1453.5,1153.9 1454.0,1152.9 1454.5,1153.9 1455.0,1154.1 1455.5,1153.4 1456.0,1153.5 1456.5,1153.0 1457.0,1154.3 1457.5,1153.5 1458.0,1154.3 1458.5,1153.5 1459.0,1153.9 1459.5,1153.8 1460.0,1153.9 1460.5,1153.3 1461.0,1153.0 1461.5,1153.7 1462.0,1153.8 1462.5,1153.9 1463.0,1153.4 1463.5,1154.1 1464.0,1152.3 1464.5,1153.7 1465.0,1153.0 1465.5,1153.6 1466.0,1154.2 1466.5,1154.3 1467.0,1153.8 1467.5,1153.9 1468.0,1153.8 1468.5,1154.1 1469.0,1152.7 1469.5,1152.8 1470.0,1154.4 1470.5,1153.5 1471.0,1153.2 1471.5,1153.8 1472.0,1153.8 1472.5,1153.2 1473.0,1153.5 1473.5,1154.2 1474.0,1153.2 1474.5,1153.9 1475.0,1152.9 1475.5,1154.1 1476.0,1154.6 1476.5,1153.6 1477.0,1153.2 1477.5,1153.5 1478.0,1153.6 1478.5,1154.0 1479.0,1153.3 1479.5,1154.4 1480.0,1153.4 1480.5,1154.2 1481.0,1153.9 1481.5,1154.3 1482.0,1154.1 1482.5,1153.1 1483.0,1154.2 1483.5,1153.6 1484.0,1154.0 1484.5,1153.3 1485.0,1154.2 1485.5,1153.7 1486.0,1153.3 1486.5,1152.8 1487.0,1154.2 1487.5,1154.1 1488.0,1153.7 1488.5,1153.1 1489.0,1154.1 1489.5,1153.4 1490.0,1153.9 1490.5,1154.1 1491.0,1154.3 1491.5,1153.7 1492.0,1153.3 1492.5,1153.7 1493.0,1154.5 1493.5,1153.9 1494.0,1153.3 1494.5,1153.3 1495.0,1153.6 1495.5,1153.0 1496.0,1154.2 1496.5,1154.2 1497.0,1152.7 1497.5,1153.4 1498.0,1153.8 1498.5,1153.9 1499.0,1154.7 1499.5,1153.4 1500.0,1154.5 1500.5,1154.5 1501.0,1153.7 1501.5,1153.1 1502.0,1153.9 1502.5,1153.5 1503.0,1153.8 1503.5,1153.5 1504.0,1154.4 1504.5,1152.8 1505.0,1154.0 1505.5,1153.4 1506.0,1154.5 1506.5,1152.9 1507.0,1153.5 1507.5,1152.8 1508.0,1153.9 1508.5,1153.2 1509.0,1153.8 1509.5,1153.7 1510.0,1153.1 1510.5,1154.0 1511.0,1153.3 1511.5,1152.8 1512.0,1152.9 1512.5,1153.2 1513.0,1153.5 1513.5,1154.0 1514.0,1153.0 1514.5,1153.8 1515.0,1153.0 1515.5,1153.7 1516.0,1153.5 1516.5,1153.5 1517.0,1153.3 1517.5,1153.8 1518.0,1153.5 1518.5,1153.7 1519.0,1153.3 1519.5,1153.3 1520.0,1153.3 1520.5,1153.8 1521.0,1153.2 1521.5,1153.4 1522.0,1153.2 1522.5,1153.3 1523.0,1153.7 1523.5,1153.0 1524.0,1153.6 1524.5,1153.2 1525.0,1154.0 1525.5,1153.0 1526.0,1152.9 1526.5,1153.6 1527.0,1152.8 1527.5,1153.1 1528.0,1152.4 1528.5,1152.8 1529.0,1153.4 1529.5,1152.9 1530.0,1153.4 1530.5,1152.7 1531.0,1152.3 1531.5,1152.1 1532.0,1152.3 1532.5,1152.1 1533.0,1151.8 1533.5,1151.8 1534.0,1151.1 1534.5,1150.4 1535.0,1150.3 1535.5,1149.4 1536.0,1148.9 1536.5,1147.7 1537.0,1145.8 1537.5,1142.4 1538.0,1140.1 1538.5,1135.7 1539.0,1131.8 1539.5,1127.0 1540.0,1125.7 1540.1,1124.5 1540.5,1125.9 1541.0,1128.5 1541.5,1132.5 1542.0,1135.7 1542.5,1137.9 1543.0,1139.1 1543.5,1139.2 1544.0,1137.5 1544.5,1136.2 1545.0,1136.3 1545.5,1138.5 1546.0,1141.1 1546.5,1143.7 1547.0,1145.7 1547.5,1147.3 1548.0,1148.8 1548.5,1149.5 1549.0,1150.9 1549.5,1150.3 1550.0,1151.2 1550.5,1151.0 1551.0,1151.8 1551.5,1152.2 1552.0,1152.2 1552.5,1152.4 1553.0,1152.8 1553.5,1152.8 1554.0,1152.0 1554.5,1152.5 1555.0,1153.1 1555.5,1152.7 1556.0,1153.4 1556.5,1152.5 1557.0,1153.6 1557.5,1152.8 1558.0,1153.2 1558.5,1153.3 1559.0,1153.5 1559.5,1153.5 1560.0,1153.7 1560.5,1153.7 1561.0,1153.2 1561.5,1152.4 1562.0,1153.5 1562.5,1153.0 1563.0,1153.4 1563.5,1153.7 1564.0,1152.9 1564.5,1153.2 1565.0,1153.0 1565.5,1153.4 1566.0,1153.5 1566.5,1153.9 1567.0,1153.6 1567.5,1152.8 1568.0,1154.5 1568.5,1153.3 1569.0,1153.1 1569.5,1153.3 1570.0,1153.2 1570.5,1153.7 1571.0,1153.1 1571.5,1153.1 1572.0,1153.6 1572.5,1152.9 1573.0,1153.8 1573.5,1154.6 1574.0,1153.6 1574.5,1153.7 1575.0,1154.0 1575.5,1153.8 1576.0,1153.8 1576.5,1154.4 1577.0,1153.1 1577.5,1153.7 1578.0,1152.5 1578.5,1153.6 1579.0,1153.5 1579.5,1154.2 1580.0,1153.2 1580.5,1154.1 1581.0,1153.4 1581.5,1153.3 1582.0,1153.3 1582.5,1154.0 1583.0,1154.0 1583.5,1153.4 1584.0,1153.2 1584.5,1153.1 1585.0,1153.7 1585.5,1153.7 1586.0,1152.9 1586.5,1153.9 1587.0,1153.4 1587.5,1153.8 1588.0,1154.2 1588.5,1154.1 1589.0,1153.5 1589.5,1153.6 1590.0,1153.5 1590.5,1153.8 1591.0,1153.8 1591.5,1153.5 1592.0,1153.7 1592.5,1154.3 1593.0,1153.8 1593.5,1153.0 1594.0,1154.0 1594.5,1153.4 1595.0,1153.7 1595.5,1153.4 1596.0,1154.0 1596.5,1154.2 1597.0,1153.5 1597.5,1154.0 1598.0,1153.7 1598.5,1153.8 1599.0,1153.3 1599.5,1153.6 1600.0,1153.6 1600.5,1154.1 1601.0,1154.3 1601.5,1154.0 1602.0,1153.3 1602.5,1153.4 1603.0,1153.4 1603.5,1153.9 1604.0,1154.1 1604.5,1153.2 1605.0,1153.6 1605.5,1153.5 1606.0,1154.0 1606.5,1153.9 1607.0,1153.5 1607.5,1153.4 1608.0,1154.1 1608.5,1153.6 1609.0,1154.2 1609.5,1153.2 1610.0,1153.4 1610.5,1152.8 1611.0,1153.1 1611.5,1153.9 1612.0,1153.6 1612.5,1153.9 1613.0,1153.6 1613.5,1153.4 1614.0,1153.7 1614.5,1153.7 1615.0,1154.3 1615.5,1153.5 1616.0,1153.7 1616.5,1153.4 1617.0,1153.3 1617.5,1153.7 1618.0,1153.4 1618.5,1153.9 1619.0,1153.3 1619.5,1153.7 1620.0,1153.9 1620.5,1153.8 1621.0,1154.2 1621.5,1153.9 1622.0,1153.9 1622.5,1153.6 1623.0,1153.7 1623.5,1153.9 1624.0,1153.7 1624.5,1154.5 1625.0,1153.6 1625.5,1153.4 1626.0,1153.4 1626.5,1153.2 1627.0,1153.7 1627.5,1153.7 1628.0,1153.8 1628.5,1153.8 1629.0,1153.5 1629.5,1153.1 1630.0,1154.3 1630.5,1153.8 1631.0,1153.5 1631.5,1154.0 1632.0,1153.4 1632.5,1154.2 1633.0,1153.8 1633.5,1154.3 1634.0,1153.5 1634.5,1154.0 1635.0,1153.3 1635.5,1153.8 1636.0,1154.0 1636.5,1153.8 1637.0,1153.5 1637.5,1153.6 1638.0,1153.6 1638.5,1153.7 1639.0,1153.6 1639.5,1153.2 1640.0,1153.8 1640.5,1153.3 1641.0,1154.0 1641.5,1153.2 1642.0,1153.4 1642.5,1153.7 1643.0,1153.6 1643.5,1154.1 1644.0,1153.5 1644.5,1153.5 1645.0,1154.0 1645.5,1153.5 1646.0,1153.3 1646.5,1153.3 1647.0,1153.2 1647.5,1153.6 1648.0,1153.0 1648.5,1153.3 1649.0,1152.9 1649.5,1152.4 1650.0,1154.0 1650.5,1153.3 1651.0,1153.1 1651.5,1153.3 1652.0,1152.5 1652.5,1153.0 1653.0,1152.0 1653.5,1152.3 1654.0,1152.4 1654.5,1152.4 1655.0,1151.7 1655.5,1152.0 1656.0,1151.2 1656.5,1151.3 1657.0,1150.9 1657.5,1150.9 1658.0,1150.5 1658.5,1151.4 1659.0,1150.4 1659.2,1150.5 1659.5,1151.1 1660.0,1151.0 1660.5,1150.6 1661.0,1150.2 1661.5,1151.3 1662.0,1150.6 1662.5,1150.4 1663.0,1151.0 1663.5,1150.9 1664.0,1150.9 1664.5,1151.3 1665.0,1151.0 1665.5,1151.3 1666.0,1152.0 1666.5,1151.5 1667.0,1151.2 1667.5,1152.3 1668.0,1151.4 1668.5,1152.0 1669.0,1152.4 1669.5,1152.2 1670.0,1152.4 1670.5,1151.7 1671.0,1152.1 1671.5,1152.1 1672.0,1152.1 1672.5,1151.6 1673.0,1151.9 1673.5,1151.5 1674.0,1150.8 1674.5,1150.6 1675.0,1150.6 1675.5,1150.2 1676.0,1148.9 1676.5,1148.9 1677.0,1147.1 1677.5,1146.1 1678.0,1144.8 1678.5,1142.9 1679.0,1139.7 1679.5,1134.8 1680.0,1130.8 1680.5,1124.5 1681.0,1119.8 1681.4,1119.5 1681.5,1119.4 1682.0,1121.3 1682.5,1126.4 1683.0,1130.3 1683.5,1134.1 1684.0,1136.2 1684.5,1136.2 1685.0,1136.8 1685.5,1135.8 1686.0,1133.9 1686.5,1132.3 1687.0,1133.2 1687.5,1137.4 1688.0,1139.1 1688.5,1141.6 1689.0,1145.3 1689.5,1147.4 1690.0,1148.2 1690.5,1148.2 1691.0,1149.2 1691.5,1149.2 1692.0,1150.6 1692.5,1150.9 1693.0,1150.9 1693.5,1151.7 1694.0,1152.0 1694.5,1152.0 1695.0,1153.7 1695.5,1152.1 1696.0,1153.3 1696.5,1152.9 1697.0,1152.4 1697.5,1152.6 1698.0,1153.6 1698.5,1152.7 1699.0,1152.6 1699.5,1153.0 1700.0,1152.8 1700.5,1152.8 1701.0,1153.8 1701.5,1153.3 1702.0,1153.3 1702.5,1153.7 1703.0,1153.3 1703.5,1153.7 1704.0,1153.4 1704.5,1153.7 1705.0,1152.9 1705.5,1152.6 1706.0,1153.6 1706.5,1153.4 1707.0,1153.4 1707.5,1153.3 1708.0,1153.5 1708.5,1154.3 1709.0,1153.4 1709.5,1153.5 1710.0,1153.9 1710.5,1153.6 1711.0,1153.7 1711.5,1153.4 1712.0,1153.6 1712.5,1153.6 1713.0,1153.5 1713.5,1153.5 1714.0,1153.5 1714.5,1153.1 1715.0,1153.5 1715.5,1153.9 1716.0,1152.9 1716.5,1153.6 1717.0,1153.0 1717.5,1154.0 1718.0,1153.4 1718.5,1152.9 1719.0,1153.1 1719.5,1153.6 1720.0,1153.8 1720.5,1153.8 1721.0,1153.7 1721.5,1154.0 1722.0,1153.9 1722.5,1154.0 1723.0,1154.0 1723.5,1153.5 1724.0,1154.4 1724.5,1153.5 1725.0,1153.3 1725.5,1154.0 1726.0,1154.0 1726.5,1153.6 1727.0,1153.7 1727.5,1153.2 1728.0,1154.4 1728.5,1153.6 1729.0,1153.1 1729.5,1153.6 1730.0,1152.9 1730.5,1152.8 1731.0,1153.9 1731.5,1153.0 1732.0,1153.4 1732.5,1153.6 1733.0,1153.7 1733.5,1153.7 1734.0,1154.0 1734.5,1153.7 1735.0,1153.2 1735.5,1153.1 1736.0,1153.8 1736.5,1153.4 1737.0,1153.4 1737.5,1154.6 1738.0,1153.4 1738.5,1154.2 1739.0,1154.1 1739.5,1153.3 1740.0,1153.0 1740.5,1154.1 1741.0,1154.0 1741.5,1154.0 1742.0,1153.9 1742.5,1153.8 1743.0,1154.0 1743.5,1154.3 1744.0,1152.9 1744.5,1153.9 1745.0,1153.9 1745.5,1153.2 1746.0,1153.8 1746.5,1153.1 1747.0,1153.3 1747.5,1153.2 1748.0,1153.7 1748.5,1153.3 1749.0,1154.2 1749.5,1154.1 1750.0,1153.5 1750.5,1153.7 1751.0,1153.0 1751.5,1153.7 1752.0,1154.2 1752.5,1153.5 1753.0,1153.6 1753.5,1153.4 1754.0,1154.0 1754.5,1153.8 1755.0,1153.4 1755.5,1153.2 1756.0,1153.3 1756.5,1153.1 1757.0,1154.1 1757.5,1153.5 1758.0,1153.3 1758.5,1152.9 1759.0,1153.2 1759.5,1153.4 1760.0,1153.4 1760.5,1153.3 1761.0,1153.8 1761.5,1153.2 1762.0,1152.9 1762.5,1152.8 1763.0,1153.8 1763.5,1153.0 1764.0,1153.6 1764.5,1152.5 1765.0,1152.6 1765.5,1152.3 1766.0,1152.9 1766.5,1153.3 1767.0,1152.7 1767.5,1152.6 1768.0,1152.6 1768.5,1152.2 1769.0,1150.6 1769.5,1151.7 1770.0,1150.6 1770.5,1150.6 1771.0,1149.2 1771.5,1148.0 1772.0,1146.9 1772.5,1144.9 1773.0,1142.5 1773.5,1140.3 1774.0,1136.6 1774.5,1132.7 1775.0,1130.7 1775.2,1129.9 1775.5,1131.1 1776.0,1132.6 1776.5,1135.8 1777.0,1139.0 1777.5,1141.2 1778.0,1143.4 1778.5,1143.1 1779.0,1143.3 1779.5,1142.1 1780.0,1141.6 1780.5,1140.6 1781.0,1140.7 1781.5,1140.6 1782.0,1142.8 1782.5,1145.1 1783.0,1147.1 1783.5,1147.9 1784.0,1149.4 1784.5,1150.2 1785.0,1151.2 1785.5,1151.0 1786.0,1151.5 1786.5,1152.0 1787.0,1152.3 1787.5,1152.5 1788.0,1153.0 1788.5,1152.8 1789.0,1152.1 1789.5,1153.1 1790.0,1152.0 1790.5,1153.5 1791.0,1152.6 1791.5,1152.6 1792.0,1152.7 1792.5,1153.0 1793.0,1153.9 1793.5,1152.8 1794.0,1152.8 1794.5,1153.2 1795.0,1154.3 1795.5,1152.9 1796.0,1153.7 1796.5,1153.5 1797.0,1152.9 1797.5,1152.9 1798.0,1153.3 1798.5,1153.7 1799.0,1152.8 1799.5,1152.9 1800.0,1153.6 1800.5,1153.9 1801.0,1153.4 1801.5,1154.1 1802.0,1152.8 1802.5,1153.4 1803.0,1153.7 1803.5,1153.4 1804.0,1154.2 1804.5,1153.6 1805.0,1153.9 1805.5,1154.2 1806.0,1153.9 1806.5,1153.5 1807.0,1154.2 1807.5,1153.7 1808.0,1154.2 1808.5,1153.5 1809.0,1154.3 1809.5,1153.4 1810.0,1153.4 1810.5,1153.3 1811.0,1152.9 1811.5,1153.6 1812.0,1153.7 1812.5,1153.4 1813.0,1153.9 1813.5,1154.5 1814.0,1154.2 1814.5,1154.2 1815.0,1153.6 1815.5,1153.9 1816.0,1153.9 1816.5,1153.4 1817.0,1153.6 1817.5,1152.9 1818.0,1153.7 1818.5,1154.1 1819.0,1153.2 1819.5,1153.9 1820.0,1153.7 1820.5,1153.3 1821.0,1153.6 1821.5,1153.4 1822.0,1153.9 1822.5,1153.8 1823.0,1153.5 1823.5,1153.9 1824.0,1153.9 1824.5,1153.7 1825.0,1153.1 1825.5,1153.1 1826.0,1153.6 1826.5,1153.7 1827.0,1154.0 1827.5,1153.2 1828.0,1153.5 1828.5,1153.3 1829.0,1154.3 1829.5,1153.4 1830.0,1153.6 1830.5,1153.4 1831.0,1153.3 1831.5,1153.7 1832.0,1153.9 1832.5,1153.4 1833.0,1154.2 1833.5,1153.1 1834.0,1153.6 1834.5,1154.1 1835.0,1153.2 1835.5,1153.3 1836.0,1153.1 1836.5,1153.3 1837.0,1153.5 1837.5,1153.7 1838.0,1154.1 1838.5,1153.4 1839.0,1153.5 1839.5,1153.9"/>
</g>
<g fill="#000">
<rect x="206" y="141" width="5" height="1329"/>
<rect x="206" y="1455" width="1636" height="6"/>
<rect x="205.5" y="1458" width="5" height="12"/>
<rect x="331.0" y="1458" width="5" height="26"/>
<rect x="456.5" y="1458" width="5" height="12"/>
<rect x="582.0" y="1458" width="5" height="26"/>
<rect x="707.5" y="1458" width="5" height="12"/>
<rect x="833.0" y="1458" width="5" height="26"/>
<rect x="958.5" y="1458" width="5" height="12"/>
<rect x="1084.0" y="1458" width="5" height="26"/>
<rect x="1209.5" y="1458" width="5" height="12"/>
<rect x="1335.0" y="1458" width="5" height="26"/>
<rect x="1460.5" y="1458" width="5" height="12"/>
<rect x="1586.0" y="1458" width="5" height="26"/>
<rect x="1711.5" y="1458" width="5" height="12"/>
<rect x="1837.0" y="1458" width="5" height="26"/>
</g>
<g font-family="'Liberation Serif', 'Times New Roman', serif" font-size="89" fill="#000" text-anchor="middle">
<text x="333.5" y="1567.5">20</text>
<text x="584.5" y="1567.5">30</text>
<text x="835.5" y="1567.5">40</text>
<text x="1086.5" y="1567.5">50</text>
<text x="1337.5" y="1567.5">60</text>
<text x="1588.5" y="1567.5">70</text>
<text x="1839.5" y="1567.5">80</text>
</g>
<text x="838.6" y="1710.5" font-family="'Liberation Serif', 'Times New Roman', serif" font-size="87.5" fill="#000">2 Theta / °</text>
<text transform="translate(97.0 1025.5) rotate(-90)" font-family="'Liberation Serif', 'Times New Roman', serif" font-size="88.3" fill="#000">Intensity / a.u.</text>
<g font-family="'Liberation Serif', 'Times New Roman', serif" font-size="57" fill="#000" xml:space="preserve">
<text transform="translate(427.4 801.2) rotate(-90)">0 1 2</text>
<text transform="translate(676.5 215.3) rotate(-90)">1 0 4</text>
<text transform="translate(857.2 775.0) rotate(-90)">2 0 2</text>
<text transform="translate(1016.0 715.3) rotate(-90)">0 2 4</text>
<text transform="translate(1183.3 845.4) rotate(-90)">1 2 2</text>
<text transform="translate(1306.4 721.9) rotate(-90)">2 1 4</text>
<text transform="translate(1556.3 805.2) rotate(-90)">2 2 0</text>
<text transform="translate(1673.3 859.7) rotate(-90)">3 1 2</text>
<text transform="translate(1794.8 829.9) rotate(-90)">1 2 8</text>
</g>
<text x="1439.1" y="663.7" font-family="'Liberation Serif', 'Times New Roman', serif" font-size="68.5" fill="#000">Ag/LSCF<tspan dy="17.6">com</tspan><tspan dy="-17.6">-SP</tspan></text>
<text x="1440.4" y="1066.4" font-family="'Liberation Serif', 'Times New Roman', serif" font-size="68.5" fill="#000">Ag/LSCF<tspan dy="17.6">com</tspan><tspan dy="-17.6">-SC</tspan></text>
<text x="1436.2" y="1321.0" font-family="'Liberation Serif', 'Times New Roman', serif" font-size="68.5" fill="#000">Ag/LSCF<tspan dy="19.0">syn</tspan><tspan dy="-19.0">-SC</tspan></text>
<g font-family="'Liberation Serif', 'Times New Roman', serif" font-size="52" fill="#330066" text-anchor="middle">
<text x="589.4" y="724.8">#</text>
<text x="708.6" y="1010.8">#</text>
<text x="1330.1" y="938.4">#</text>
<text x="710.4" y="1291.0">#</text>
<text x="1347.0" y="1204.1">#</text>
</g>
<g font-family="'Liberation Serif', 'Times New Roman', serif" font-size="48" fill="#ff0000" text-anchor="middle">
<text x="710.7" y="868.8">*</text>
<text x="1090.8" y="873.9">*</text>
<text x="1327.5" y="872.4">*</text>
<text x="614.7" y="1400.4">*</text>
<text x="1218.6" y="1434.5">*</text>
</g>
<g font-family="'Liberation Sans', Arial, sans-serif" font-size="39.7" fill="#0069b4" stroke="#0069b4" stroke-width="1.9">
<text transform="translate(794.0 839.6) scale(1 0.855)" x="-11.3" y="10.6">o</text>
<text transform="translate(794.45 1108.0) scale(1 0.855)" x="-11.3" y="10.6">o</text>
<text transform="translate(949.4 1126.2) scale(1 0.855)" x="-11.3" y="10.6">o</text>
<text transform="translate(791.5 1380.0) scale(1 0.855)" x="-11.3" y="10.6">o</text>
<text transform="translate(949.4 1395.8) scale(1 0.855)" x="-11.3" y="10.6">o</text>
<text transform="translate(794.5 215.65) scale(1 0.855)" x="-11.3" y="10.6">o</text>
</g>
<text x="789.8" y="65.7" font-family="'Liberation Serif', 'Times New Roman', serif" font-size="53.5" fill="#330066" text-anchor="middle">#</text>
<text x="791.6" y="162.0" font-family="'Liberation Serif', 'Times New Roman', serif" font-size="48" fill="#ff0000" text-anchor="middle">*</text>
<text x="861" y="64" font-family="'Liberation Sans', Arial, sans-serif" font-size="57" fill="#330066" textLength="86" lengthAdjust="spacingAndGlyphs">YSZ</text>
<text x="847.6" y="154.5" font-family="'Liberation Sans', Arial, sans-serif" font-size="57" fill="#ee0000"><tspan textLength="141" lengthAdjust="spacingAndGlyphs">SrZrO</tspan><tspan x="990" dy="23" textLength="28.5" lengthAdjust="spacingAndGlyphs">3</tspan></text>
<text x="844" y="232" font-family="'Liberation Sans', Arial, sans-serif" font-size="55" fill="#0069b4" textLength="65" lengthAdjust="spacingAndGlyphs">Ag</text>
</svg></body></html>
